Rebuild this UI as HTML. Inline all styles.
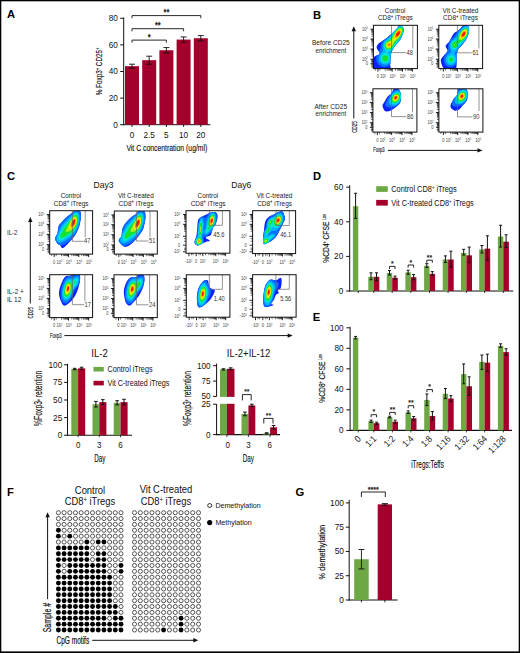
<!DOCTYPE html>
<html><head><meta charset="utf-8"><style>
html,body{margin:0;padding:0;background:#fff;width:520px;height:653px;overflow:hidden;position:relative}
text{font-family:"Liberation Sans",sans-serif}
</style></head><body>
<svg width="520" height="653" viewBox="0 0 520 653" style="position:absolute;left:0;top:0">
<g font-family='"Liberation Sans", sans-serif' fill="#111">
<rect x="0" y="0" width="520" height="1.3" fill="#000"/><rect x="0" y="0" width="1.3" height="653" fill="#000"/><rect x="518.7" y="0" width="1.3" height="653" fill="#000"/><rect x="0" y="651.4" width="520" height="1.6" fill="#000"/>
<text x="7.00" y="18.30" font-size="11.20" text-anchor="start" font-weight="bold" fill="#000" >A</text>
<text x="313.00" y="18.70" font-size="11.20" text-anchor="start" font-weight="bold" fill="#000" >B</text>
<text x="7.00" y="180.00" font-size="11.20" text-anchor="start" font-weight="bold" fill="#000" >C</text>
<text x="313.00" y="179.80" font-size="11.20" text-anchor="start" font-weight="bold" fill="#000" >D</text>
<text x="312.70" y="321.30" font-size="11.20" text-anchor="start" font-weight="bold" fill="#000" >E</text>
<text x="7.00" y="495.50" font-size="11.20" text-anchor="start" font-weight="bold" fill="#000" >F</text>
<text x="295.50" y="496.00" font-size="11.20" text-anchor="start" font-weight="bold" fill="#000" >G</text>
<line x1="123.70" y1="17.50" x2="123.70" y2="125.20" stroke="#111" stroke-width="1"/>
<line x1="123.20" y1="124.70" x2="210.40" y2="124.70" stroke="#111" stroke-width="1"/>
<line x1="120.20" y1="124.70" x2="123.70" y2="124.70" stroke="#111" stroke-width="1"/>
<text x="117.90" y="127.65" font-size="9.18" text-anchor="end" textLength="4.56" lengthAdjust="spacingAndGlyphs" >0</text>
<line x1="120.20" y1="98.10" x2="123.70" y2="98.10" stroke="#111" stroke-width="1"/>
<text x="117.90" y="101.05" font-size="9.18" text-anchor="end" textLength="9.12" lengthAdjust="spacingAndGlyphs" >20</text>
<line x1="120.20" y1="71.50" x2="123.70" y2="71.50" stroke="#111" stroke-width="1"/>
<text x="117.90" y="74.45" font-size="9.18" text-anchor="end" textLength="9.12" lengthAdjust="spacingAndGlyphs" >40</text>
<line x1="120.20" y1="44.90" x2="123.70" y2="44.90" stroke="#111" stroke-width="1"/>
<text x="117.90" y="47.85" font-size="9.18" text-anchor="end" textLength="9.12" lengthAdjust="spacingAndGlyphs" >60</text>
<line x1="120.20" y1="18.30" x2="123.70" y2="18.30" stroke="#111" stroke-width="1"/>
<text x="117.90" y="21.25" font-size="9.18" text-anchor="end" textLength="9.12" lengthAdjust="spacingAndGlyphs" >80</text>
<rect x="125.00" y="66.18" width="14.00" height="58.52" fill="#a5002b"/>
<line x1="132.00" y1="64.19" x2="132.00" y2="68.17" stroke="#111" stroke-width="0.9"/>
<line x1="129.00" y1="64.19" x2="135.00" y2="64.19" stroke="#111" stroke-width="0.9"/>
<line x1="129.00" y1="68.17" x2="135.00" y2="68.17" stroke="#111" stroke-width="0.9"/>
<line x1="132.00" y1="124.70" x2="132.00" y2="126.90" stroke="#111" stroke-width="1"/>
<text x="132.00" y="138.10" font-size="9.18" text-anchor="middle" textLength="4.56" lengthAdjust="spacingAndGlyphs" >0</text>
<rect x="142.20" y="60.19" width="14.00" height="64.51" fill="#a5002b"/>
<line x1="149.20" y1="56.20" x2="149.20" y2="64.19" stroke="#111" stroke-width="0.9"/>
<line x1="146.20" y1="56.20" x2="152.20" y2="56.20" stroke="#111" stroke-width="0.9"/>
<line x1="146.20" y1="64.19" x2="152.20" y2="64.19" stroke="#111" stroke-width="0.9"/>
<line x1="149.20" y1="124.70" x2="149.20" y2="126.90" stroke="#111" stroke-width="1"/>
<text x="149.20" y="138.10" font-size="9.18" text-anchor="middle" textLength="11.40" lengthAdjust="spacingAndGlyphs" >2.5</text>
<rect x="159.40" y="50.22" width="14.00" height="74.48" fill="#a5002b"/>
<line x1="166.40" y1="47.56" x2="166.40" y2="52.88" stroke="#111" stroke-width="0.9"/>
<line x1="163.40" y1="47.56" x2="169.40" y2="47.56" stroke="#111" stroke-width="0.9"/>
<line x1="163.40" y1="52.88" x2="169.40" y2="52.88" stroke="#111" stroke-width="0.9"/>
<line x1="166.40" y1="124.70" x2="166.40" y2="126.90" stroke="#111" stroke-width="1"/>
<text x="166.40" y="138.10" font-size="9.18" text-anchor="middle" textLength="4.56" lengthAdjust="spacingAndGlyphs" >5</text>
<rect x="176.60" y="39.58" width="14.00" height="85.12" fill="#a5002b"/>
<line x1="183.60" y1="36.92" x2="183.60" y2="42.24" stroke="#111" stroke-width="0.9"/>
<line x1="180.60" y1="36.92" x2="186.60" y2="36.92" stroke="#111" stroke-width="0.9"/>
<line x1="180.60" y1="42.24" x2="186.60" y2="42.24" stroke="#111" stroke-width="0.9"/>
<line x1="183.60" y1="124.70" x2="183.60" y2="126.90" stroke="#111" stroke-width="1"/>
<text x="183.60" y="138.10" font-size="9.18" text-anchor="middle" textLength="9.12" lengthAdjust="spacingAndGlyphs" >10</text>
<rect x="193.80" y="38.25" width="14.00" height="86.45" fill="#a5002b"/>
<line x1="200.80" y1="35.59" x2="200.80" y2="40.91" stroke="#111" stroke-width="0.9"/>
<line x1="197.80" y1="35.59" x2="203.80" y2="35.59" stroke="#111" stroke-width="0.9"/>
<line x1="197.80" y1="40.91" x2="203.80" y2="40.91" stroke="#111" stroke-width="0.9"/>
<line x1="200.80" y1="124.70" x2="200.80" y2="126.90" stroke="#111" stroke-width="1"/>
<text x="200.80" y="138.10" font-size="9.18" text-anchor="middle" textLength="9.12" lengthAdjust="spacingAndGlyphs" >20</text>
<text x="166.90" y="150.90" font-size="9.52" text-anchor="middle" textLength="81.00" lengthAdjust="spacingAndGlyphs" stroke="#111" stroke-width="0.15">Vit C concentration (ug/ml)</text>
<text x="102.2" y="71.4" font-size="9.1" text-anchor="middle" transform="rotate(-90 102.2 71.4)" stroke="#111" stroke-width="0.15" textLength="47.7" lengthAdjust="spacingAndGlyphs">% Foxp3<tspan dy="-3.2" font-size="6">+</tspan><tspan dy="3.2"> CD25</tspan><tspan dy="-3.2" font-size="6">+</tspan></text>
<polyline points="132.00,18.20 132.00,15.60 200.80,15.60 200.80,18.20" fill="none" stroke="#111" stroke-width="0.9"/>
<text x="166.40" y="15.30" font-size="8.40" text-anchor="middle" textLength="5.84" lengthAdjust="spacingAndGlyphs" stroke="#111" stroke-width="0.3">**</text>
<polyline points="132.00,31.30 132.00,28.70 183.60,28.70 183.60,31.30" fill="none" stroke="#111" stroke-width="0.9"/>
<text x="157.80" y="28.40" font-size="8.40" text-anchor="middle" textLength="5.84" lengthAdjust="spacingAndGlyphs" stroke="#111" stroke-width="0.3">**</text>
<polyline points="132.00,42.70 132.00,40.10 166.40,40.10 166.40,42.70" fill="none" stroke="#111" stroke-width="0.9"/>
<text x="149.20" y="39.80" font-size="8.40" text-anchor="middle" textLength="2.92" lengthAdjust="spacingAndGlyphs" stroke="#111" stroke-width="0.3">*</text>
<line x1="349.70" y1="185.20" x2="349.70" y2="291.50" stroke="#111" stroke-width="1"/>
<line x1="349.20" y1="291.00" x2="513.30" y2="291.00" stroke="#111" stroke-width="1.1"/>
<line x1="346.20" y1="291.00" x2="349.70" y2="291.00" stroke="#111" stroke-width="1"/>
<text x="343.20" y="293.95" font-size="9.18" text-anchor="end" textLength="4.56" lengthAdjust="spacingAndGlyphs" >0</text>
<line x1="346.20" y1="256.40" x2="349.70" y2="256.40" stroke="#111" stroke-width="1"/>
<text x="343.20" y="259.35" font-size="9.18" text-anchor="end" textLength="9.12" lengthAdjust="spacingAndGlyphs" >20</text>
<line x1="346.20" y1="221.80" x2="349.70" y2="221.80" stroke="#111" stroke-width="1"/>
<text x="343.20" y="224.75" font-size="9.18" text-anchor="end" textLength="9.12" lengthAdjust="spacingAndGlyphs" >40</text>
<line x1="346.20" y1="187.20" x2="349.70" y2="187.20" stroke="#111" stroke-width="1"/>
<text x="343.20" y="190.15" font-size="9.18" text-anchor="end" textLength="9.12" lengthAdjust="spacingAndGlyphs" >60</text>
<rect x="352.90" y="206.23" width="5.40" height="84.77" fill="#6da845"/>
<line x1="355.60" y1="193.25" x2="355.60" y2="218.34" stroke="#111" stroke-width="1.0"/>
<line x1="354.10" y1="193.25" x2="357.10" y2="193.25" stroke="#111" stroke-width="1.0"/>
<line x1="354.10" y1="218.34" x2="357.10" y2="218.34" stroke="#111" stroke-width="1.0"/>
<line x1="358.30" y1="291.00" x2="358.30" y2="293.00" stroke="#111" stroke-width="0.8"/>
<rect x="368.30" y="276.81" width="5.40" height="14.19" fill="#6da845"/>
<line x1="371.00" y1="272.83" x2="371.00" y2="279.75" stroke="#111" stroke-width="1.0"/>
<line x1="369.50" y1="272.83" x2="372.50" y2="272.83" stroke="#111" stroke-width="1.0"/>
<line x1="369.50" y1="279.75" x2="372.50" y2="279.75" stroke="#111" stroke-width="1.0"/>
<rect x="373.70" y="276.81" width="5.60" height="14.19" fill="#a5002b"/>
<line x1="376.50" y1="272.83" x2="376.50" y2="280.62" stroke="#111" stroke-width="1.0"/>
<line x1="375.00" y1="272.83" x2="378.00" y2="272.83" stroke="#111" stroke-width="1.0"/>
<line x1="375.00" y1="280.62" x2="378.00" y2="280.62" stroke="#111" stroke-width="1.0"/>
<line x1="373.70" y1="291.00" x2="373.70" y2="293.00" stroke="#111" stroke-width="0.8"/>
<rect x="386.80" y="273.01" width="5.40" height="17.99" fill="#6da845"/>
<line x1="389.50" y1="270.59" x2="389.50" y2="275.08" stroke="#111" stroke-width="1.0"/>
<line x1="388.00" y1="270.59" x2="391.00" y2="270.59" stroke="#111" stroke-width="1.0"/>
<line x1="388.00" y1="275.08" x2="391.00" y2="275.08" stroke="#111" stroke-width="1.0"/>
<rect x="392.20" y="277.68" width="5.60" height="13.32" fill="#a5002b"/>
<line x1="395.00" y1="276.12" x2="395.00" y2="279.24" stroke="#111" stroke-width="1.0"/>
<line x1="393.50" y1="276.12" x2="396.50" y2="276.12" stroke="#111" stroke-width="1.0"/>
<line x1="393.50" y1="279.24" x2="396.50" y2="279.24" stroke="#111" stroke-width="1.0"/>
<line x1="392.20" y1="291.00" x2="392.20" y2="293.00" stroke="#111" stroke-width="0.8"/>
<rect x="405.40" y="272.32" width="5.40" height="18.68" fill="#6da845"/>
<line x1="408.10" y1="270.24" x2="408.10" y2="274.22" stroke="#111" stroke-width="1.0"/>
<line x1="406.60" y1="270.24" x2="409.60" y2="270.24" stroke="#111" stroke-width="1.0"/>
<line x1="406.60" y1="274.22" x2="409.60" y2="274.22" stroke="#111" stroke-width="1.0"/>
<rect x="410.80" y="277.16" width="5.60" height="13.84" fill="#a5002b"/>
<line x1="413.60" y1="274.56" x2="413.60" y2="279.75" stroke="#111" stroke-width="1.0"/>
<line x1="412.10" y1="274.56" x2="415.10" y2="274.56" stroke="#111" stroke-width="1.0"/>
<line x1="412.10" y1="279.75" x2="415.10" y2="279.75" stroke="#111" stroke-width="1.0"/>
<line x1="410.80" y1="291.00" x2="410.80" y2="293.00" stroke="#111" stroke-width="0.8"/>
<rect x="424.10" y="265.74" width="5.40" height="25.26" fill="#6da845"/>
<line x1="426.80" y1="263.67" x2="426.80" y2="267.47" stroke="#111" stroke-width="1.0"/>
<line x1="425.30" y1="263.67" x2="428.30" y2="263.67" stroke="#111" stroke-width="1.0"/>
<line x1="425.30" y1="267.47" x2="428.30" y2="267.47" stroke="#111" stroke-width="1.0"/>
<rect x="429.50" y="273.87" width="5.60" height="17.13" fill="#a5002b"/>
<line x1="432.30" y1="271.62" x2="432.30" y2="275.60" stroke="#111" stroke-width="1.0"/>
<line x1="430.80" y1="271.62" x2="433.80" y2="271.62" stroke="#111" stroke-width="1.0"/>
<line x1="430.80" y1="275.60" x2="433.80" y2="275.60" stroke="#111" stroke-width="1.0"/>
<line x1="429.50" y1="291.00" x2="429.50" y2="293.00" stroke="#111" stroke-width="0.8"/>
<rect x="442.70" y="259.51" width="5.40" height="31.49" fill="#6da845"/>
<line x1="445.40" y1="255.88" x2="445.40" y2="262.45" stroke="#111" stroke-width="1.0"/>
<line x1="443.90" y1="255.88" x2="446.90" y2="255.88" stroke="#111" stroke-width="1.0"/>
<line x1="443.90" y1="262.45" x2="446.90" y2="262.45" stroke="#111" stroke-width="1.0"/>
<rect x="448.10" y="259.51" width="5.60" height="31.49" fill="#a5002b"/>
<line x1="450.90" y1="251.21" x2="450.90" y2="267.30" stroke="#111" stroke-width="1.0"/>
<line x1="449.40" y1="251.21" x2="452.40" y2="251.21" stroke="#111" stroke-width="1.0"/>
<line x1="449.40" y1="267.30" x2="452.40" y2="267.30" stroke="#111" stroke-width="1.0"/>
<line x1="448.10" y1="291.00" x2="448.10" y2="293.00" stroke="#111" stroke-width="0.8"/>
<rect x="461.00" y="252.94" width="5.40" height="38.06" fill="#6da845"/>
<line x1="463.70" y1="249.31" x2="463.70" y2="255.02" stroke="#111" stroke-width="1.0"/>
<line x1="462.20" y1="249.31" x2="465.20" y2="249.31" stroke="#111" stroke-width="1.0"/>
<line x1="462.20" y1="255.02" x2="465.20" y2="255.02" stroke="#111" stroke-width="1.0"/>
<rect x="466.40" y="255.36" width="5.60" height="35.64" fill="#a5002b"/>
<line x1="469.20" y1="247.06" x2="469.20" y2="262.63" stroke="#111" stroke-width="1.0"/>
<line x1="467.70" y1="247.06" x2="470.70" y2="247.06" stroke="#111" stroke-width="1.0"/>
<line x1="467.70" y1="262.63" x2="470.70" y2="262.63" stroke="#111" stroke-width="1.0"/>
<line x1="466.40" y1="291.00" x2="466.40" y2="293.00" stroke="#111" stroke-width="0.8"/>
<rect x="479.20" y="249.48" width="5.40" height="41.52" fill="#6da845"/>
<line x1="481.90" y1="245.50" x2="481.90" y2="252.94" stroke="#111" stroke-width="1.0"/>
<line x1="480.40" y1="245.50" x2="483.40" y2="245.50" stroke="#111" stroke-width="1.0"/>
<line x1="480.40" y1="252.94" x2="483.40" y2="252.94" stroke="#111" stroke-width="1.0"/>
<rect x="484.60" y="248.62" width="5.60" height="42.38" fill="#a5002b"/>
<line x1="487.40" y1="235.81" x2="487.40" y2="260.73" stroke="#111" stroke-width="1.0"/>
<line x1="485.90" y1="235.81" x2="488.90" y2="235.81" stroke="#111" stroke-width="1.0"/>
<line x1="485.90" y1="260.73" x2="488.90" y2="260.73" stroke="#111" stroke-width="1.0"/>
<line x1="484.60" y1="291.00" x2="484.60" y2="293.00" stroke="#111" stroke-width="0.8"/>
<rect x="497.90" y="236.50" width="5.40" height="54.50" fill="#6da845"/>
<line x1="500.60" y1="225.26" x2="500.60" y2="247.06" stroke="#111" stroke-width="1.0"/>
<line x1="499.10" y1="225.26" x2="502.10" y2="225.26" stroke="#111" stroke-width="1.0"/>
<line x1="499.10" y1="247.06" x2="502.10" y2="247.06" stroke="#111" stroke-width="1.0"/>
<rect x="503.30" y="241.69" width="5.60" height="49.31" fill="#a5002b"/>
<line x1="506.10" y1="234.77" x2="506.10" y2="247.23" stroke="#111" stroke-width="1.0"/>
<line x1="504.60" y1="234.77" x2="507.60" y2="234.77" stroke="#111" stroke-width="1.0"/>
<line x1="504.60" y1="247.23" x2="507.60" y2="247.23" stroke="#111" stroke-width="1.0"/>
<line x1="503.30" y1="291.00" x2="503.30" y2="293.00" stroke="#111" stroke-width="0.8"/>
<polyline points="389.50,269.00 389.50,266.40 395.00,266.40 395.00,269.00" fill="none" stroke="#111" stroke-width="0.9"/>
<text x="392.20" y="266.10" font-size="7.62" text-anchor="middle" textLength="2.65" lengthAdjust="spacingAndGlyphs" stroke="#111" stroke-width="0.2">*</text>
<polyline points="408.10,267.60 408.10,265.00 413.60,265.00 413.60,267.60" fill="none" stroke="#111" stroke-width="0.9"/>
<text x="410.80" y="264.70" font-size="7.62" text-anchor="middle" textLength="2.65" lengthAdjust="spacingAndGlyphs" stroke="#111" stroke-width="0.2">*</text>
<polyline points="426.80,262.80 426.80,260.20 432.30,260.20 432.30,262.80" fill="none" stroke="#111" stroke-width="0.9"/>
<text x="429.50" y="259.90" font-size="7.62" text-anchor="middle" textLength="5.29" lengthAdjust="spacingAndGlyphs" stroke="#111" stroke-width="0.2">**</text>
<rect x="376.20" y="186.20" width="11.60" height="5.70" fill="#6da845"/>
<rect x="376.20" y="199.90" width="11.60" height="5.70" fill="#a5002b"/>
<text x="391.2" y="191.9" font-size="8.40" textLength="65.5" lengthAdjust="spacingAndGlyphs">Control CD8<tspan dy="-2.8" font-size="4.8">+</tspan><tspan dy="2.8"> iTregs</tspan></text>
<text x="391.2" y="205.7" font-size="8.40" textLength="82.5" lengthAdjust="spacingAndGlyphs">Vit C-treated CD8<tspan dy="-2.8" font-size="4.8">+</tspan><tspan dy="2.8"> iTregs</tspan></text>
<text x="328.8" y="238.4" font-size="9.8" text-anchor="middle" transform="rotate(-90 328.8 238.4)" stroke="#111" stroke-width="0.15" textLength="48.7" lengthAdjust="spacingAndGlyphs">%CD4<tspan dy="-2.8" font-size="5">+</tspan><tspan dy="2.8"> CFSE </tspan><tspan dy="-3" font-size="4.5">Low</tspan></text>
<line x1="350.10" y1="326.80" x2="350.10" y2="430.90" stroke="#111" stroke-width="1"/>
<line x1="349.60" y1="430.40" x2="512.00" y2="430.40" stroke="#111" stroke-width="1.1"/>
<line x1="346.40" y1="430.40" x2="349.90" y2="430.40" stroke="#111" stroke-width="1"/>
<text x="343.60" y="433.35" font-size="9.18" text-anchor="end" textLength="4.56" lengthAdjust="spacingAndGlyphs" >0</text>
<line x1="346.40" y1="409.88" x2="349.90" y2="409.88" stroke="#111" stroke-width="1"/>
<text x="343.60" y="412.83" font-size="9.18" text-anchor="end" textLength="9.12" lengthAdjust="spacingAndGlyphs" >20</text>
<line x1="346.40" y1="389.36" x2="349.90" y2="389.36" stroke="#111" stroke-width="1"/>
<text x="343.60" y="392.31" font-size="9.18" text-anchor="end" textLength="9.12" lengthAdjust="spacingAndGlyphs" >40</text>
<line x1="346.40" y1="368.84" x2="349.90" y2="368.84" stroke="#111" stroke-width="1"/>
<text x="343.60" y="371.79" font-size="9.18" text-anchor="end" textLength="9.12" lengthAdjust="spacingAndGlyphs" >60</text>
<line x1="346.40" y1="348.32" x2="349.90" y2="348.32" stroke="#111" stroke-width="1"/>
<text x="343.60" y="351.27" font-size="9.18" text-anchor="end" textLength="9.12" lengthAdjust="spacingAndGlyphs" >80</text>
<line x1="346.40" y1="327.80" x2="349.90" y2="327.80" stroke="#111" stroke-width="1"/>
<text x="343.60" y="330.75" font-size="9.18" text-anchor="end" textLength="13.68" lengthAdjust="spacingAndGlyphs" >100</text>
<rect x="352.90" y="337.75" width="5.40" height="92.65" fill="#6da845"/>
<line x1="355.60" y1="336.42" x2="355.60" y2="338.88" stroke="#111" stroke-width="1.0"/>
<line x1="354.10" y1="336.42" x2="357.10" y2="336.42" stroke="#111" stroke-width="1.0"/>
<line x1="354.10" y1="338.88" x2="357.10" y2="338.88" stroke="#111" stroke-width="1.0"/>
<line x1="358.30" y1="430.40" x2="358.30" y2="432.40" stroke="#111" stroke-width="0.8"/>
<rect x="368.40" y="421.17" width="5.40" height="9.23" fill="#6da845"/>
<line x1="371.10" y1="420.14" x2="371.10" y2="422.40" stroke="#111" stroke-width="1.0"/>
<line x1="369.60" y1="420.14" x2="372.60" y2="420.14" stroke="#111" stroke-width="1.0"/>
<line x1="369.60" y1="422.40" x2="372.60" y2="422.40" stroke="#111" stroke-width="1.0"/>
<rect x="373.80" y="423.22" width="5.60" height="7.18" fill="#a5002b"/>
<line x1="376.60" y1="422.19" x2="376.60" y2="424.24" stroke="#111" stroke-width="1.0"/>
<line x1="375.10" y1="422.19" x2="378.10" y2="422.19" stroke="#111" stroke-width="1.0"/>
<line x1="375.10" y1="424.24" x2="378.10" y2="424.24" stroke="#111" stroke-width="1.0"/>
<line x1="373.80" y1="430.40" x2="373.80" y2="432.40" stroke="#111" stroke-width="0.8"/>
<rect x="387.00" y="417.06" width="5.40" height="13.34" fill="#6da845"/>
<line x1="389.70" y1="416.24" x2="389.70" y2="417.88" stroke="#111" stroke-width="1.0"/>
<line x1="388.20" y1="416.24" x2="391.20" y2="416.24" stroke="#111" stroke-width="1.0"/>
<line x1="388.20" y1="417.88" x2="391.20" y2="417.88" stroke="#111" stroke-width="1.0"/>
<rect x="392.40" y="421.68" width="5.60" height="8.72" fill="#a5002b"/>
<line x1="395.20" y1="420.14" x2="395.20" y2="423.22" stroke="#111" stroke-width="1.0"/>
<line x1="393.70" y1="420.14" x2="396.70" y2="420.14" stroke="#111" stroke-width="1.0"/>
<line x1="393.70" y1="423.22" x2="396.70" y2="423.22" stroke="#111" stroke-width="1.0"/>
<line x1="392.40" y1="430.40" x2="392.40" y2="432.40" stroke="#111" stroke-width="0.8"/>
<rect x="405.50" y="412.34" width="5.40" height="18.06" fill="#6da845"/>
<line x1="408.20" y1="410.91" x2="408.20" y2="413.47" stroke="#111" stroke-width="1.0"/>
<line x1="406.70" y1="410.91" x2="409.70" y2="410.91" stroke="#111" stroke-width="1.0"/>
<line x1="406.70" y1="413.47" x2="409.70" y2="413.47" stroke="#111" stroke-width="1.0"/>
<rect x="410.90" y="418.29" width="5.60" height="12.11" fill="#a5002b"/>
<line x1="413.70" y1="416.55" x2="413.70" y2="420.14" stroke="#111" stroke-width="1.0"/>
<line x1="412.20" y1="416.55" x2="415.20" y2="416.55" stroke="#111" stroke-width="1.0"/>
<line x1="412.20" y1="420.14" x2="415.20" y2="420.14" stroke="#111" stroke-width="1.0"/>
<line x1="410.90" y1="430.40" x2="410.90" y2="432.40" stroke="#111" stroke-width="0.8"/>
<rect x="424.20" y="400.03" width="5.40" height="30.37" fill="#6da845"/>
<line x1="426.90" y1="393.98" x2="426.90" y2="405.57" stroke="#111" stroke-width="1.0"/>
<line x1="425.40" y1="393.98" x2="428.40" y2="393.98" stroke="#111" stroke-width="1.0"/>
<line x1="425.40" y1="405.57" x2="428.40" y2="405.57" stroke="#111" stroke-width="1.0"/>
<rect x="429.60" y="415.93" width="5.60" height="14.47" fill="#a5002b"/>
<line x1="432.40" y1="411.62" x2="432.40" y2="419.93" stroke="#111" stroke-width="1.0"/>
<line x1="430.90" y1="411.62" x2="433.90" y2="411.62" stroke="#111" stroke-width="1.0"/>
<line x1="430.90" y1="419.93" x2="433.90" y2="419.93" stroke="#111" stroke-width="1.0"/>
<line x1="429.60" y1="430.40" x2="429.60" y2="432.40" stroke="#111" stroke-width="0.8"/>
<rect x="442.70" y="393.77" width="5.40" height="36.63" fill="#6da845"/>
<line x1="445.40" y1="388.54" x2="445.40" y2="398.59" stroke="#111" stroke-width="1.0"/>
<line x1="443.90" y1="388.54" x2="446.90" y2="388.54" stroke="#111" stroke-width="1.0"/>
<line x1="443.90" y1="398.59" x2="446.90" y2="398.59" stroke="#111" stroke-width="1.0"/>
<rect x="448.10" y="398.59" width="5.60" height="31.81" fill="#a5002b"/>
<line x1="450.90" y1="395.72" x2="450.90" y2="401.67" stroke="#111" stroke-width="1.0"/>
<line x1="449.40" y1="395.72" x2="452.40" y2="395.72" stroke="#111" stroke-width="1.0"/>
<line x1="449.40" y1="401.67" x2="452.40" y2="401.67" stroke="#111" stroke-width="1.0"/>
<line x1="448.10" y1="430.40" x2="448.10" y2="432.40" stroke="#111" stroke-width="0.8"/>
<rect x="461.00" y="374.18" width="5.40" height="56.22" fill="#6da845"/>
<line x1="463.70" y1="363.92" x2="463.70" y2="383.72" stroke="#111" stroke-width="1.0"/>
<line x1="462.20" y1="363.92" x2="465.20" y2="363.92" stroke="#111" stroke-width="1.0"/>
<line x1="462.20" y1="383.72" x2="465.20" y2="383.72" stroke="#111" stroke-width="1.0"/>
<rect x="466.40" y="386.28" width="5.60" height="44.12" fill="#a5002b"/>
<line x1="469.20" y1="376.84" x2="469.20" y2="395.52" stroke="#111" stroke-width="1.0"/>
<line x1="467.70" y1="376.84" x2="470.70" y2="376.84" stroke="#111" stroke-width="1.0"/>
<line x1="467.70" y1="395.52" x2="470.70" y2="395.52" stroke="#111" stroke-width="1.0"/>
<line x1="466.40" y1="430.40" x2="466.40" y2="432.40" stroke="#111" stroke-width="0.8"/>
<rect x="479.20" y="361.86" width="5.40" height="68.54" fill="#6da845"/>
<line x1="481.90" y1="354.99" x2="481.90" y2="369.35" stroke="#111" stroke-width="1.0"/>
<line x1="480.40" y1="354.99" x2="483.40" y2="354.99" stroke="#111" stroke-width="1.0"/>
<line x1="480.40" y1="369.35" x2="483.40" y2="369.35" stroke="#111" stroke-width="1.0"/>
<rect x="484.60" y="362.68" width="5.60" height="67.72" fill="#a5002b"/>
<line x1="487.40" y1="354.17" x2="487.40" y2="371.40" stroke="#111" stroke-width="1.0"/>
<line x1="485.90" y1="354.17" x2="488.90" y2="354.17" stroke="#111" stroke-width="1.0"/>
<line x1="485.90" y1="371.40" x2="488.90" y2="371.40" stroke="#111" stroke-width="1.0"/>
<line x1="484.60" y1="430.40" x2="484.60" y2="432.40" stroke="#111" stroke-width="0.8"/>
<rect x="497.90" y="345.86" width="5.40" height="84.54" fill="#6da845"/>
<line x1="500.60" y1="343.81" x2="500.60" y2="347.40" stroke="#111" stroke-width="1.0"/>
<line x1="499.10" y1="343.81" x2="502.10" y2="343.81" stroke="#111" stroke-width="1.0"/>
<line x1="499.10" y1="347.40" x2="502.10" y2="347.40" stroke="#111" stroke-width="1.0"/>
<rect x="503.30" y="352.12" width="5.60" height="78.28" fill="#a5002b"/>
<line x1="506.10" y1="348.73" x2="506.10" y2="355.50" stroke="#111" stroke-width="1.0"/>
<line x1="504.60" y1="348.73" x2="507.60" y2="348.73" stroke="#111" stroke-width="1.0"/>
<line x1="504.60" y1="355.50" x2="507.60" y2="355.50" stroke="#111" stroke-width="1.0"/>
<line x1="503.30" y1="430.40" x2="503.30" y2="432.40" stroke="#111" stroke-width="0.8"/>
<polyline points="371.10,417.30 371.10,414.70 376.60,414.70 376.60,417.30" fill="none" stroke="#111" stroke-width="0.9"/>
<text x="373.80" y="414.40" font-size="7.62" text-anchor="middle" textLength="2.65" lengthAdjust="spacingAndGlyphs" stroke="#111" stroke-width="0.2">*</text>
<polyline points="389.70,415.00 389.70,412.40 395.20,412.40 395.20,415.00" fill="none" stroke="#111" stroke-width="0.9"/>
<text x="392.40" y="412.10" font-size="7.62" text-anchor="middle" textLength="5.29" lengthAdjust="spacingAndGlyphs" stroke="#111" stroke-width="0.2">**</text>
<polyline points="408.20,408.30 408.20,405.70 413.70,405.70 413.70,408.30" fill="none" stroke="#111" stroke-width="0.9"/>
<text x="410.90" y="405.40" font-size="7.62" text-anchor="middle" textLength="5.29" lengthAdjust="spacingAndGlyphs" stroke="#111" stroke-width="0.2">**</text>
<polyline points="426.90,392.20 426.90,389.60 432.40,389.60 432.40,392.20" fill="none" stroke="#111" stroke-width="0.9"/>
<text x="429.60" y="389.30" font-size="7.62" text-anchor="middle" textLength="2.65" lengthAdjust="spacingAndGlyphs" stroke="#111" stroke-width="0.2">*</text>
<text x="361.60" y="439.40" font-size="9.3" text-anchor="end" textLength="4.62" lengthAdjust="spacingAndGlyphs" transform="rotate(-45 361.60 439.40)">0</text>
<text x="377.10" y="439.40" font-size="9.3" text-anchor="end" textLength="11.54" lengthAdjust="spacingAndGlyphs" transform="rotate(-45 377.10 439.40)">1:1</text>
<text x="395.70" y="439.40" font-size="9.3" text-anchor="end" textLength="11.54" lengthAdjust="spacingAndGlyphs" transform="rotate(-45 395.70 439.40)">1:2</text>
<text x="414.20" y="439.40" font-size="9.3" text-anchor="end" textLength="11.54" lengthAdjust="spacingAndGlyphs" transform="rotate(-45 414.20 439.40)">1:4</text>
<text x="432.90" y="439.40" font-size="9.3" text-anchor="end" textLength="11.54" lengthAdjust="spacingAndGlyphs" transform="rotate(-45 432.90 439.40)">1:8</text>
<text x="451.40" y="439.40" font-size="9.3" text-anchor="end" textLength="16.15" lengthAdjust="spacingAndGlyphs" transform="rotate(-45 451.40 439.40)">1:16</text>
<text x="469.70" y="439.40" font-size="9.3" text-anchor="end" textLength="16.15" lengthAdjust="spacingAndGlyphs" transform="rotate(-45 469.70 439.40)">1:32</text>
<text x="487.90" y="439.40" font-size="9.3" text-anchor="end" textLength="16.15" lengthAdjust="spacingAndGlyphs" transform="rotate(-45 487.90 439.40)">1:64</text>
<text x="506.60" y="439.40" font-size="9.3" text-anchor="end" textLength="20.77" lengthAdjust="spacingAndGlyphs" transform="rotate(-45 506.60 439.40)">1:128</text>
<text x="427.50" y="468.20" font-size="10.75" text-anchor="middle" textLength="32.70" lengthAdjust="spacingAndGlyphs" stroke="#111" stroke-width="0.15">iTregs:Teffs</text>
<text x="324.8" y="378.4" font-size="9.8" text-anchor="middle" transform="rotate(-90 324.8 378.4)" stroke="#111" stroke-width="0.15" textLength="48.7" lengthAdjust="spacingAndGlyphs">%CD8<tspan dy="-2.8" font-size="5">+</tspan><tspan dy="2.8"> CFSE </tspan><tspan dy="-3" font-size="4.5">Low</tspan></text>
<line x1="67.50" y1="363.80" x2="67.50" y2="435.70" stroke="#111" stroke-width="1"/>
<line x1="67.00" y1="435.20" x2="132.00" y2="435.20" stroke="#111" stroke-width="1.1"/>
<line x1="64.10" y1="435.20" x2="67.80" y2="435.20" stroke="#111" stroke-width="1"/>
<text x="62.20" y="438.15" font-size="9.18" text-anchor="end" textLength="4.56" lengthAdjust="spacingAndGlyphs" >0</text>
<line x1="64.10" y1="417.60" x2="67.80" y2="417.60" stroke="#111" stroke-width="1"/>
<text x="62.20" y="420.55" font-size="9.18" text-anchor="end" textLength="9.12" lengthAdjust="spacingAndGlyphs" >25</text>
<line x1="64.10" y1="400.00" x2="67.80" y2="400.00" stroke="#111" stroke-width="1"/>
<text x="62.20" y="402.95" font-size="9.18" text-anchor="end" textLength="9.12" lengthAdjust="spacingAndGlyphs" >50</text>
<line x1="64.10" y1="382.40" x2="67.80" y2="382.40" stroke="#111" stroke-width="1"/>
<text x="62.20" y="385.35" font-size="9.18" text-anchor="end" textLength="9.12" lengthAdjust="spacingAndGlyphs" >75</text>
<line x1="64.10" y1="364.80" x2="67.80" y2="364.80" stroke="#111" stroke-width="1"/>
<text x="62.20" y="367.75" font-size="9.18" text-anchor="end" textLength="13.68" lengthAdjust="spacingAndGlyphs" >100</text>
<rect x="71.30" y="369.02" width="6.80" height="66.18" fill="#6da845"/>
<rect x="78.10" y="368.32" width="7.10" height="66.88" fill="#a5002b"/>
<line x1="74.70" y1="368.32" x2="74.70" y2="369.73" stroke="#111" stroke-width="1.0"/>
<line x1="72.90" y1="368.32" x2="76.50" y2="368.32" stroke="#111" stroke-width="1.0"/>
<line x1="72.90" y1="369.73" x2="76.50" y2="369.73" stroke="#111" stroke-width="1.0"/>
<line x1="81.60" y1="367.26" x2="81.60" y2="369.38" stroke="#111" stroke-width="1.0"/>
<line x1="79.80" y1="367.26" x2="83.40" y2="367.26" stroke="#111" stroke-width="1.0"/>
<line x1="79.80" y1="369.38" x2="83.40" y2="369.38" stroke="#111" stroke-width="1.0"/>
<line x1="78.10" y1="435.20" x2="78.10" y2="437.20" stroke="#111" stroke-width="0.8"/>
<text x="78.10" y="448.10" font-size="8.96" text-anchor="middle" textLength="4.45" lengthAdjust="spacingAndGlyphs" >0</text>
<rect x="92.50" y="404.22" width="6.80" height="30.98" fill="#6da845"/>
<rect x="99.30" y="402.11" width="7.10" height="33.09" fill="#a5002b"/>
<line x1="95.90" y1="401.41" x2="95.90" y2="407.04" stroke="#111" stroke-width="1.0"/>
<line x1="94.10" y1="401.41" x2="97.70" y2="401.41" stroke="#111" stroke-width="1.0"/>
<line x1="94.10" y1="407.04" x2="97.70" y2="407.04" stroke="#111" stroke-width="1.0"/>
<line x1="102.80" y1="399.65" x2="102.80" y2="404.58" stroke="#111" stroke-width="1.0"/>
<line x1="101.00" y1="399.65" x2="104.60" y2="399.65" stroke="#111" stroke-width="1.0"/>
<line x1="101.00" y1="404.58" x2="104.60" y2="404.58" stroke="#111" stroke-width="1.0"/>
<line x1="99.30" y1="435.20" x2="99.30" y2="437.20" stroke="#111" stroke-width="0.8"/>
<text x="99.30" y="448.10" font-size="8.96" text-anchor="middle" textLength="4.45" lengthAdjust="spacingAndGlyphs" >3</text>
<rect x="113.70" y="402.82" width="6.80" height="32.38" fill="#6da845"/>
<rect x="120.50" y="402.11" width="7.10" height="33.09" fill="#a5002b"/>
<line x1="117.10" y1="400.70" x2="117.10" y2="404.93" stroke="#111" stroke-width="1.0"/>
<line x1="115.30" y1="400.70" x2="118.90" y2="400.70" stroke="#111" stroke-width="1.0"/>
<line x1="115.30" y1="404.93" x2="118.90" y2="404.93" stroke="#111" stroke-width="1.0"/>
<line x1="124.00" y1="399.30" x2="124.00" y2="404.93" stroke="#111" stroke-width="1.0"/>
<line x1="122.20" y1="399.30" x2="125.80" y2="399.30" stroke="#111" stroke-width="1.0"/>
<line x1="122.20" y1="404.93" x2="125.80" y2="404.93" stroke="#111" stroke-width="1.0"/>
<line x1="120.50" y1="435.20" x2="120.50" y2="437.20" stroke="#111" stroke-width="0.8"/>
<text x="120.50" y="448.10" font-size="8.96" text-anchor="middle" textLength="4.45" lengthAdjust="spacingAndGlyphs" >6</text>
<text x="99.60" y="357.00" font-size="10.75" text-anchor="middle" textLength="16.54" lengthAdjust="spacingAndGlyphs" >IL-2</text>
<text x="99.80" y="461.50" font-size="10.98" text-anchor="middle" textLength="11.20" lengthAdjust="spacingAndGlyphs" stroke="#111" stroke-width="0.15">Day</text>
<rect x="93.50" y="366.90" width="10.30" height="4.60" fill="#6da845"/>
<rect x="93.50" y="380.80" width="10.30" height="4.60" fill="#a5002b"/>
<text x="107.50" y="372.00" font-size="8.29" text-anchor="start" textLength="45.00" lengthAdjust="spacingAndGlyphs" >Control iTregs</text>
<text x="107.50" y="385.50" font-size="8.29" text-anchor="start" textLength="61.90" lengthAdjust="spacingAndGlyphs" >Vit C-treated iTregs</text>
<text x="42.4" y="398.3" font-size="10.30" text-anchor="middle" transform="rotate(-90 42.4 398.3)" stroke="#111" stroke-width="0.15" textLength="55.4" lengthAdjust="spacingAndGlyphs">%Foxp3<tspan dy="-2.8" font-size="5">+</tspan><tspan dy="2.8"> retention</tspan></text>
<line x1="216.60" y1="363.50" x2="216.60" y2="396.40" stroke="#111" stroke-width="1"/>
<line x1="216.60" y1="404.20" x2="216.60" y2="435.10" stroke="#111" stroke-width="1"/>
<line x1="216.10" y1="434.60" x2="280.00" y2="434.60" stroke="#111" stroke-width="1.1"/>
<line x1="213.10" y1="365.70" x2="216.60" y2="365.70" stroke="#111" stroke-width="1"/>
<text x="210.60" y="368.65" font-size="9.18" text-anchor="end" textLength="13.68" lengthAdjust="spacingAndGlyphs" >100</text>
<line x1="213.10" y1="381.05" x2="216.60" y2="381.05" stroke="#111" stroke-width="1"/>
<text x="210.60" y="384.00" font-size="9.18" text-anchor="end" textLength="9.12" lengthAdjust="spacingAndGlyphs" >75</text>
<line x1="213.10" y1="396.40" x2="216.60" y2="396.40" stroke="#111" stroke-width="1"/>
<text x="210.60" y="399.35" font-size="9.18" text-anchor="end" textLength="9.12" lengthAdjust="spacingAndGlyphs" >50</text>
<line x1="213.10" y1="404.20" x2="216.60" y2="404.20" stroke="#111" stroke-width="1"/>
<text x="210.60" y="407.15" font-size="9.18" text-anchor="end" textLength="9.12" lengthAdjust="spacingAndGlyphs" >25</text>
<line x1="213.10" y1="434.60" x2="216.60" y2="434.60" stroke="#111" stroke-width="1"/>
<text x="210.60" y="437.55" font-size="9.18" text-anchor="end" textLength="4.56" lengthAdjust="spacingAndGlyphs" >0</text>
<rect x="220.00" y="369.38" width="6.90" height="27.52" fill="#6da845"/>
<rect x="226.90" y="368.77" width="7.60" height="28.13" fill="#a5002b"/>
<rect x="220.00" y="403.80" width="6.90" height="30.80" fill="#6da845"/>
<rect x="226.90" y="403.80" width="7.60" height="30.80" fill="#a5002b"/>
<line x1="223.45" y1="368.77" x2="223.45" y2="370.00" stroke="#111" stroke-width="1.0"/>
<line x1="221.65" y1="368.77" x2="225.25" y2="368.77" stroke="#111" stroke-width="1.0"/>
<line x1="221.65" y1="370.00" x2="225.25" y2="370.00" stroke="#111" stroke-width="1.0"/>
<line x1="230.70" y1="367.85" x2="230.70" y2="369.69" stroke="#111" stroke-width="1.0"/>
<line x1="228.90" y1="367.85" x2="232.50" y2="367.85" stroke="#111" stroke-width="1.0"/>
<line x1="228.90" y1="369.69" x2="232.50" y2="369.69" stroke="#111" stroke-width="1.0"/>
<line x1="226.90" y1="435.00" x2="226.90" y2="437.00" stroke="#111" stroke-width="0.8"/>
<rect x="241.50" y="413.93" width="6.90" height="20.67" fill="#6da845"/>
<rect x="248.40" y="405.42" width="6.90" height="29.18" fill="#a5002b"/>
<line x1="244.95" y1="412.10" x2="244.95" y2="415.75" stroke="#111" stroke-width="1.0"/>
<line x1="243.15" y1="412.10" x2="246.75" y2="412.10" stroke="#111" stroke-width="1.0"/>
<line x1="243.15" y1="415.75" x2="246.75" y2="415.75" stroke="#111" stroke-width="1.0"/>
<line x1="251.85" y1="404.20" x2="251.85" y2="406.63" stroke="#111" stroke-width="1.0"/>
<line x1="250.05" y1="404.20" x2="253.65" y2="404.20" stroke="#111" stroke-width="1.0"/>
<line x1="250.05" y1="406.63" x2="253.65" y2="406.63" stroke="#111" stroke-width="1.0"/>
<line x1="248.40" y1="435.00" x2="248.40" y2="437.00" stroke="#111" stroke-width="0.8"/>
<rect x="263.20" y="433.38" width="6.90" height="1.22" fill="#6da845"/>
<rect x="270.10" y="427.30" width="6.90" height="7.30" fill="#a5002b"/>
<line x1="266.65" y1="432.78" x2="266.65" y2="433.99" stroke="#111" stroke-width="1.0"/>
<line x1="264.85" y1="432.78" x2="268.45" y2="432.78" stroke="#111" stroke-width="1.0"/>
<line x1="264.85" y1="433.99" x2="268.45" y2="433.99" stroke="#111" stroke-width="1.0"/>
<line x1="273.55" y1="425.48" x2="273.55" y2="429.13" stroke="#111" stroke-width="1.0"/>
<line x1="271.75" y1="425.48" x2="275.35" y2="425.48" stroke="#111" stroke-width="1.0"/>
<line x1="271.75" y1="429.13" x2="275.35" y2="429.13" stroke="#111" stroke-width="1.0"/>
<line x1="270.10" y1="435.00" x2="270.10" y2="437.00" stroke="#111" stroke-width="0.8"/>
<text x="227.60" y="448.10" font-size="8.96" text-anchor="middle" textLength="4.45" lengthAdjust="spacingAndGlyphs" >0</text>
<text x="248.40" y="448.10" font-size="8.96" text-anchor="middle" textLength="4.45" lengthAdjust="spacingAndGlyphs" >3</text>
<text x="269.60" y="448.10" font-size="8.96" text-anchor="middle" textLength="4.45" lengthAdjust="spacingAndGlyphs" >6</text>
<polyline points="242.40,400.40 242.40,394.60 251.20,394.60 251.20,400.40" fill="none" stroke="#111" stroke-width="0.9"/>
<text x="246.80" y="394.40" font-size="7.62" text-anchor="middle" textLength="5.29" lengthAdjust="spacingAndGlyphs" stroke="#111" stroke-width="0.15">**</text>
<polyline points="263.80,423.50 263.80,418.40 273.00,418.40 273.00,423.50" fill="none" stroke="#111" stroke-width="0.9"/>
<text x="268.40" y="418.20" font-size="7.62" text-anchor="middle" textLength="5.29" lengthAdjust="spacingAndGlyphs" stroke="#111" stroke-width="0.15">**</text>
<text x="248.50" y="356.90" font-size="10.53" text-anchor="middle" textLength="43.40" lengthAdjust="spacingAndGlyphs" >IL-2+IL-12</text>
<text x="248.40" y="461.90" font-size="10.98" text-anchor="middle" textLength="11.20" lengthAdjust="spacingAndGlyphs" stroke="#111" stroke-width="0.15">Day</text>
<text x="190.6" y="398.6" font-size="10.30" text-anchor="middle" transform="rotate(-90 190.6 398.6)" stroke="#111" stroke-width="0.15" textLength="55" lengthAdjust="spacingAndGlyphs">%Foxp3<tspan dy="-2.8" font-size="5">+</tspan><tspan dy="2.8"> retention</tspan></text>
<line x1="349.20" y1="499.90" x2="349.20" y2="600.50" stroke="#111" stroke-width="1"/>
<line x1="348.70" y1="600.00" x2="397.60" y2="600.00" stroke="#111" stroke-width="1.1"/>
<line x1="345.80" y1="600.00" x2="349.20" y2="600.00" stroke="#111" stroke-width="1"/>
<text x="344.00" y="602.95" font-size="9.41" text-anchor="end" textLength="4.67" lengthAdjust="spacingAndGlyphs" >0</text>
<line x1="345.80" y1="575.73" x2="349.20" y2="575.73" stroke="#111" stroke-width="1"/>
<text x="344.00" y="578.68" font-size="9.41" text-anchor="end" textLength="9.34" lengthAdjust="spacingAndGlyphs" >25</text>
<line x1="345.80" y1="551.45" x2="349.20" y2="551.45" stroke="#111" stroke-width="1"/>
<text x="344.00" y="554.40" font-size="9.41" text-anchor="end" textLength="9.34" lengthAdjust="spacingAndGlyphs" >50</text>
<line x1="345.80" y1="527.17" x2="349.20" y2="527.17" stroke="#111" stroke-width="1"/>
<text x="344.00" y="530.12" font-size="9.41" text-anchor="end" textLength="9.34" lengthAdjust="spacingAndGlyphs" >75</text>
<line x1="345.80" y1="502.90" x2="349.20" y2="502.90" stroke="#111" stroke-width="1"/>
<text x="344.00" y="505.85" font-size="9.41" text-anchor="end" textLength="14.01" lengthAdjust="spacingAndGlyphs" >100</text>
<rect x="354.20" y="559.22" width="14.50" height="40.78" fill="#6da845"/>
<rect x="377.70" y="504.36" width="14.30" height="95.64" fill="#a5002b"/>
<line x1="361.45" y1="549.51" x2="361.45" y2="568.93" stroke="#111" stroke-width="0.9"/>
<line x1="358.45" y1="549.51" x2="364.45" y2="549.51" stroke="#111" stroke-width="0.9"/>
<line x1="358.45" y1="568.93" x2="364.45" y2="568.93" stroke="#111" stroke-width="0.9"/>
<line x1="384.85" y1="503.58" x2="384.85" y2="505.13" stroke="#111" stroke-width="0.9"/>
<line x1="381.85" y1="503.58" x2="387.85" y2="503.58" stroke="#111" stroke-width="0.9"/>
<line x1="381.85" y1="505.13" x2="387.85" y2="505.13" stroke="#111" stroke-width="0.9"/>
<line x1="361.45" y1="600.00" x2="361.45" y2="602.30" stroke="#111" stroke-width="0.9"/>
<line x1="384.85" y1="600.00" x2="384.85" y2="602.30" stroke="#111" stroke-width="0.9"/>
<polyline points="361.40,497.00 361.40,492.00 385.30,492.00 385.30,497.00" fill="none" stroke="#111" stroke-width="0.9"/>
<text x="373.30" y="492.20" font-size="7.84" text-anchor="middle" textLength="10.90" lengthAdjust="spacingAndGlyphs" stroke="#111" stroke-width="0.3">****</text>
<text x="324.80" y="552.10" font-size="9.40" text-anchor="middle" textLength="54.70" lengthAdjust="spacingAndGlyphs" transform="rotate(-90 324.8 552.1)" stroke="#111" stroke-width="0.15">% demethylation</text>
<circle cx="58.40" cy="512.70" r="2.05" fill="none" stroke="#222" stroke-width="0.75"/>
<circle cx="64.09" cy="512.70" r="2.05" fill="none" stroke="#222" stroke-width="0.75"/>
<circle cx="69.78" cy="512.70" r="2.05" fill="none" stroke="#222" stroke-width="0.75"/>
<circle cx="75.47" cy="512.70" r="2.05" fill="none" stroke="#222" stroke-width="0.75"/>
<circle cx="81.16" cy="512.70" r="2.05" fill="none" stroke="#222" stroke-width="0.75"/>
<circle cx="86.85" cy="512.70" r="2.05" fill="none" stroke="#222" stroke-width="0.75"/>
<circle cx="92.54" cy="512.70" r="2.05" fill="none" stroke="#222" stroke-width="0.75"/>
<circle cx="98.23" cy="512.70" r="2.05" fill="none" stroke="#222" stroke-width="0.75"/>
<circle cx="103.92" cy="512.70" r="2.05" fill="none" stroke="#222" stroke-width="0.75"/>
<circle cx="109.61" cy="512.70" r="2.05" fill="none" stroke="#222" stroke-width="0.75"/>
<circle cx="115.30" cy="512.70" r="2.05" fill="none" stroke="#222" stroke-width="0.75"/>
<circle cx="120.99" cy="512.70" r="2.05" fill="none" stroke="#222" stroke-width="0.75"/>
<circle cx="58.40" cy="518.57" r="2.05" fill="none" stroke="#222" stroke-width="0.75"/>
<circle cx="64.09" cy="518.57" r="2.05" fill="none" stroke="#222" stroke-width="0.75"/>
<circle cx="69.78" cy="518.57" r="2.05" fill="none" stroke="#222" stroke-width="0.75"/>
<circle cx="75.47" cy="518.57" r="2.05" fill="none" stroke="#222" stroke-width="0.75"/>
<circle cx="81.16" cy="518.57" r="2.05" fill="none" stroke="#222" stroke-width="0.75"/>
<circle cx="86.85" cy="518.57" r="2.05" fill="none" stroke="#222" stroke-width="0.75"/>
<circle cx="92.54" cy="518.57" r="2.05" fill="none" stroke="#222" stroke-width="0.75"/>
<circle cx="98.23" cy="518.57" r="2.05" fill="none" stroke="#222" stroke-width="0.75"/>
<circle cx="103.92" cy="518.57" r="2.05" fill="none" stroke="#222" stroke-width="0.75"/>
<circle cx="109.61" cy="518.57" r="2.05" fill="none" stroke="#222" stroke-width="0.75"/>
<circle cx="115.30" cy="518.57" r="2.05" fill="none" stroke="#222" stroke-width="0.75"/>
<circle cx="120.99" cy="518.57" r="2.05" fill="none" stroke="#222" stroke-width="0.75"/>
<circle cx="58.40" cy="524.43" r="2.05" fill="none" stroke="#222" stroke-width="0.75"/>
<circle cx="64.09" cy="524.43" r="2.05" fill="none" stroke="#222" stroke-width="0.75"/>
<circle cx="69.78" cy="524.43" r="2.05" fill="none" stroke="#222" stroke-width="0.75"/>
<circle cx="75.47" cy="524.43" r="2.05" fill="none" stroke="#222" stroke-width="0.75"/>
<circle cx="81.16" cy="524.43" r="2.05" fill="none" stroke="#222" stroke-width="0.75"/>
<circle cx="86.85" cy="524.43" r="2.05" fill="none" stroke="#222" stroke-width="0.75"/>
<circle cx="92.54" cy="524.43" r="2.05" fill="none" stroke="#222" stroke-width="0.75"/>
<circle cx="98.23" cy="524.43" r="2.05" fill="none" stroke="#222" stroke-width="0.75"/>
<circle cx="103.92" cy="524.43" r="2.05" fill="none" stroke="#222" stroke-width="0.75"/>
<circle cx="109.61" cy="524.43" r="2.05" fill="none" stroke="#222" stroke-width="0.75"/>
<circle cx="115.30" cy="524.43" r="2.05" fill="none" stroke="#222" stroke-width="0.75"/>
<circle cx="120.99" cy="524.43" r="2.05" fill="none" stroke="#222" stroke-width="0.75"/>
<circle cx="58.40" cy="530.30" r="2.45" fill="#000"/>
<circle cx="64.09" cy="530.30" r="2.05" fill="none" stroke="#222" stroke-width="0.75"/>
<circle cx="69.78" cy="530.30" r="2.05" fill="none" stroke="#222" stroke-width="0.75"/>
<circle cx="75.47" cy="530.30" r="2.05" fill="none" stroke="#222" stroke-width="0.75"/>
<circle cx="81.16" cy="530.30" r="2.05" fill="none" stroke="#222" stroke-width="0.75"/>
<circle cx="86.85" cy="530.30" r="2.05" fill="none" stroke="#222" stroke-width="0.75"/>
<circle cx="92.54" cy="530.30" r="2.05" fill="none" stroke="#222" stroke-width="0.75"/>
<circle cx="98.23" cy="530.30" r="2.05" fill="none" stroke="#222" stroke-width="0.75"/>
<circle cx="103.92" cy="530.30" r="2.05" fill="none" stroke="#222" stroke-width="0.75"/>
<circle cx="109.61" cy="530.30" r="2.05" fill="none" stroke="#222" stroke-width="0.75"/>
<circle cx="115.30" cy="530.30" r="2.05" fill="none" stroke="#222" stroke-width="0.75"/>
<circle cx="120.99" cy="530.30" r="2.05" fill="none" stroke="#222" stroke-width="0.75"/>
<circle cx="58.40" cy="536.16" r="2.45" fill="#000"/>
<circle cx="64.09" cy="536.16" r="2.05" fill="none" stroke="#222" stroke-width="0.75"/>
<circle cx="69.78" cy="536.16" r="2.45" fill="#000"/>
<circle cx="75.47" cy="536.16" r="2.05" fill="none" stroke="#222" stroke-width="0.75"/>
<circle cx="81.16" cy="536.16" r="2.05" fill="none" stroke="#222" stroke-width="0.75"/>
<circle cx="86.85" cy="536.16" r="2.05" fill="none" stroke="#222" stroke-width="0.75"/>
<circle cx="92.54" cy="536.16" r="2.05" fill="none" stroke="#222" stroke-width="0.75"/>
<circle cx="98.23" cy="536.16" r="2.05" fill="none" stroke="#222" stroke-width="0.75"/>
<circle cx="103.92" cy="536.16" r="2.05" fill="none" stroke="#222" stroke-width="0.75"/>
<circle cx="109.61" cy="536.16" r="2.05" fill="none" stroke="#222" stroke-width="0.75"/>
<circle cx="115.30" cy="536.16" r="2.05" fill="none" stroke="#222" stroke-width="0.75"/>
<circle cx="120.99" cy="536.16" r="2.05" fill="none" stroke="#222" stroke-width="0.75"/>
<circle cx="58.40" cy="542.03" r="2.05" fill="none" stroke="#222" stroke-width="0.75"/>
<circle cx="64.09" cy="542.03" r="2.05" fill="none" stroke="#222" stroke-width="0.75"/>
<circle cx="69.78" cy="542.03" r="2.05" fill="none" stroke="#222" stroke-width="0.75"/>
<circle cx="75.47" cy="542.03" r="2.05" fill="none" stroke="#222" stroke-width="0.75"/>
<circle cx="81.16" cy="542.03" r="2.05" fill="none" stroke="#222" stroke-width="0.75"/>
<circle cx="86.85" cy="542.03" r="2.45" fill="#000"/>
<circle cx="92.54" cy="542.03" r="2.05" fill="none" stroke="#222" stroke-width="0.75"/>
<circle cx="98.23" cy="542.03" r="2.45" fill="#000"/>
<circle cx="103.92" cy="542.03" r="2.45" fill="#000"/>
<circle cx="109.61" cy="542.03" r="2.05" fill="none" stroke="#222" stroke-width="0.75"/>
<circle cx="115.30" cy="542.03" r="2.05" fill="none" stroke="#222" stroke-width="0.75"/>
<circle cx="120.99" cy="542.03" r="2.05" fill="none" stroke="#222" stroke-width="0.75"/>
<circle cx="58.40" cy="547.89" r="2.45" fill="#000"/>
<circle cx="64.09" cy="547.89" r="2.45" fill="#000"/>
<circle cx="69.78" cy="547.89" r="2.45" fill="#000"/>
<circle cx="75.47" cy="547.89" r="2.45" fill="#000"/>
<circle cx="81.16" cy="547.89" r="2.45" fill="#000"/>
<circle cx="86.85" cy="547.89" r="2.45" fill="#000"/>
<circle cx="92.54" cy="547.89" r="2.05" fill="none" stroke="#222" stroke-width="0.75"/>
<circle cx="98.23" cy="547.89" r="2.05" fill="none" stroke="#222" stroke-width="0.75"/>
<circle cx="103.92" cy="547.89" r="2.05" fill="none" stroke="#222" stroke-width="0.75"/>
<circle cx="109.61" cy="547.89" r="2.05" fill="none" stroke="#222" stroke-width="0.75"/>
<circle cx="115.30" cy="547.89" r="2.05" fill="none" stroke="#222" stroke-width="0.75"/>
<circle cx="120.99" cy="547.89" r="2.05" fill="none" stroke="#222" stroke-width="0.75"/>
<circle cx="58.40" cy="553.75" r="2.45" fill="#000"/>
<circle cx="64.09" cy="553.75" r="2.45" fill="#000"/>
<circle cx="69.78" cy="553.75" r="2.45" fill="#000"/>
<circle cx="75.47" cy="553.75" r="2.45" fill="#000"/>
<circle cx="81.16" cy="553.75" r="2.45" fill="#000"/>
<circle cx="86.85" cy="553.75" r="2.45" fill="#000"/>
<circle cx="92.54" cy="553.75" r="2.05" fill="none" stroke="#222" stroke-width="0.75"/>
<circle cx="98.23" cy="553.75" r="2.45" fill="#000"/>
<circle cx="103.92" cy="553.75" r="2.45" fill="#000"/>
<circle cx="109.61" cy="553.75" r="2.05" fill="none" stroke="#222" stroke-width="0.75"/>
<circle cx="115.30" cy="553.75" r="2.05" fill="none" stroke="#222" stroke-width="0.75"/>
<circle cx="120.99" cy="553.75" r="2.05" fill="none" stroke="#222" stroke-width="0.75"/>
<circle cx="58.40" cy="559.62" r="2.45" fill="#000"/>
<circle cx="64.09" cy="559.62" r="2.45" fill="#000"/>
<circle cx="69.78" cy="559.62" r="2.45" fill="#000"/>
<circle cx="75.47" cy="559.62" r="2.45" fill="#000"/>
<circle cx="81.16" cy="559.62" r="2.45" fill="#000"/>
<circle cx="86.85" cy="559.62" r="2.45" fill="#000"/>
<circle cx="92.54" cy="559.62" r="2.05" fill="none" stroke="#222" stroke-width="0.75"/>
<circle cx="98.23" cy="559.62" r="2.45" fill="#000"/>
<circle cx="103.92" cy="559.62" r="2.45" fill="#000"/>
<circle cx="109.61" cy="559.62" r="2.05" fill="none" stroke="#222" stroke-width="0.75"/>
<circle cx="115.30" cy="559.62" r="2.05" fill="none" stroke="#222" stroke-width="0.75"/>
<circle cx="120.99" cy="559.62" r="2.05" fill="none" stroke="#222" stroke-width="0.75"/>
<circle cx="58.40" cy="565.49" r="2.45" fill="#000"/>
<circle cx="64.09" cy="565.49" r="2.05" fill="none" stroke="#222" stroke-width="0.75"/>
<circle cx="69.78" cy="565.49" r="2.45" fill="#000"/>
<circle cx="75.47" cy="565.49" r="2.45" fill="#000"/>
<circle cx="81.16" cy="565.49" r="2.45" fill="#000"/>
<circle cx="86.85" cy="565.49" r="2.45" fill="#000"/>
<circle cx="92.54" cy="565.49" r="2.45" fill="#000"/>
<circle cx="98.23" cy="565.49" r="2.45" fill="#000"/>
<circle cx="103.92" cy="565.49" r="2.45" fill="#000"/>
<circle cx="109.61" cy="565.49" r="2.05" fill="none" stroke="#222" stroke-width="0.75"/>
<circle cx="115.30" cy="565.49" r="2.05" fill="none" stroke="#222" stroke-width="0.75"/>
<circle cx="120.99" cy="565.49" r="2.45" fill="#000"/>
<circle cx="58.40" cy="571.35" r="2.45" fill="#000"/>
<circle cx="64.09" cy="571.35" r="2.05" fill="none" stroke="#222" stroke-width="0.75"/>
<circle cx="69.78" cy="571.35" r="2.45" fill="#000"/>
<circle cx="75.47" cy="571.35" r="2.45" fill="#000"/>
<circle cx="81.16" cy="571.35" r="2.45" fill="#000"/>
<circle cx="86.85" cy="571.35" r="2.45" fill="#000"/>
<circle cx="92.54" cy="571.35" r="2.45" fill="#000"/>
<circle cx="98.23" cy="571.35" r="2.45" fill="#000"/>
<circle cx="103.92" cy="571.35" r="2.45" fill="#000"/>
<circle cx="109.61" cy="571.35" r="2.05" fill="none" stroke="#222" stroke-width="0.75"/>
<circle cx="115.30" cy="571.35" r="2.05" fill="none" stroke="#222" stroke-width="0.75"/>
<circle cx="120.99" cy="571.35" r="2.45" fill="#000"/>
<circle cx="58.40" cy="577.22" r="2.45" fill="#000"/>
<circle cx="64.09" cy="577.22" r="2.45" fill="#000"/>
<circle cx="69.78" cy="577.22" r="2.45" fill="#000"/>
<circle cx="75.47" cy="577.22" r="2.45" fill="#000"/>
<circle cx="81.16" cy="577.22" r="2.45" fill="#000"/>
<circle cx="86.85" cy="577.22" r="2.45" fill="#000"/>
<circle cx="92.54" cy="577.22" r="2.45" fill="#000"/>
<circle cx="98.23" cy="577.22" r="2.45" fill="#000"/>
<circle cx="103.92" cy="577.22" r="2.45" fill="#000"/>
<circle cx="109.61" cy="577.22" r="2.45" fill="#000"/>
<circle cx="115.30" cy="577.22" r="2.05" fill="none" stroke="#222" stroke-width="0.75"/>
<circle cx="120.99" cy="577.22" r="2.05" fill="none" stroke="#222" stroke-width="0.75"/>
<circle cx="58.40" cy="583.08" r="2.45" fill="#000"/>
<circle cx="64.09" cy="583.08" r="2.45" fill="#000"/>
<circle cx="69.78" cy="583.08" r="2.45" fill="#000"/>
<circle cx="75.47" cy="583.08" r="2.45" fill="#000"/>
<circle cx="81.16" cy="583.08" r="2.45" fill="#000"/>
<circle cx="86.85" cy="583.08" r="2.45" fill="#000"/>
<circle cx="92.54" cy="583.08" r="2.45" fill="#000"/>
<circle cx="98.23" cy="583.08" r="2.45" fill="#000"/>
<circle cx="103.92" cy="583.08" r="2.45" fill="#000"/>
<circle cx="109.61" cy="583.08" r="2.45" fill="#000"/>
<circle cx="115.30" cy="583.08" r="2.05" fill="none" stroke="#222" stroke-width="0.75"/>
<circle cx="120.99" cy="583.08" r="2.05" fill="none" stroke="#222" stroke-width="0.75"/>
<circle cx="58.40" cy="588.95" r="2.45" fill="#000"/>
<circle cx="64.09" cy="588.95" r="2.45" fill="#000"/>
<circle cx="69.78" cy="588.95" r="2.45" fill="#000"/>
<circle cx="75.47" cy="588.95" r="2.45" fill="#000"/>
<circle cx="81.16" cy="588.95" r="2.45" fill="#000"/>
<circle cx="86.85" cy="588.95" r="2.45" fill="#000"/>
<circle cx="92.54" cy="588.95" r="2.45" fill="#000"/>
<circle cx="98.23" cy="588.95" r="2.45" fill="#000"/>
<circle cx="103.92" cy="588.95" r="2.45" fill="#000"/>
<circle cx="109.61" cy="588.95" r="2.45" fill="#000"/>
<circle cx="115.30" cy="588.95" r="2.05" fill="none" stroke="#222" stroke-width="0.75"/>
<circle cx="120.99" cy="588.95" r="2.05" fill="none" stroke="#222" stroke-width="0.75"/>
<circle cx="58.40" cy="594.81" r="2.45" fill="#000"/>
<circle cx="64.09" cy="594.81" r="2.45" fill="#000"/>
<circle cx="69.78" cy="594.81" r="2.45" fill="#000"/>
<circle cx="75.47" cy="594.81" r="2.45" fill="#000"/>
<circle cx="81.16" cy="594.81" r="2.45" fill="#000"/>
<circle cx="86.85" cy="594.81" r="2.45" fill="#000"/>
<circle cx="92.54" cy="594.81" r="2.45" fill="#000"/>
<circle cx="98.23" cy="594.81" r="2.45" fill="#000"/>
<circle cx="103.92" cy="594.81" r="2.45" fill="#000"/>
<circle cx="109.61" cy="594.81" r="2.45" fill="#000"/>
<circle cx="115.30" cy="594.81" r="2.05" fill="none" stroke="#222" stroke-width="0.75"/>
<circle cx="120.99" cy="594.81" r="2.05" fill="none" stroke="#222" stroke-width="0.75"/>
<circle cx="58.40" cy="600.68" r="2.45" fill="#000"/>
<circle cx="64.09" cy="600.68" r="2.45" fill="#000"/>
<circle cx="69.78" cy="600.68" r="2.45" fill="#000"/>
<circle cx="75.47" cy="600.68" r="2.45" fill="#000"/>
<circle cx="81.16" cy="600.68" r="2.45" fill="#000"/>
<circle cx="86.85" cy="600.68" r="2.45" fill="#000"/>
<circle cx="92.54" cy="600.68" r="2.45" fill="#000"/>
<circle cx="98.23" cy="600.68" r="2.45" fill="#000"/>
<circle cx="103.92" cy="600.68" r="2.45" fill="#000"/>
<circle cx="109.61" cy="600.68" r="2.45" fill="#000"/>
<circle cx="115.30" cy="600.68" r="2.05" fill="none" stroke="#222" stroke-width="0.75"/>
<circle cx="120.99" cy="600.68" r="2.05" fill="none" stroke="#222" stroke-width="0.75"/>
<circle cx="58.40" cy="606.54" r="2.45" fill="#000"/>
<circle cx="64.09" cy="606.54" r="2.45" fill="#000"/>
<circle cx="69.78" cy="606.54" r="2.45" fill="#000"/>
<circle cx="75.47" cy="606.54" r="2.45" fill="#000"/>
<circle cx="81.16" cy="606.54" r="2.45" fill="#000"/>
<circle cx="86.85" cy="606.54" r="2.45" fill="#000"/>
<circle cx="92.54" cy="606.54" r="2.45" fill="#000"/>
<circle cx="98.23" cy="606.54" r="2.45" fill="#000"/>
<circle cx="103.92" cy="606.54" r="2.45" fill="#000"/>
<circle cx="109.61" cy="606.54" r="2.45" fill="#000"/>
<circle cx="115.30" cy="606.54" r="2.45" fill="#000"/>
<circle cx="120.99" cy="606.54" r="2.05" fill="none" stroke="#222" stroke-width="0.75"/>
<circle cx="58.40" cy="612.41" r="2.45" fill="#000"/>
<circle cx="64.09" cy="612.41" r="2.45" fill="#000"/>
<circle cx="69.78" cy="612.41" r="2.45" fill="#000"/>
<circle cx="75.47" cy="612.41" r="2.45" fill="#000"/>
<circle cx="81.16" cy="612.41" r="2.45" fill="#000"/>
<circle cx="86.85" cy="612.41" r="2.45" fill="#000"/>
<circle cx="92.54" cy="612.41" r="2.45" fill="#000"/>
<circle cx="98.23" cy="612.41" r="2.45" fill="#000"/>
<circle cx="103.92" cy="612.41" r="2.45" fill="#000"/>
<circle cx="109.61" cy="612.41" r="2.45" fill="#000"/>
<circle cx="115.30" cy="612.41" r="2.45" fill="#000"/>
<circle cx="120.99" cy="612.41" r="2.05" fill="none" stroke="#222" stroke-width="0.75"/>
<circle cx="58.40" cy="618.27" r="2.45" fill="#000"/>
<circle cx="64.09" cy="618.27" r="2.45" fill="#000"/>
<circle cx="69.78" cy="618.27" r="2.45" fill="#000"/>
<circle cx="75.47" cy="618.27" r="2.45" fill="#000"/>
<circle cx="81.16" cy="618.27" r="2.45" fill="#000"/>
<circle cx="86.85" cy="618.27" r="2.45" fill="#000"/>
<circle cx="92.54" cy="618.27" r="2.45" fill="#000"/>
<circle cx="98.23" cy="618.27" r="2.45" fill="#000"/>
<circle cx="103.92" cy="618.27" r="2.45" fill="#000"/>
<circle cx="109.61" cy="618.27" r="2.05" fill="none" stroke="#222" stroke-width="0.75"/>
<circle cx="115.30" cy="618.27" r="2.45" fill="#000"/>
<circle cx="120.99" cy="618.27" r="2.45" fill="#000"/>
<circle cx="58.40" cy="624.13" r="2.45" fill="#000"/>
<circle cx="64.09" cy="624.13" r="2.45" fill="#000"/>
<circle cx="69.78" cy="624.13" r="2.45" fill="#000"/>
<circle cx="75.47" cy="624.13" r="2.45" fill="#000"/>
<circle cx="81.16" cy="624.13" r="2.45" fill="#000"/>
<circle cx="86.85" cy="624.13" r="2.45" fill="#000"/>
<circle cx="92.54" cy="624.13" r="2.45" fill="#000"/>
<circle cx="98.23" cy="624.13" r="2.45" fill="#000"/>
<circle cx="103.92" cy="624.13" r="2.45" fill="#000"/>
<circle cx="109.61" cy="624.13" r="2.45" fill="#000"/>
<circle cx="115.30" cy="624.13" r="2.45" fill="#000"/>
<circle cx="120.99" cy="624.13" r="2.45" fill="#000"/>
<circle cx="58.40" cy="630.00" r="2.45" fill="#000"/>
<circle cx="64.09" cy="630.00" r="2.45" fill="#000"/>
<circle cx="69.78" cy="630.00" r="2.45" fill="#000"/>
<circle cx="75.47" cy="630.00" r="2.45" fill="#000"/>
<circle cx="81.16" cy="630.00" r="2.45" fill="#000"/>
<circle cx="86.85" cy="630.00" r="2.45" fill="#000"/>
<circle cx="92.54" cy="630.00" r="2.45" fill="#000"/>
<circle cx="98.23" cy="630.00" r="2.45" fill="#000"/>
<circle cx="103.92" cy="630.00" r="2.45" fill="#000"/>
<circle cx="109.61" cy="630.00" r="2.45" fill="#000"/>
<circle cx="115.30" cy="630.00" r="2.45" fill="#000"/>
<circle cx="120.99" cy="630.00" r="2.45" fill="#000"/>
<circle cx="134.50" cy="512.70" r="2.05" fill="none" stroke="#222" stroke-width="0.75"/>
<circle cx="140.32" cy="512.70" r="2.05" fill="none" stroke="#222" stroke-width="0.75"/>
<circle cx="146.14" cy="512.70" r="2.05" fill="none" stroke="#222" stroke-width="0.75"/>
<circle cx="151.96" cy="512.70" r="2.05" fill="none" stroke="#222" stroke-width="0.75"/>
<circle cx="157.78" cy="512.70" r="2.05" fill="none" stroke="#222" stroke-width="0.75"/>
<circle cx="163.60" cy="512.70" r="2.05" fill="none" stroke="#222" stroke-width="0.75"/>
<circle cx="169.42" cy="512.70" r="2.05" fill="none" stroke="#222" stroke-width="0.75"/>
<circle cx="175.24" cy="512.70" r="2.05" fill="none" stroke="#222" stroke-width="0.75"/>
<circle cx="181.06" cy="512.70" r="2.05" fill="none" stroke="#222" stroke-width="0.75"/>
<circle cx="186.88" cy="512.70" r="2.05" fill="none" stroke="#222" stroke-width="0.75"/>
<circle cx="192.70" cy="512.70" r="2.05" fill="none" stroke="#222" stroke-width="0.75"/>
<circle cx="198.52" cy="512.70" r="2.05" fill="none" stroke="#222" stroke-width="0.75"/>
<circle cx="134.50" cy="518.57" r="2.05" fill="none" stroke="#222" stroke-width="0.75"/>
<circle cx="140.32" cy="518.57" r="2.05" fill="none" stroke="#222" stroke-width="0.75"/>
<circle cx="146.14" cy="518.57" r="2.05" fill="none" stroke="#222" stroke-width="0.75"/>
<circle cx="151.96" cy="518.57" r="2.05" fill="none" stroke="#222" stroke-width="0.75"/>
<circle cx="157.78" cy="518.57" r="2.05" fill="none" stroke="#222" stroke-width="0.75"/>
<circle cx="163.60" cy="518.57" r="2.05" fill="none" stroke="#222" stroke-width="0.75"/>
<circle cx="169.42" cy="518.57" r="2.05" fill="none" stroke="#222" stroke-width="0.75"/>
<circle cx="175.24" cy="518.57" r="2.05" fill="none" stroke="#222" stroke-width="0.75"/>
<circle cx="181.06" cy="518.57" r="2.05" fill="none" stroke="#222" stroke-width="0.75"/>
<circle cx="186.88" cy="518.57" r="2.05" fill="none" stroke="#222" stroke-width="0.75"/>
<circle cx="192.70" cy="518.57" r="2.05" fill="none" stroke="#222" stroke-width="0.75"/>
<circle cx="198.52" cy="518.57" r="2.05" fill="none" stroke="#222" stroke-width="0.75"/>
<circle cx="134.50" cy="524.43" r="2.05" fill="none" stroke="#222" stroke-width="0.75"/>
<circle cx="140.32" cy="524.43" r="2.05" fill="none" stroke="#222" stroke-width="0.75"/>
<circle cx="146.14" cy="524.43" r="2.05" fill="none" stroke="#222" stroke-width="0.75"/>
<circle cx="151.96" cy="524.43" r="2.05" fill="none" stroke="#222" stroke-width="0.75"/>
<circle cx="157.78" cy="524.43" r="2.05" fill="none" stroke="#222" stroke-width="0.75"/>
<circle cx="163.60" cy="524.43" r="2.05" fill="none" stroke="#222" stroke-width="0.75"/>
<circle cx="169.42" cy="524.43" r="2.05" fill="none" stroke="#222" stroke-width="0.75"/>
<circle cx="175.24" cy="524.43" r="2.05" fill="none" stroke="#222" stroke-width="0.75"/>
<circle cx="181.06" cy="524.43" r="2.05" fill="none" stroke="#222" stroke-width="0.75"/>
<circle cx="186.88" cy="524.43" r="2.05" fill="none" stroke="#222" stroke-width="0.75"/>
<circle cx="192.70" cy="524.43" r="2.05" fill="none" stroke="#222" stroke-width="0.75"/>
<circle cx="198.52" cy="524.43" r="2.05" fill="none" stroke="#222" stroke-width="0.75"/>
<circle cx="134.50" cy="530.30" r="2.05" fill="none" stroke="#222" stroke-width="0.75"/>
<circle cx="140.32" cy="530.30" r="2.05" fill="none" stroke="#222" stroke-width="0.75"/>
<circle cx="146.14" cy="530.30" r="2.05" fill="none" stroke="#222" stroke-width="0.75"/>
<circle cx="151.96" cy="530.30" r="2.05" fill="none" stroke="#222" stroke-width="0.75"/>
<circle cx="157.78" cy="530.30" r="2.05" fill="none" stroke="#222" stroke-width="0.75"/>
<circle cx="163.60" cy="530.30" r="2.05" fill="none" stroke="#222" stroke-width="0.75"/>
<circle cx="169.42" cy="530.30" r="2.05" fill="none" stroke="#222" stroke-width="0.75"/>
<circle cx="175.24" cy="530.30" r="2.05" fill="none" stroke="#222" stroke-width="0.75"/>
<circle cx="181.06" cy="530.30" r="2.05" fill="none" stroke="#222" stroke-width="0.75"/>
<circle cx="186.88" cy="530.30" r="2.05" fill="none" stroke="#222" stroke-width="0.75"/>
<circle cx="192.70" cy="530.30" r="2.05" fill="none" stroke="#222" stroke-width="0.75"/>
<circle cx="198.52" cy="530.30" r="2.05" fill="none" stroke="#222" stroke-width="0.75"/>
<circle cx="134.50" cy="536.16" r="2.05" fill="none" stroke="#222" stroke-width="0.75"/>
<circle cx="140.32" cy="536.16" r="2.05" fill="none" stroke="#222" stroke-width="0.75"/>
<circle cx="146.14" cy="536.16" r="2.05" fill="none" stroke="#222" stroke-width="0.75"/>
<circle cx="151.96" cy="536.16" r="2.05" fill="none" stroke="#222" stroke-width="0.75"/>
<circle cx="157.78" cy="536.16" r="2.05" fill="none" stroke="#222" stroke-width="0.75"/>
<circle cx="163.60" cy="536.16" r="2.05" fill="none" stroke="#222" stroke-width="0.75"/>
<circle cx="169.42" cy="536.16" r="2.05" fill="none" stroke="#222" stroke-width="0.75"/>
<circle cx="175.24" cy="536.16" r="2.05" fill="none" stroke="#222" stroke-width="0.75"/>
<circle cx="181.06" cy="536.16" r="2.05" fill="none" stroke="#222" stroke-width="0.75"/>
<circle cx="186.88" cy="536.16" r="2.05" fill="none" stroke="#222" stroke-width="0.75"/>
<circle cx="192.70" cy="536.16" r="2.05" fill="none" stroke="#222" stroke-width="0.75"/>
<circle cx="198.52" cy="536.16" r="2.05" fill="none" stroke="#222" stroke-width="0.75"/>
<circle cx="134.50" cy="542.03" r="2.05" fill="none" stroke="#222" stroke-width="0.75"/>
<circle cx="140.32" cy="542.03" r="2.05" fill="none" stroke="#222" stroke-width="0.75"/>
<circle cx="146.14" cy="542.03" r="2.05" fill="none" stroke="#222" stroke-width="0.75"/>
<circle cx="151.96" cy="542.03" r="2.05" fill="none" stroke="#222" stroke-width="0.75"/>
<circle cx="157.78" cy="542.03" r="2.05" fill="none" stroke="#222" stroke-width="0.75"/>
<circle cx="163.60" cy="542.03" r="2.05" fill="none" stroke="#222" stroke-width="0.75"/>
<circle cx="169.42" cy="542.03" r="2.05" fill="none" stroke="#222" stroke-width="0.75"/>
<circle cx="175.24" cy="542.03" r="2.05" fill="none" stroke="#222" stroke-width="0.75"/>
<circle cx="181.06" cy="542.03" r="2.05" fill="none" stroke="#222" stroke-width="0.75"/>
<circle cx="186.88" cy="542.03" r="2.05" fill="none" stroke="#222" stroke-width="0.75"/>
<circle cx="192.70" cy="542.03" r="2.05" fill="none" stroke="#222" stroke-width="0.75"/>
<circle cx="198.52" cy="542.03" r="2.05" fill="none" stroke="#222" stroke-width="0.75"/>
<circle cx="134.50" cy="547.89" r="2.05" fill="none" stroke="#222" stroke-width="0.75"/>
<circle cx="140.32" cy="547.89" r="2.05" fill="none" stroke="#222" stroke-width="0.75"/>
<circle cx="146.14" cy="547.89" r="2.05" fill="none" stroke="#222" stroke-width="0.75"/>
<circle cx="151.96" cy="547.89" r="2.05" fill="none" stroke="#222" stroke-width="0.75"/>
<circle cx="157.78" cy="547.89" r="2.05" fill="none" stroke="#222" stroke-width="0.75"/>
<circle cx="163.60" cy="547.89" r="2.05" fill="none" stroke="#222" stroke-width="0.75"/>
<circle cx="169.42" cy="547.89" r="2.05" fill="none" stroke="#222" stroke-width="0.75"/>
<circle cx="175.24" cy="547.89" r="2.05" fill="none" stroke="#222" stroke-width="0.75"/>
<circle cx="181.06" cy="547.89" r="2.05" fill="none" stroke="#222" stroke-width="0.75"/>
<circle cx="186.88" cy="547.89" r="2.05" fill="none" stroke="#222" stroke-width="0.75"/>
<circle cx="192.70" cy="547.89" r="2.05" fill="none" stroke="#222" stroke-width="0.75"/>
<circle cx="198.52" cy="547.89" r="2.05" fill="none" stroke="#222" stroke-width="0.75"/>
<circle cx="134.50" cy="553.75" r="2.05" fill="none" stroke="#222" stroke-width="0.75"/>
<circle cx="140.32" cy="553.75" r="2.05" fill="none" stroke="#222" stroke-width="0.75"/>
<circle cx="146.14" cy="553.75" r="2.05" fill="none" stroke="#222" stroke-width="0.75"/>
<circle cx="151.96" cy="553.75" r="2.05" fill="none" stroke="#222" stroke-width="0.75"/>
<circle cx="157.78" cy="553.75" r="2.05" fill="none" stroke="#222" stroke-width="0.75"/>
<circle cx="163.60" cy="553.75" r="2.05" fill="none" stroke="#222" stroke-width="0.75"/>
<circle cx="169.42" cy="553.75" r="2.05" fill="none" stroke="#222" stroke-width="0.75"/>
<circle cx="175.24" cy="553.75" r="2.05" fill="none" stroke="#222" stroke-width="0.75"/>
<circle cx="181.06" cy="553.75" r="2.05" fill="none" stroke="#222" stroke-width="0.75"/>
<circle cx="186.88" cy="553.75" r="2.05" fill="none" stroke="#222" stroke-width="0.75"/>
<circle cx="192.70" cy="553.75" r="2.05" fill="none" stroke="#222" stroke-width="0.75"/>
<circle cx="198.52" cy="553.75" r="2.05" fill="none" stroke="#222" stroke-width="0.75"/>
<circle cx="134.50" cy="559.62" r="2.05" fill="none" stroke="#222" stroke-width="0.75"/>
<circle cx="140.32" cy="559.62" r="2.05" fill="none" stroke="#222" stroke-width="0.75"/>
<circle cx="146.14" cy="559.62" r="2.05" fill="none" stroke="#222" stroke-width="0.75"/>
<circle cx="151.96" cy="559.62" r="2.05" fill="none" stroke="#222" stroke-width="0.75"/>
<circle cx="157.78" cy="559.62" r="2.05" fill="none" stroke="#222" stroke-width="0.75"/>
<circle cx="163.60" cy="559.62" r="2.05" fill="none" stroke="#222" stroke-width="0.75"/>
<circle cx="169.42" cy="559.62" r="2.05" fill="none" stroke="#222" stroke-width="0.75"/>
<circle cx="175.24" cy="559.62" r="2.05" fill="none" stroke="#222" stroke-width="0.75"/>
<circle cx="181.06" cy="559.62" r="2.05" fill="none" stroke="#222" stroke-width="0.75"/>
<circle cx="186.88" cy="559.62" r="2.05" fill="none" stroke="#222" stroke-width="0.75"/>
<circle cx="192.70" cy="559.62" r="2.05" fill="none" stroke="#222" stroke-width="0.75"/>
<circle cx="198.52" cy="559.62" r="2.05" fill="none" stroke="#222" stroke-width="0.75"/>
<circle cx="134.50" cy="565.49" r="2.05" fill="none" stroke="#222" stroke-width="0.75"/>
<circle cx="140.32" cy="565.49" r="2.05" fill="none" stroke="#222" stroke-width="0.75"/>
<circle cx="146.14" cy="565.49" r="2.05" fill="none" stroke="#222" stroke-width="0.75"/>
<circle cx="151.96" cy="565.49" r="2.05" fill="none" stroke="#222" stroke-width="0.75"/>
<circle cx="157.78" cy="565.49" r="2.05" fill="none" stroke="#222" stroke-width="0.75"/>
<circle cx="163.60" cy="565.49" r="2.05" fill="none" stroke="#222" stroke-width="0.75"/>
<circle cx="169.42" cy="565.49" r="2.05" fill="none" stroke="#222" stroke-width="0.75"/>
<circle cx="175.24" cy="565.49" r="2.05" fill="none" stroke="#222" stroke-width="0.75"/>
<circle cx="181.06" cy="565.49" r="2.05" fill="none" stroke="#222" stroke-width="0.75"/>
<circle cx="186.88" cy="565.49" r="2.05" fill="none" stroke="#222" stroke-width="0.75"/>
<circle cx="192.70" cy="565.49" r="2.05" fill="none" stroke="#222" stroke-width="0.75"/>
<circle cx="198.52" cy="565.49" r="2.05" fill="none" stroke="#222" stroke-width="0.75"/>
<circle cx="134.50" cy="571.35" r="2.05" fill="none" stroke="#222" stroke-width="0.75"/>
<circle cx="140.32" cy="571.35" r="2.05" fill="none" stroke="#222" stroke-width="0.75"/>
<circle cx="146.14" cy="571.35" r="2.05" fill="none" stroke="#222" stroke-width="0.75"/>
<circle cx="151.96" cy="571.35" r="2.05" fill="none" stroke="#222" stroke-width="0.75"/>
<circle cx="157.78" cy="571.35" r="2.05" fill="none" stroke="#222" stroke-width="0.75"/>
<circle cx="163.60" cy="571.35" r="2.05" fill="none" stroke="#222" stroke-width="0.75"/>
<circle cx="169.42" cy="571.35" r="2.05" fill="none" stroke="#222" stroke-width="0.75"/>
<circle cx="175.24" cy="571.35" r="2.05" fill="none" stroke="#222" stroke-width="0.75"/>
<circle cx="181.06" cy="571.35" r="2.05" fill="none" stroke="#222" stroke-width="0.75"/>
<circle cx="186.88" cy="571.35" r="2.05" fill="none" stroke="#222" stroke-width="0.75"/>
<circle cx="192.70" cy="571.35" r="2.05" fill="none" stroke="#222" stroke-width="0.75"/>
<circle cx="198.52" cy="571.35" r="2.05" fill="none" stroke="#222" stroke-width="0.75"/>
<circle cx="134.50" cy="577.22" r="2.05" fill="none" stroke="#222" stroke-width="0.75"/>
<circle cx="140.32" cy="577.22" r="2.05" fill="none" stroke="#222" stroke-width="0.75"/>
<circle cx="146.14" cy="577.22" r="2.05" fill="none" stroke="#222" stroke-width="0.75"/>
<circle cx="151.96" cy="577.22" r="2.05" fill="none" stroke="#222" stroke-width="0.75"/>
<circle cx="157.78" cy="577.22" r="2.05" fill="none" stroke="#222" stroke-width="0.75"/>
<circle cx="163.60" cy="577.22" r="2.05" fill="none" stroke="#222" stroke-width="0.75"/>
<circle cx="169.42" cy="577.22" r="2.05" fill="none" stroke="#222" stroke-width="0.75"/>
<circle cx="175.24" cy="577.22" r="2.05" fill="none" stroke="#222" stroke-width="0.75"/>
<circle cx="181.06" cy="577.22" r="2.05" fill="none" stroke="#222" stroke-width="0.75"/>
<circle cx="186.88" cy="577.22" r="2.05" fill="none" stroke="#222" stroke-width="0.75"/>
<circle cx="192.70" cy="577.22" r="2.05" fill="none" stroke="#222" stroke-width="0.75"/>
<circle cx="198.52" cy="577.22" r="2.05" fill="none" stroke="#222" stroke-width="0.75"/>
<circle cx="134.50" cy="583.08" r="2.05" fill="none" stroke="#222" stroke-width="0.75"/>
<circle cx="140.32" cy="583.08" r="2.05" fill="none" stroke="#222" stroke-width="0.75"/>
<circle cx="146.14" cy="583.08" r="2.05" fill="none" stroke="#222" stroke-width="0.75"/>
<circle cx="151.96" cy="583.08" r="2.05" fill="none" stroke="#222" stroke-width="0.75"/>
<circle cx="157.78" cy="583.08" r="2.05" fill="none" stroke="#222" stroke-width="0.75"/>
<circle cx="163.60" cy="583.08" r="2.05" fill="none" stroke="#222" stroke-width="0.75"/>
<circle cx="169.42" cy="583.08" r="2.05" fill="none" stroke="#222" stroke-width="0.75"/>
<circle cx="175.24" cy="583.08" r="2.05" fill="none" stroke="#222" stroke-width="0.75"/>
<circle cx="181.06" cy="583.08" r="2.05" fill="none" stroke="#222" stroke-width="0.75"/>
<circle cx="186.88" cy="583.08" r="2.05" fill="none" stroke="#222" stroke-width="0.75"/>
<circle cx="192.70" cy="583.08" r="2.05" fill="none" stroke="#222" stroke-width="0.75"/>
<circle cx="198.52" cy="583.08" r="2.05" fill="none" stroke="#222" stroke-width="0.75"/>
<circle cx="134.50" cy="588.95" r="2.05" fill="none" stroke="#222" stroke-width="0.75"/>
<circle cx="140.32" cy="588.95" r="2.05" fill="none" stroke="#222" stroke-width="0.75"/>
<circle cx="146.14" cy="588.95" r="2.05" fill="none" stroke="#222" stroke-width="0.75"/>
<circle cx="151.96" cy="588.95" r="2.05" fill="none" stroke="#222" stroke-width="0.75"/>
<circle cx="157.78" cy="588.95" r="2.05" fill="none" stroke="#222" stroke-width="0.75"/>
<circle cx="163.60" cy="588.95" r="2.05" fill="none" stroke="#222" stroke-width="0.75"/>
<circle cx="169.42" cy="588.95" r="2.05" fill="none" stroke="#222" stroke-width="0.75"/>
<circle cx="175.24" cy="588.95" r="2.05" fill="none" stroke="#222" stroke-width="0.75"/>
<circle cx="181.06" cy="588.95" r="2.05" fill="none" stroke="#222" stroke-width="0.75"/>
<circle cx="186.88" cy="588.95" r="2.05" fill="none" stroke="#222" stroke-width="0.75"/>
<circle cx="192.70" cy="588.95" r="2.05" fill="none" stroke="#222" stroke-width="0.75"/>
<circle cx="198.52" cy="588.95" r="2.05" fill="none" stroke="#222" stroke-width="0.75"/>
<circle cx="134.50" cy="594.81" r="2.05" fill="none" stroke="#222" stroke-width="0.75"/>
<circle cx="140.32" cy="594.81" r="2.05" fill="none" stroke="#222" stroke-width="0.75"/>
<circle cx="146.14" cy="594.81" r="2.05" fill="none" stroke="#222" stroke-width="0.75"/>
<circle cx="151.96" cy="594.81" r="2.05" fill="none" stroke="#222" stroke-width="0.75"/>
<circle cx="157.78" cy="594.81" r="2.05" fill="none" stroke="#222" stroke-width="0.75"/>
<circle cx="163.60" cy="594.81" r="2.05" fill="none" stroke="#222" stroke-width="0.75"/>
<circle cx="169.42" cy="594.81" r="2.05" fill="none" stroke="#222" stroke-width="0.75"/>
<circle cx="175.24" cy="594.81" r="2.05" fill="none" stroke="#222" stroke-width="0.75"/>
<circle cx="181.06" cy="594.81" r="2.05" fill="none" stroke="#222" stroke-width="0.75"/>
<circle cx="186.88" cy="594.81" r="2.05" fill="none" stroke="#222" stroke-width="0.75"/>
<circle cx="192.70" cy="594.81" r="2.05" fill="none" stroke="#222" stroke-width="0.75"/>
<circle cx="198.52" cy="594.81" r="2.05" fill="none" stroke="#222" stroke-width="0.75"/>
<circle cx="134.50" cy="600.68" r="2.05" fill="none" stroke="#222" stroke-width="0.75"/>
<circle cx="140.32" cy="600.68" r="2.05" fill="none" stroke="#222" stroke-width="0.75"/>
<circle cx="146.14" cy="600.68" r="2.05" fill="none" stroke="#222" stroke-width="0.75"/>
<circle cx="151.96" cy="600.68" r="2.05" fill="none" stroke="#222" stroke-width="0.75"/>
<circle cx="157.78" cy="600.68" r="2.05" fill="none" stroke="#222" stroke-width="0.75"/>
<circle cx="163.60" cy="600.68" r="2.05" fill="none" stroke="#222" stroke-width="0.75"/>
<circle cx="169.42" cy="600.68" r="2.05" fill="none" stroke="#222" stroke-width="0.75"/>
<circle cx="175.24" cy="600.68" r="2.05" fill="none" stroke="#222" stroke-width="0.75"/>
<circle cx="181.06" cy="600.68" r="2.05" fill="none" stroke="#222" stroke-width="0.75"/>
<circle cx="186.88" cy="600.68" r="2.05" fill="none" stroke="#222" stroke-width="0.75"/>
<circle cx="192.70" cy="600.68" r="2.05" fill="none" stroke="#222" stroke-width="0.75"/>
<circle cx="198.52" cy="600.68" r="2.05" fill="none" stroke="#222" stroke-width="0.75"/>
<circle cx="134.50" cy="606.54" r="2.05" fill="none" stroke="#222" stroke-width="0.75"/>
<circle cx="140.32" cy="606.54" r="2.05" fill="none" stroke="#222" stroke-width="0.75"/>
<circle cx="146.14" cy="606.54" r="2.05" fill="none" stroke="#222" stroke-width="0.75"/>
<circle cx="151.96" cy="606.54" r="2.05" fill="none" stroke="#222" stroke-width="0.75"/>
<circle cx="157.78" cy="606.54" r="2.05" fill="none" stroke="#222" stroke-width="0.75"/>
<circle cx="163.60" cy="606.54" r="2.05" fill="none" stroke="#222" stroke-width="0.75"/>
<circle cx="169.42" cy="606.54" r="2.05" fill="none" stroke="#222" stroke-width="0.75"/>
<circle cx="175.24" cy="606.54" r="2.05" fill="none" stroke="#222" stroke-width="0.75"/>
<circle cx="181.06" cy="606.54" r="2.05" fill="none" stroke="#222" stroke-width="0.75"/>
<circle cx="186.88" cy="606.54" r="2.05" fill="none" stroke="#222" stroke-width="0.75"/>
<circle cx="192.70" cy="606.54" r="2.05" fill="none" stroke="#222" stroke-width="0.75"/>
<circle cx="198.52" cy="606.54" r="2.05" fill="none" stroke="#222" stroke-width="0.75"/>
<circle cx="134.50" cy="612.41" r="2.05" fill="none" stroke="#222" stroke-width="0.75"/>
<circle cx="140.32" cy="612.41" r="2.05" fill="none" stroke="#222" stroke-width="0.75"/>
<circle cx="146.14" cy="612.41" r="2.05" fill="none" stroke="#222" stroke-width="0.75"/>
<circle cx="151.96" cy="612.41" r="2.05" fill="none" stroke="#222" stroke-width="0.75"/>
<circle cx="157.78" cy="612.41" r="2.05" fill="none" stroke="#222" stroke-width="0.75"/>
<circle cx="163.60" cy="612.41" r="2.05" fill="none" stroke="#222" stroke-width="0.75"/>
<circle cx="169.42" cy="612.41" r="2.05" fill="none" stroke="#222" stroke-width="0.75"/>
<circle cx="175.24" cy="612.41" r="2.05" fill="none" stroke="#222" stroke-width="0.75"/>
<circle cx="181.06" cy="612.41" r="2.05" fill="none" stroke="#222" stroke-width="0.75"/>
<circle cx="186.88" cy="612.41" r="2.05" fill="none" stroke="#222" stroke-width="0.75"/>
<circle cx="192.70" cy="612.41" r="2.05" fill="none" stroke="#222" stroke-width="0.75"/>
<circle cx="198.52" cy="612.41" r="2.05" fill="none" stroke="#222" stroke-width="0.75"/>
<circle cx="134.50" cy="618.27" r="2.05" fill="none" stroke="#222" stroke-width="0.75"/>
<circle cx="140.32" cy="618.27" r="2.05" fill="none" stroke="#222" stroke-width="0.75"/>
<circle cx="146.14" cy="618.27" r="2.05" fill="none" stroke="#222" stroke-width="0.75"/>
<circle cx="151.96" cy="618.27" r="2.05" fill="none" stroke="#222" stroke-width="0.75"/>
<circle cx="157.78" cy="618.27" r="2.05" fill="none" stroke="#222" stroke-width="0.75"/>
<circle cx="163.60" cy="618.27" r="2.05" fill="none" stroke="#222" stroke-width="0.75"/>
<circle cx="169.42" cy="618.27" r="2.05" fill="none" stroke="#222" stroke-width="0.75"/>
<circle cx="175.24" cy="618.27" r="2.05" fill="none" stroke="#222" stroke-width="0.75"/>
<circle cx="181.06" cy="618.27" r="2.45" fill="#000"/>
<circle cx="186.88" cy="618.27" r="2.05" fill="none" stroke="#222" stroke-width="0.75"/>
<circle cx="192.70" cy="618.27" r="2.05" fill="none" stroke="#222" stroke-width="0.75"/>
<circle cx="198.52" cy="618.27" r="2.05" fill="none" stroke="#222" stroke-width="0.75"/>
<circle cx="134.50" cy="624.13" r="2.05" fill="none" stroke="#222" stroke-width="0.75"/>
<circle cx="140.32" cy="624.13" r="2.05" fill="none" stroke="#222" stroke-width="0.75"/>
<circle cx="146.14" cy="624.13" r="2.05" fill="none" stroke="#222" stroke-width="0.75"/>
<circle cx="151.96" cy="624.13" r="2.05" fill="none" stroke="#222" stroke-width="0.75"/>
<circle cx="157.78" cy="624.13" r="2.05" fill="none" stroke="#222" stroke-width="0.75"/>
<circle cx="163.60" cy="624.13" r="2.05" fill="none" stroke="#222" stroke-width="0.75"/>
<circle cx="169.42" cy="624.13" r="2.05" fill="none" stroke="#222" stroke-width="0.75"/>
<circle cx="175.24" cy="624.13" r="2.05" fill="none" stroke="#222" stroke-width="0.75"/>
<circle cx="181.06" cy="624.13" r="2.45" fill="#000"/>
<circle cx="186.88" cy="624.13" r="2.05" fill="none" stroke="#222" stroke-width="0.75"/>
<circle cx="192.70" cy="624.13" r="2.05" fill="none" stroke="#222" stroke-width="0.75"/>
<circle cx="198.52" cy="624.13" r="2.05" fill="none" stroke="#222" stroke-width="0.75"/>
<circle cx="134.50" cy="630.00" r="2.05" fill="none" stroke="#222" stroke-width="0.75"/>
<circle cx="140.32" cy="630.00" r="2.05" fill="none" stroke="#222" stroke-width="0.75"/>
<circle cx="146.14" cy="630.00" r="2.05" fill="none" stroke="#222" stroke-width="0.75"/>
<circle cx="151.96" cy="630.00" r="2.05" fill="none" stroke="#222" stroke-width="0.75"/>
<circle cx="157.78" cy="630.00" r="2.05" fill="none" stroke="#222" stroke-width="0.75"/>
<circle cx="163.60" cy="630.00" r="2.45" fill="#000"/>
<circle cx="169.42" cy="630.00" r="2.05" fill="none" stroke="#222" stroke-width="0.75"/>
<circle cx="175.24" cy="630.00" r="2.05" fill="none" stroke="#222" stroke-width="0.75"/>
<circle cx="181.06" cy="630.00" r="2.45" fill="#000"/>
<circle cx="186.88" cy="630.00" r="2.05" fill="none" stroke="#222" stroke-width="0.75"/>
<circle cx="192.70" cy="630.00" r="2.05" fill="none" stroke="#222" stroke-width="0.75"/>
<circle cx="198.52" cy="630.00" r="2.05" fill="none" stroke="#222" stroke-width="0.75"/>
<line x1="47.60" y1="599.20" x2="47.60" y2="516.30" stroke="#111" stroke-width="1"/>
<polygon points="45.40,517.30 47.60,512.30 49.80,517.30" fill="#111"/>
<line x1="92.20" y1="640.30" x2="194.30" y2="640.30" stroke="#111" stroke-width="1"/>
<polygon points="193.30,638.10 198.30,640.30 193.30,642.50" fill="#111"/>
<text x="50.60" y="617.60" font-size="10.75" text-anchor="middle" textLength="29.30" lengthAdjust="spacingAndGlyphs" transform="rotate(-90 50.6 617.6)" stroke="#111" stroke-width="0.2">Sample #</text>
<text x="56.50" y="643.60" font-size="10.75" text-anchor="start" textLength="32.70" lengthAdjust="spacingAndGlyphs" stroke="#111" stroke-width="0.2">CpG motifs</text>
<text x="90.00" y="493.60" font-size="10.53" text-anchor="middle" textLength="30.30" lengthAdjust="spacingAndGlyphs" >Control</text>
<text x="90" y="505.0" font-size="10.53" text-anchor="middle" textLength="50.45" lengthAdjust="spacingAndGlyphs">CD8<tspan dy="-3.2" font-size="6.6">+</tspan><tspan dy="3.2"> iTregs</tspan></text>
<text x="166.00" y="493.40" font-size="10.53" text-anchor="middle" textLength="52.59" lengthAdjust="spacingAndGlyphs" >Vit C-treated</text>
<text x="166" y="505.0" font-size="10.53" text-anchor="middle" textLength="50.45" lengthAdjust="spacingAndGlyphs">CD8<tspan dy="-3.2" font-size="6.6">+</tspan><tspan dy="3.2"> iTregs</tspan></text>
<circle cx="209.7" cy="505.5" r="2.0" fill="none" stroke="#111" stroke-width="0.85"/>
<circle cx="209.7" cy="522.6" r="2.6" fill="#000"/>
<text x="215.40" y="508.00" font-size="7.95" text-anchor="start" textLength="45.30" lengthAdjust="spacingAndGlyphs" >Demethylation</text>
<text x="215.40" y="524.60" font-size="7.95" text-anchor="start" textLength="36.30" lengthAdjust="spacingAndGlyphs" >Methylation</text>
<clipPath id="clip373_25"><rect x="373.40" y="25.30" width="44.00" height="43.30"/></clipPath>
<clipPath id="env373_25"><path d="M400.8 25.3C401.7 26.0 403.7 27.4 403.7 29.7C403.7 31.9 402.3 36.0 400.8 38.8C399.3 41.6 396.0 44.2 394.5 46.5C393.0 48.8 392.2 50.6 391.6 52.3C391.0 54.0 390.9 54.6 390.7 56.6C390.5 58.6 390.4 62.2 390.2 64.3C389.9 66.4 392.0 68.2 389.2 69.0C386.4 69.8 376.0 70.9 373.4 69.0C370.8 67.1 372.8 60.1 373.8 57.6C374.8 55.1 379.1 55.3 379.6 53.7C380.1 52.1 376.9 49.7 376.7 48.0C376.5 46.3 376.9 45.4 378.7 43.6C380.5 41.8 384.3 39.9 387.3 37.4C390.3 34.9 395.0 30.7 396.9 28.7C398.8 26.7 397.9 25.9 398.5 25.3C399.1 24.7 399.9 24.6 400.8 25.3Z"/></clipPath>
<g clip-path="url(#clip373_25)"><path d="M400.8 25.3C401.7 26.0 403.7 27.4 403.7 29.7C403.7 31.9 402.3 36.0 400.8 38.8C399.3 41.6 396.0 44.2 394.5 46.5C393.0 48.8 392.2 50.6 391.6 52.3C391.0 54.0 390.9 54.6 390.7 56.6C390.5 58.6 390.4 62.2 390.2 64.3C389.9 66.4 392.0 68.2 389.2 69.0C386.4 69.8 376.0 70.9 373.4 69.0C370.8 67.1 372.8 60.1 373.8 57.6C374.8 55.1 379.1 55.3 379.6 53.7C380.1 52.1 376.9 49.7 376.7 48.0C376.5 46.3 376.9 45.4 378.7 43.6C380.5 41.8 384.3 39.9 387.3 37.4C390.3 34.9 395.0 30.7 396.9 28.7C398.8 26.7 397.9 25.9 398.5 25.3C399.1 24.7 399.9 24.6 400.8 25.3Z" fill="#0a22ff"/>
<g clip-path="url(#env373_25)">
<path d="M405.7 25.3 398.4 25.3 395.7 27.3 392.4 30.6 389.4 34.3 383.7 39.6 382.1 42.0 381.1 44.6 380.4 48.6 377.4 54.0 376.4 57.3 376.4 60.6 376.7 61.0 376.7 62.0 378.1 64.3 380.1 66.0 383.1 67.0 385.7 67.0 388.7 66.0 391.7 63.3 393.4 59.0 393.4 53.6 393.7 52.6 400.1 43.0 405.1 32.6 405.7 30.6 405.7 29.3 406.1 29.0 406.1 26.0Z" fill="#0a70ff" fill-rule="evenodd"/>
<path d="M403.4 25.3 400.1 25.6 396.7 28.0 393.1 32.0 390.1 36.3 384.1 41.6 382.7 45.0 383.1 50.0 382.1 52.0 380.1 54.3 379.1 56.3 379.1 57.6 378.7 58.0 378.7 59.6 379.7 62.3 382.1 64.3 384.4 64.6 384.7 65.0 386.7 64.6 388.7 63.6 390.1 62.3 391.4 59.0 390.7 52.6 394.7 48.0 400.1 40.0 404.1 32.3 404.7 30.0 404.7 27.0Z" fill="#00b8ff" fill-rule="evenodd"/>
<path d="M402.7 26.6 401.7 26.3 401.4 26.6 400.4 26.6 398.1 28.0 394.7 31.3 392.1 35.0 391.1 37.0 388.4 39.6 385.7 41.3 384.1 44.0 384.1 47.6 386.4 52.0 385.7 52.6 383.4 53.6 381.1 56.3 380.7 57.3 380.7 60.0 381.4 61.3 382.7 62.6 383.4 63.0 386.4 63.0 387.4 62.6 389.1 61.0 389.7 59.0 389.7 57.6 389.4 57.3 389.4 56.3 387.1 52.3 387.7 51.6 391.1 50.0 393.7 47.3 396.4 43.0 401.1 36.6 403.1 32.6 403.7 30.3 403.7 28.0Z" fill="#00e8d8" fill-rule="evenodd"/>
<path d="M385.1 55.3 384.1 55.6 382.7 57.0 382.4 57.6 382.4 59.6 382.7 60.3 384.1 61.3 386.4 61.3 387.7 60.0 388.1 58.0 387.1 56.0ZM402.1 27.6 400.1 27.6 397.4 29.3 394.7 32.3 390.7 39.0 387.1 41.3 385.4 43.0 384.7 44.6 384.7 46.3 385.4 48.0 386.7 49.3 387.4 49.6 389.1 49.6 390.7 49.0 393.1 46.6 394.4 44.0 399.4 38.0 400.7 36.0 402.7 31.6 403.1 29.3Z" fill="#18e030" fill-rule="evenodd"/>
<path d="M401.4 28.6 399.7 28.6 398.4 29.3 396.1 31.6 394.4 34.0 391.7 39.6 390.7 40.6 386.7 42.6 385.7 44.3 385.7 46.3 386.4 47.6 387.4 48.3 389.7 48.3 392.1 46.3 394.1 42.3 399.1 37.3 400.4 35.3 402.1 31.6 402.1 29.3Z" fill="#a8f018" fill-rule="evenodd"/>
<path d="M392.4 41.6 390.7 41.6 388.1 42.6 386.4 44.6 386.7 46.6 388.1 47.6 390.1 47.3 391.4 46.0 392.1 44.6ZM400.7 29.3 399.1 29.6 396.4 32.0 394.1 36.0 393.4 38.3 393.4 40.3 394.4 40.3 396.1 39.3 399.4 36.0 401.4 32.0 401.4 30.0Z" fill="#ffe600" fill-rule="evenodd"/>
<path d="M390.4 43.3 388.7 43.3 388.1 43.6 387.4 44.6 387.4 45.6 388.7 46.6 389.7 46.3 390.7 45.0 390.7 43.6ZM400.1 30.3 399.4 30.3 397.7 31.3 395.7 34.0 394.7 36.6 395.1 38.0 396.7 37.6 398.1 36.6 399.4 35.0 400.7 32.0 400.7 31.0Z" fill="#ff8a00" fill-rule="evenodd"/>
<path d="M399.7 31.3 398.4 31.6 396.7 33.3 396.1 34.6 396.1 36.6 397.4 36.3 398.7 35.0 399.7 33.3Z" fill="#ff1400" fill-rule="evenodd"/>
</g></g>
<polyline points="391.50,25.30 391.50,52.60 406.00,52.60" fill="none" stroke="#666" stroke-width="0.7"/>
<line x1="412.80" y1="25.30" x2="412.80" y2="48.50" stroke="#666" stroke-width="0.7"/>
<text x="406.60" y="54.70" font-size="6.38" text-anchor="start" textLength="6.34" lengthAdjust="spacingAndGlyphs" fill="#333" >48</text>
<rect x="373.40" y="25.30" width="44.00" height="43.30" fill="none" stroke="#111" stroke-width="1"/>
<line x1="370.40" y1="29.20" x2="373.40" y2="29.20" stroke="#111" stroke-width="0.9"/>
<g transform="translate(367.90 30.80) scale(0.9 1)"><text x="0" y="0" font-size="4.5" text-anchor="end" fill="#444">10<tspan dy="-1.6" font-size="2.8">5</tspan></text></g>
<line x1="371.40" y1="36.19" x2="373.40" y2="36.19" stroke="#111" stroke-width="0.6"/>
<line x1="371.40" y1="34.43" x2="373.40" y2="34.43" stroke="#111" stroke-width="0.6"/>
<line x1="371.40" y1="33.18" x2="373.40" y2="33.18" stroke="#111" stroke-width="0.6"/>
<line x1="371.40" y1="32.21" x2="373.40" y2="32.21" stroke="#111" stroke-width="0.6"/>
<line x1="371.40" y1="31.42" x2="373.40" y2="31.42" stroke="#111" stroke-width="0.6"/>
<line x1="371.40" y1="30.75" x2="373.40" y2="30.75" stroke="#111" stroke-width="0.6"/>
<line x1="371.40" y1="30.17" x2="373.40" y2="30.17" stroke="#111" stroke-width="0.6"/>
<line x1="371.40" y1="29.66" x2="373.40" y2="29.66" stroke="#111" stroke-width="0.6"/>
<line x1="370.40" y1="39.00" x2="373.40" y2="39.00" stroke="#111" stroke-width="0.9"/>
<g transform="translate(367.90 40.60) scale(0.9 1)"><text x="0" y="0" font-size="4.5" text-anchor="end" fill="#444">10<tspan dy="-1.6" font-size="2.8">4</tspan></text></g>
<line x1="371.40" y1="45.99" x2="373.40" y2="45.99" stroke="#111" stroke-width="0.6"/>
<line x1="371.40" y1="44.23" x2="373.40" y2="44.23" stroke="#111" stroke-width="0.6"/>
<line x1="371.40" y1="42.98" x2="373.40" y2="42.98" stroke="#111" stroke-width="0.6"/>
<line x1="371.40" y1="42.01" x2="373.40" y2="42.01" stroke="#111" stroke-width="0.6"/>
<line x1="371.40" y1="41.22" x2="373.40" y2="41.22" stroke="#111" stroke-width="0.6"/>
<line x1="371.40" y1="40.55" x2="373.40" y2="40.55" stroke="#111" stroke-width="0.6"/>
<line x1="371.40" y1="39.97" x2="373.40" y2="39.97" stroke="#111" stroke-width="0.6"/>
<line x1="371.40" y1="39.46" x2="373.40" y2="39.46" stroke="#111" stroke-width="0.6"/>
<line x1="370.40" y1="49.00" x2="373.40" y2="49.00" stroke="#111" stroke-width="0.9"/>
<g transform="translate(367.90 50.60) scale(0.9 1)"><text x="0" y="0" font-size="4.5" text-anchor="end" fill="#444">10<tspan dy="-1.6" font-size="2.8">3</tspan></text></g>
<line x1="371.40" y1="55.99" x2="373.40" y2="55.99" stroke="#111" stroke-width="0.6"/>
<line x1="371.40" y1="54.23" x2="373.40" y2="54.23" stroke="#111" stroke-width="0.6"/>
<line x1="371.40" y1="52.98" x2="373.40" y2="52.98" stroke="#111" stroke-width="0.6"/>
<line x1="371.40" y1="52.01" x2="373.40" y2="52.01" stroke="#111" stroke-width="0.6"/>
<line x1="371.40" y1="51.22" x2="373.40" y2="51.22" stroke="#111" stroke-width="0.6"/>
<line x1="371.40" y1="50.55" x2="373.40" y2="50.55" stroke="#111" stroke-width="0.6"/>
<line x1="371.40" y1="49.97" x2="373.40" y2="49.97" stroke="#111" stroke-width="0.6"/>
<line x1="371.40" y1="49.46" x2="373.40" y2="49.46" stroke="#111" stroke-width="0.6"/>
<line x1="370.40" y1="59.20" x2="373.40" y2="59.20" stroke="#111" stroke-width="0.9"/>
<g transform="translate(367.90 60.80) scale(0.9 1)"><text x="0" y="0" font-size="4.5" text-anchor="end" fill="#444">10<tspan dy="-1.6" font-size="2.8">2</tspan></text></g>
<line x1="371.40" y1="66.19" x2="373.40" y2="66.19" stroke="#111" stroke-width="0.6"/>
<line x1="371.40" y1="64.43" x2="373.40" y2="64.43" stroke="#111" stroke-width="0.6"/>
<line x1="371.40" y1="63.18" x2="373.40" y2="63.18" stroke="#111" stroke-width="0.6"/>
<line x1="371.40" y1="62.21" x2="373.40" y2="62.21" stroke="#111" stroke-width="0.6"/>
<line x1="371.40" y1="61.42" x2="373.40" y2="61.42" stroke="#111" stroke-width="0.6"/>
<line x1="371.40" y1="60.75" x2="373.40" y2="60.75" stroke="#111" stroke-width="0.6"/>
<line x1="371.40" y1="60.17" x2="373.40" y2="60.17" stroke="#111" stroke-width="0.6"/>
<line x1="371.40" y1="59.66" x2="373.40" y2="59.66" stroke="#111" stroke-width="0.6"/>
<line x1="370.40" y1="63.80" x2="373.40" y2="63.80" stroke="#111" stroke-width="0.9"/>
<line x1="371.40" y1="61.50" x2="373.40" y2="61.50" stroke="#111" stroke-width="0.6"/>
<line x1="371.40" y1="65.80" x2="373.40" y2="65.80" stroke="#111" stroke-width="0.6"/>
<line x1="371.40" y1="67.30" x2="373.40" y2="67.30" stroke="#111" stroke-width="0.6"/>
<g transform="translate(367.90 65.40) scale(0.9 1)"><text x="0" y="0" font-size="4.5" text-anchor="end" fill="#444">0</text></g>
<line x1="392.20" y1="68.60" x2="392.20" y2="71.60" stroke="#111" stroke-width="0.9"/>
<g transform="translate(392.50 78.20) scale(0.9 1)"><text x="0" y="0" font-size="4.5" text-anchor="middle" fill="#444">10<tspan dy="-1.6" font-size="2.8">3</tspan></text></g>
<line x1="385.21" y1="68.60" x2="385.21" y2="70.60" stroke="#111" stroke-width="0.6"/>
<line x1="386.97" y1="68.60" x2="386.97" y2="70.60" stroke="#111" stroke-width="0.6"/>
<line x1="388.22" y1="68.60" x2="388.22" y2="70.60" stroke="#111" stroke-width="0.6"/>
<line x1="389.19" y1="68.60" x2="389.19" y2="70.60" stroke="#111" stroke-width="0.6"/>
<line x1="389.98" y1="68.60" x2="389.98" y2="70.60" stroke="#111" stroke-width="0.6"/>
<line x1="390.65" y1="68.60" x2="390.65" y2="70.60" stroke="#111" stroke-width="0.6"/>
<line x1="391.23" y1="68.60" x2="391.23" y2="70.60" stroke="#111" stroke-width="0.6"/>
<line x1="391.74" y1="68.60" x2="391.74" y2="70.60" stroke="#111" stroke-width="0.6"/>
<line x1="402.50" y1="68.60" x2="402.50" y2="71.60" stroke="#111" stroke-width="0.9"/>
<g transform="translate(402.80 78.20) scale(0.9 1)"><text x="0" y="0" font-size="4.5" text-anchor="middle" fill="#444">10<tspan dy="-1.6" font-size="2.8">4</tspan></text></g>
<line x1="395.51" y1="68.60" x2="395.51" y2="70.60" stroke="#111" stroke-width="0.6"/>
<line x1="397.27" y1="68.60" x2="397.27" y2="70.60" stroke="#111" stroke-width="0.6"/>
<line x1="398.52" y1="68.60" x2="398.52" y2="70.60" stroke="#111" stroke-width="0.6"/>
<line x1="399.49" y1="68.60" x2="399.49" y2="70.60" stroke="#111" stroke-width="0.6"/>
<line x1="400.28" y1="68.60" x2="400.28" y2="70.60" stroke="#111" stroke-width="0.6"/>
<line x1="400.95" y1="68.60" x2="400.95" y2="70.60" stroke="#111" stroke-width="0.6"/>
<line x1="401.53" y1="68.60" x2="401.53" y2="70.60" stroke="#111" stroke-width="0.6"/>
<line x1="402.04" y1="68.60" x2="402.04" y2="70.60" stroke="#111" stroke-width="0.6"/>
<line x1="412.40" y1="68.60" x2="412.40" y2="71.60" stroke="#111" stroke-width="0.9"/>
<g transform="translate(412.70 78.20) scale(0.9 1)"><text x="0" y="0" font-size="4.5" text-anchor="middle" fill="#444">10<tspan dy="-1.6" font-size="2.8">5</tspan></text></g>
<line x1="405.41" y1="68.60" x2="405.41" y2="70.60" stroke="#111" stroke-width="0.6"/>
<line x1="407.17" y1="68.60" x2="407.17" y2="70.60" stroke="#111" stroke-width="0.6"/>
<line x1="408.42" y1="68.60" x2="408.42" y2="70.60" stroke="#111" stroke-width="0.6"/>
<line x1="409.39" y1="68.60" x2="409.39" y2="70.60" stroke="#111" stroke-width="0.6"/>
<line x1="410.18" y1="68.60" x2="410.18" y2="70.60" stroke="#111" stroke-width="0.6"/>
<line x1="410.85" y1="68.60" x2="410.85" y2="70.60" stroke="#111" stroke-width="0.6"/>
<line x1="411.43" y1="68.60" x2="411.43" y2="70.60" stroke="#111" stroke-width="0.6"/>
<line x1="411.94" y1="68.60" x2="411.94" y2="70.60" stroke="#111" stroke-width="0.6"/>
<line x1="377.90" y1="68.60" x2="377.90" y2="71.60" stroke="#111" stroke-width="0.9"/>
<line x1="375.40" y1="68.60" x2="375.40" y2="70.60" stroke="#111" stroke-width="0.6"/>
<line x1="379.90" y1="68.60" x2="379.90" y2="70.60" stroke="#111" stroke-width="0.6"/>
<g transform="translate(381.40 78.20) scale(0.9 1)"><text x="0" y="0" font-size="4.5" text-anchor="middle" fill="#444">0 10<tspan dy="-1.6" font-size="2.8">2</tspan></text></g>
<clipPath id="clip438_25"><rect x="438.80" y="25.30" width="43.80" height="43.30"/></clipPath>
<clipPath id="env438_25"><path d="M467.7 25.3C468.6 26.2 469.2 28.7 469.1 30.7C469.0 32.7 468.2 35.2 467.2 37.4C466.2 39.6 464.4 42.1 462.9 44.1C461.4 46.1 459.2 47.8 458.1 49.4C457.1 51.0 456.9 51.5 456.6 53.7C456.4 55.9 456.8 59.9 456.6 62.4C456.4 65.0 457.2 67.9 455.2 69.0C453.2 70.1 447.0 70.4 444.6 69.0C442.2 67.6 441.0 62.7 440.8 60.5C440.6 58.3 442.6 57.3 443.7 55.7C444.8 54.1 447.2 52.4 447.5 50.8C447.8 49.2 445.3 47.6 445.6 46.0C445.9 44.4 448.0 43.3 449.4 41.2C450.8 39.1 452.4 35.2 453.8 33.5C455.2 31.8 456.3 32.1 457.6 31.1C458.9 30.1 460.4 28.3 461.4 27.3C462.4 26.3 462.8 25.6 463.8 25.3C464.9 25.0 466.8 24.4 467.7 25.3Z"/></clipPath>
<g clip-path="url(#clip438_25)"><path d="M467.7 25.3C468.6 26.2 469.2 28.7 469.1 30.7C469.0 32.7 468.2 35.2 467.2 37.4C466.2 39.6 464.4 42.1 462.9 44.1C461.4 46.1 459.2 47.8 458.1 49.4C457.1 51.0 456.9 51.5 456.6 53.7C456.4 55.9 456.8 59.9 456.6 62.4C456.4 65.0 457.2 67.9 455.2 69.0C453.2 70.1 447.0 70.4 444.6 69.0C442.2 67.6 441.0 62.7 440.8 60.5C440.6 58.3 442.6 57.3 443.7 55.7C444.8 54.1 447.2 52.4 447.5 50.8C447.8 49.2 445.3 47.6 445.6 46.0C445.9 44.4 448.0 43.3 449.4 41.2C450.8 39.1 452.4 35.2 453.8 33.5C455.2 31.8 456.3 32.1 457.6 31.1C458.9 30.1 460.4 28.3 461.4 27.3C462.4 26.3 462.8 25.6 463.8 25.3C464.9 25.0 466.8 24.4 467.7 25.3Z" fill="#0a22ff"/>
<g clip-path="url(#env438_25)">
<path d="M469.5 25.3 464.5 25.3 463.1 26.0 460.1 28.6 456.1 33.6 454.5 36.3 452.8 37.6 449.5 41.3 448.1 45.3 448.1 50.3 445.5 54.3 443.8 58.0 443.8 62.3 444.5 63.3 444.5 64.0 445.5 65.3 446.8 66.3 448.5 67.0 452.1 67.0 455.5 65.3 457.1 63.3 458.1 61.0 458.1 53.3 461.1 48.3 466.8 40.6 469.5 35.3 470.5 32.3 470.8 28.0 470.5 27.6 470.5 26.6Z" fill="#0a70ff" fill-rule="evenodd"/>
<path d="M468.1 26.3 467.1 26.0 465.1 26.3 462.1 28.3 459.5 31.3 456.1 37.0 453.8 39.3 452.1 40.3 450.8 42.0 449.8 44.3 449.8 47.6 451.1 51.0 451.1 52.0 447.1 55.6 445.8 58.3 445.8 61.3 446.1 62.3 447.8 64.3 449.1 65.0 452.5 65.0 453.8 64.3 455.5 62.6 456.5 60.0 456.5 58.3 454.8 54.0 454.8 52.6 455.1 52.0 457.5 50.0 461.5 44.6 464.5 41.6 466.8 38.3 468.5 35.0 469.5 31.6 469.5 28.3 469.1 27.3Z" fill="#00b8ff" fill-rule="evenodd"/>
<path d="M451.8 55.3 449.5 56.0 447.8 57.6 447.5 58.6 447.5 61.0 448.1 62.3 449.5 63.3 450.5 63.3 450.8 63.6 453.1 63.0 454.8 60.6 454.5 57.3 452.8 55.6ZM467.8 27.6 467.1 27.3 465.5 27.3 463.5 28.3 459.8 32.3 456.1 39.3 452.1 42.0 451.1 43.6 450.8 46.0 451.1 46.3 451.1 47.3 452.5 49.3 453.1 49.6 454.8 49.6 456.1 49.0 458.1 46.6 458.8 45.3 461.5 43.0 465.8 38.3 467.8 34.6 468.5 32.6 468.8 30.0Z" fill="#00e8d8" fill-rule="evenodd"/>
<path d="M451.5 57.3 450.1 57.6 449.1 59.0 449.1 60.6 450.8 62.0 452.1 61.6 453.1 60.6 453.1 58.6ZM466.8 28.3 465.1 28.3 462.1 30.3 460.1 33.0 458.8 35.6 457.5 40.0 456.1 41.3 453.5 42.3 452.1 44.0 452.1 46.6 452.8 47.6 453.5 48.0 455.1 48.0 456.8 46.3 457.8 44.0 459.5 42.3 461.8 41.3 463.1 40.3 465.5 37.6 467.8 33.0 467.8 29.3Z" fill="#18e030" fill-rule="evenodd"/>
<path d="M454.1 44.3 453.8 44.6 453.8 45.6 454.8 45.6 455.1 45.3 455.1 44.3ZM466.5 29.3 464.8 29.3 463.1 30.3 461.1 32.6 459.8 35.3 459.1 37.6 459.1 39.3 459.5 40.0 460.8 40.3 462.5 39.6 465.8 36.0 467.1 33.0 467.1 30.3Z" fill="#a8f018" fill-rule="evenodd"/>
<path d="M465.8 30.0 464.8 30.0 463.1 31.0 461.1 33.6 460.1 36.3 460.1 38.0 460.8 39.0 461.8 39.0 463.1 38.3 465.5 35.6 466.5 33.3 466.5 30.6Z" fill="#ffe600" fill-rule="evenodd"/>
<path d="M465.5 31.0 463.8 31.3 461.8 33.6 461.1 35.3 461.1 37.3 461.5 37.6 463.1 37.3 464.8 35.6 465.8 33.6 465.8 31.3Z" fill="#ff8a00" fill-rule="evenodd"/>
<path d="M465.1 32.0 464.1 32.0 462.8 33.0 461.8 35.3 461.8 36.0 462.5 36.6 463.8 36.0 465.1 34.0Z" fill="#ff1400" fill-rule="evenodd"/>
</g></g>
<polyline points="457.40,25.30 457.40,52.80 471.80,52.80" fill="none" stroke="#666" stroke-width="0.7"/>
<line x1="478.90" y1="25.30" x2="478.90" y2="48.50" stroke="#666" stroke-width="0.7"/>
<text x="472.40" y="54.90" font-size="6.38" text-anchor="start" textLength="6.34" lengthAdjust="spacingAndGlyphs" fill="#333" >61</text>
<rect x="438.80" y="25.30" width="43.80" height="43.30" fill="none" stroke="#111" stroke-width="1"/>
<line x1="435.80" y1="29.20" x2="438.80" y2="29.20" stroke="#111" stroke-width="0.9"/>
<g transform="translate(433.30 30.80) scale(0.9 1)"><text x="0" y="0" font-size="4.5" text-anchor="end" fill="#444">10<tspan dy="-1.6" font-size="2.8">5</tspan></text></g>
<line x1="436.80" y1="36.19" x2="438.80" y2="36.19" stroke="#111" stroke-width="0.6"/>
<line x1="436.80" y1="34.43" x2="438.80" y2="34.43" stroke="#111" stroke-width="0.6"/>
<line x1="436.80" y1="33.18" x2="438.80" y2="33.18" stroke="#111" stroke-width="0.6"/>
<line x1="436.80" y1="32.21" x2="438.80" y2="32.21" stroke="#111" stroke-width="0.6"/>
<line x1="436.80" y1="31.42" x2="438.80" y2="31.42" stroke="#111" stroke-width="0.6"/>
<line x1="436.80" y1="30.75" x2="438.80" y2="30.75" stroke="#111" stroke-width="0.6"/>
<line x1="436.80" y1="30.17" x2="438.80" y2="30.17" stroke="#111" stroke-width="0.6"/>
<line x1="436.80" y1="29.66" x2="438.80" y2="29.66" stroke="#111" stroke-width="0.6"/>
<line x1="435.80" y1="39.00" x2="438.80" y2="39.00" stroke="#111" stroke-width="0.9"/>
<g transform="translate(433.30 40.60) scale(0.9 1)"><text x="0" y="0" font-size="4.5" text-anchor="end" fill="#444">10<tspan dy="-1.6" font-size="2.8">4</tspan></text></g>
<line x1="436.80" y1="45.99" x2="438.80" y2="45.99" stroke="#111" stroke-width="0.6"/>
<line x1="436.80" y1="44.23" x2="438.80" y2="44.23" stroke="#111" stroke-width="0.6"/>
<line x1="436.80" y1="42.98" x2="438.80" y2="42.98" stroke="#111" stroke-width="0.6"/>
<line x1="436.80" y1="42.01" x2="438.80" y2="42.01" stroke="#111" stroke-width="0.6"/>
<line x1="436.80" y1="41.22" x2="438.80" y2="41.22" stroke="#111" stroke-width="0.6"/>
<line x1="436.80" y1="40.55" x2="438.80" y2="40.55" stroke="#111" stroke-width="0.6"/>
<line x1="436.80" y1="39.97" x2="438.80" y2="39.97" stroke="#111" stroke-width="0.6"/>
<line x1="436.80" y1="39.46" x2="438.80" y2="39.46" stroke="#111" stroke-width="0.6"/>
<line x1="435.80" y1="49.00" x2="438.80" y2="49.00" stroke="#111" stroke-width="0.9"/>
<g transform="translate(433.30 50.60) scale(0.9 1)"><text x="0" y="0" font-size="4.5" text-anchor="end" fill="#444">10<tspan dy="-1.6" font-size="2.8">3</tspan></text></g>
<line x1="436.80" y1="55.99" x2="438.80" y2="55.99" stroke="#111" stroke-width="0.6"/>
<line x1="436.80" y1="54.23" x2="438.80" y2="54.23" stroke="#111" stroke-width="0.6"/>
<line x1="436.80" y1="52.98" x2="438.80" y2="52.98" stroke="#111" stroke-width="0.6"/>
<line x1="436.80" y1="52.01" x2="438.80" y2="52.01" stroke="#111" stroke-width="0.6"/>
<line x1="436.80" y1="51.22" x2="438.80" y2="51.22" stroke="#111" stroke-width="0.6"/>
<line x1="436.80" y1="50.55" x2="438.80" y2="50.55" stroke="#111" stroke-width="0.6"/>
<line x1="436.80" y1="49.97" x2="438.80" y2="49.97" stroke="#111" stroke-width="0.6"/>
<line x1="436.80" y1="49.46" x2="438.80" y2="49.46" stroke="#111" stroke-width="0.6"/>
<line x1="435.80" y1="59.20" x2="438.80" y2="59.20" stroke="#111" stroke-width="0.9"/>
<g transform="translate(433.30 60.80) scale(0.9 1)"><text x="0" y="0" font-size="4.5" text-anchor="end" fill="#444">10<tspan dy="-1.6" font-size="2.8">2</tspan></text></g>
<line x1="436.80" y1="66.19" x2="438.80" y2="66.19" stroke="#111" stroke-width="0.6"/>
<line x1="436.80" y1="64.43" x2="438.80" y2="64.43" stroke="#111" stroke-width="0.6"/>
<line x1="436.80" y1="63.18" x2="438.80" y2="63.18" stroke="#111" stroke-width="0.6"/>
<line x1="436.80" y1="62.21" x2="438.80" y2="62.21" stroke="#111" stroke-width="0.6"/>
<line x1="436.80" y1="61.42" x2="438.80" y2="61.42" stroke="#111" stroke-width="0.6"/>
<line x1="436.80" y1="60.75" x2="438.80" y2="60.75" stroke="#111" stroke-width="0.6"/>
<line x1="436.80" y1="60.17" x2="438.80" y2="60.17" stroke="#111" stroke-width="0.6"/>
<line x1="436.80" y1="59.66" x2="438.80" y2="59.66" stroke="#111" stroke-width="0.6"/>
<line x1="435.80" y1="63.80" x2="438.80" y2="63.80" stroke="#111" stroke-width="0.9"/>
<line x1="436.80" y1="61.50" x2="438.80" y2="61.50" stroke="#111" stroke-width="0.6"/>
<line x1="436.80" y1="65.80" x2="438.80" y2="65.80" stroke="#111" stroke-width="0.6"/>
<line x1="436.80" y1="67.30" x2="438.80" y2="67.30" stroke="#111" stroke-width="0.6"/>
<g transform="translate(433.30 65.40) scale(0.9 1)"><text x="0" y="0" font-size="4.5" text-anchor="end" fill="#444">0</text></g>
<line x1="457.60" y1="68.60" x2="457.60" y2="71.60" stroke="#111" stroke-width="0.9"/>
<g transform="translate(457.90 78.20) scale(0.9 1)"><text x="0" y="0" font-size="4.5" text-anchor="middle" fill="#444">10<tspan dy="-1.6" font-size="2.8">3</tspan></text></g>
<line x1="450.61" y1="68.60" x2="450.61" y2="70.60" stroke="#111" stroke-width="0.6"/>
<line x1="452.37" y1="68.60" x2="452.37" y2="70.60" stroke="#111" stroke-width="0.6"/>
<line x1="453.62" y1="68.60" x2="453.62" y2="70.60" stroke="#111" stroke-width="0.6"/>
<line x1="454.59" y1="68.60" x2="454.59" y2="70.60" stroke="#111" stroke-width="0.6"/>
<line x1="455.38" y1="68.60" x2="455.38" y2="70.60" stroke="#111" stroke-width="0.6"/>
<line x1="456.05" y1="68.60" x2="456.05" y2="70.60" stroke="#111" stroke-width="0.6"/>
<line x1="456.63" y1="68.60" x2="456.63" y2="70.60" stroke="#111" stroke-width="0.6"/>
<line x1="457.14" y1="68.60" x2="457.14" y2="70.60" stroke="#111" stroke-width="0.6"/>
<line x1="467.90" y1="68.60" x2="467.90" y2="71.60" stroke="#111" stroke-width="0.9"/>
<g transform="translate(468.20 78.20) scale(0.9 1)"><text x="0" y="0" font-size="4.5" text-anchor="middle" fill="#444">10<tspan dy="-1.6" font-size="2.8">4</tspan></text></g>
<line x1="460.91" y1="68.60" x2="460.91" y2="70.60" stroke="#111" stroke-width="0.6"/>
<line x1="462.67" y1="68.60" x2="462.67" y2="70.60" stroke="#111" stroke-width="0.6"/>
<line x1="463.92" y1="68.60" x2="463.92" y2="70.60" stroke="#111" stroke-width="0.6"/>
<line x1="464.89" y1="68.60" x2="464.89" y2="70.60" stroke="#111" stroke-width="0.6"/>
<line x1="465.68" y1="68.60" x2="465.68" y2="70.60" stroke="#111" stroke-width="0.6"/>
<line x1="466.35" y1="68.60" x2="466.35" y2="70.60" stroke="#111" stroke-width="0.6"/>
<line x1="466.93" y1="68.60" x2="466.93" y2="70.60" stroke="#111" stroke-width="0.6"/>
<line x1="467.44" y1="68.60" x2="467.44" y2="70.60" stroke="#111" stroke-width="0.6"/>
<line x1="477.80" y1="68.60" x2="477.80" y2="71.60" stroke="#111" stroke-width="0.9"/>
<g transform="translate(478.10 78.20) scale(0.9 1)"><text x="0" y="0" font-size="4.5" text-anchor="middle" fill="#444">10<tspan dy="-1.6" font-size="2.8">5</tspan></text></g>
<line x1="470.81" y1="68.60" x2="470.81" y2="70.60" stroke="#111" stroke-width="0.6"/>
<line x1="472.57" y1="68.60" x2="472.57" y2="70.60" stroke="#111" stroke-width="0.6"/>
<line x1="473.82" y1="68.60" x2="473.82" y2="70.60" stroke="#111" stroke-width="0.6"/>
<line x1="474.79" y1="68.60" x2="474.79" y2="70.60" stroke="#111" stroke-width="0.6"/>
<line x1="475.58" y1="68.60" x2="475.58" y2="70.60" stroke="#111" stroke-width="0.6"/>
<line x1="476.25" y1="68.60" x2="476.25" y2="70.60" stroke="#111" stroke-width="0.6"/>
<line x1="476.83" y1="68.60" x2="476.83" y2="70.60" stroke="#111" stroke-width="0.6"/>
<line x1="477.34" y1="68.60" x2="477.34" y2="70.60" stroke="#111" stroke-width="0.6"/>
<line x1="443.30" y1="68.60" x2="443.30" y2="71.60" stroke="#111" stroke-width="0.9"/>
<line x1="440.80" y1="68.60" x2="440.80" y2="70.60" stroke="#111" stroke-width="0.6"/>
<line x1="445.30" y1="68.60" x2="445.30" y2="70.60" stroke="#111" stroke-width="0.6"/>
<g transform="translate(446.80 78.20) scale(0.9 1)"><text x="0" y="0" font-size="4.5" text-anchor="middle" fill="#444">0 10<tspan dy="-1.6" font-size="2.8">2</tspan></text></g>
<clipPath id="clip372_88"><rect x="372.90" y="88.80" width="44.00" height="43.30"/></clipPath>
<clipPath id="env372_88"><path d="M394.0 88.8C394.9 88.5 397.3 87.8 398.4 88.8C399.5 89.8 400.5 92.3 400.8 94.6C401.1 96.8 401.1 100.2 400.3 102.3C399.5 104.4 397.6 105.7 396.0 107.1C394.4 108.5 392.1 109.8 390.7 110.5C389.2 111.2 388.4 111.4 387.3 111.4C386.2 111.4 385.2 111.5 384.4 110.5C383.6 109.5 382.6 107.0 382.5 105.7C382.4 104.4 383.1 104.2 383.9 102.8C384.7 101.3 386.2 98.5 387.3 97.0C388.4 95.5 389.7 95.2 390.7 94.1C391.7 93.0 392.6 91.2 393.1 90.3C393.7 89.4 393.1 89.0 394.0 88.8Z"/></clipPath>
<g clip-path="url(#clip372_88)"><path d="M394.0 88.8C394.9 88.5 397.3 87.8 398.4 88.8C399.5 89.8 400.5 92.3 400.8 94.6C401.1 96.8 401.1 100.2 400.3 102.3C399.5 104.4 397.6 105.7 396.0 107.1C394.4 108.5 392.1 109.8 390.7 110.5C389.2 111.2 388.4 111.4 387.3 111.4C386.2 111.4 385.2 111.5 384.4 110.5C383.6 109.5 382.6 107.0 382.5 105.7C382.4 104.4 383.1 104.2 383.9 102.8C384.7 101.3 386.2 98.5 387.3 97.0C388.4 95.5 389.7 95.2 390.7 94.1C391.7 93.0 392.6 91.2 393.1 90.3C393.7 89.4 393.1 89.0 394.0 88.8Z" fill="#0a22ff"/>
<g clip-path="url(#env372_88)">
<path d="M401.2 90.1 398.6 89.1 396.2 89.5 393.6 90.8 390.9 93.5 388.9 96.5 385.6 102.8 385.2 105.5 386.2 106.8 388.2 107.5 393.2 107.5 393.6 107.1 394.6 107.1 398.6 105.1 400.9 102.8 402.6 99.8 403.2 97.8 403.2 93.5 402.2 91.1Z" fill="#0a70ff" fill-rule="evenodd"/>
<path d="M399.9 91.5 399.2 91.1 396.2 91.1 395.2 91.5 392.2 93.8 391.2 95.1 388.9 100.5 388.6 102.8 388.9 103.8 389.9 104.8 391.2 105.5 394.6 105.5 397.6 104.1 400.2 101.5 401.9 97.5 401.9 94.5 401.2 92.8Z" fill="#00b8ff" fill-rule="evenodd"/>
<path d="M399.2 92.8 398.6 92.5 395.9 92.5 393.2 94.1 392.2 95.5 390.6 99.1 390.6 102.1 391.9 103.8 394.6 104.1 396.6 103.5 398.9 101.5 400.6 98.5 400.6 97.1 400.9 96.8 400.6 94.5Z" fill="#00e8d8" fill-rule="evenodd"/>
<path d="M398.2 93.5 395.6 93.5 392.6 96.1 391.6 98.8 391.6 100.8 392.6 102.5 393.2 102.8 395.6 102.8 396.9 102.1 398.9 100.1 399.9 97.5 399.9 95.8 399.6 94.8Z" fill="#18e030" fill-rule="evenodd"/>
<path d="M397.6 94.5 395.6 94.5 393.9 95.5 392.6 98.1 392.6 100.1 393.6 101.5 394.6 101.8 395.9 101.5 398.2 99.5 398.9 97.8 398.9 96.1 398.2 94.8Z" fill="#a8f018" fill-rule="evenodd"/>
<path d="M397.2 95.1 395.2 95.1 393.6 96.8 393.2 99.5 393.9 100.5 395.6 100.8 396.9 100.1 397.9 98.8 398.2 96.5Z" fill="#ffe600" fill-rule="evenodd"/>
<path d="M396.9 95.8 395.2 95.8 393.9 97.5 393.9 99.1 394.6 99.8 395.9 99.8 396.9 99.1 397.6 97.8 397.6 96.8Z" fill="#ff8a00" fill-rule="evenodd"/>
<path d="M396.6 96.5 395.2 96.5 394.6 97.1 394.6 98.8 394.9 99.1 395.9 99.1 396.9 97.8 396.9 96.8Z" fill="#ff1400" fill-rule="evenodd"/>
</g></g>
<polyline points="391.50,88.80 391.50,116.60 406.50,116.60" fill="none" stroke="#666" stroke-width="0.7"/>
<line x1="412.50" y1="88.80" x2="412.50" y2="112.20" stroke="#666" stroke-width="0.7"/>
<text x="407.10" y="118.70" font-size="6.38" text-anchor="start" textLength="6.34" lengthAdjust="spacingAndGlyphs" fill="#333" >86</text>
<rect x="372.90" y="88.80" width="44.00" height="43.30" fill="none" stroke="#111" stroke-width="1"/>
<line x1="369.90" y1="92.70" x2="372.90" y2="92.70" stroke="#111" stroke-width="0.9"/>
<g transform="translate(367.40 94.30) scale(0.9 1)"><text x="0" y="0" font-size="4.5" text-anchor="end" fill="#444">10<tspan dy="-1.6" font-size="2.8">5</tspan></text></g>
<line x1="370.90" y1="99.69" x2="372.90" y2="99.69" stroke="#111" stroke-width="0.6"/>
<line x1="370.90" y1="97.93" x2="372.90" y2="97.93" stroke="#111" stroke-width="0.6"/>
<line x1="370.90" y1="96.68" x2="372.90" y2="96.68" stroke="#111" stroke-width="0.6"/>
<line x1="370.90" y1="95.71" x2="372.90" y2="95.71" stroke="#111" stroke-width="0.6"/>
<line x1="370.90" y1="94.92" x2="372.90" y2="94.92" stroke="#111" stroke-width="0.6"/>
<line x1="370.90" y1="94.25" x2="372.90" y2="94.25" stroke="#111" stroke-width="0.6"/>
<line x1="370.90" y1="93.67" x2="372.90" y2="93.67" stroke="#111" stroke-width="0.6"/>
<line x1="370.90" y1="93.16" x2="372.90" y2="93.16" stroke="#111" stroke-width="0.6"/>
<line x1="369.90" y1="102.50" x2="372.90" y2="102.50" stroke="#111" stroke-width="0.9"/>
<g transform="translate(367.40 104.10) scale(0.9 1)"><text x="0" y="0" font-size="4.5" text-anchor="end" fill="#444">10<tspan dy="-1.6" font-size="2.8">4</tspan></text></g>
<line x1="370.90" y1="109.49" x2="372.90" y2="109.49" stroke="#111" stroke-width="0.6"/>
<line x1="370.90" y1="107.73" x2="372.90" y2="107.73" stroke="#111" stroke-width="0.6"/>
<line x1="370.90" y1="106.48" x2="372.90" y2="106.48" stroke="#111" stroke-width="0.6"/>
<line x1="370.90" y1="105.51" x2="372.90" y2="105.51" stroke="#111" stroke-width="0.6"/>
<line x1="370.90" y1="104.72" x2="372.90" y2="104.72" stroke="#111" stroke-width="0.6"/>
<line x1="370.90" y1="104.05" x2="372.90" y2="104.05" stroke="#111" stroke-width="0.6"/>
<line x1="370.90" y1="103.47" x2="372.90" y2="103.47" stroke="#111" stroke-width="0.6"/>
<line x1="370.90" y1="102.96" x2="372.90" y2="102.96" stroke="#111" stroke-width="0.6"/>
<line x1="369.90" y1="112.50" x2="372.90" y2="112.50" stroke="#111" stroke-width="0.9"/>
<g transform="translate(367.40 114.10) scale(0.9 1)"><text x="0" y="0" font-size="4.5" text-anchor="end" fill="#444">10<tspan dy="-1.6" font-size="2.8">3</tspan></text></g>
<line x1="370.90" y1="119.49" x2="372.90" y2="119.49" stroke="#111" stroke-width="0.6"/>
<line x1="370.90" y1="117.73" x2="372.90" y2="117.73" stroke="#111" stroke-width="0.6"/>
<line x1="370.90" y1="116.48" x2="372.90" y2="116.48" stroke="#111" stroke-width="0.6"/>
<line x1="370.90" y1="115.51" x2="372.90" y2="115.51" stroke="#111" stroke-width="0.6"/>
<line x1="370.90" y1="114.72" x2="372.90" y2="114.72" stroke="#111" stroke-width="0.6"/>
<line x1="370.90" y1="114.05" x2="372.90" y2="114.05" stroke="#111" stroke-width="0.6"/>
<line x1="370.90" y1="113.47" x2="372.90" y2="113.47" stroke="#111" stroke-width="0.6"/>
<line x1="370.90" y1="112.96" x2="372.90" y2="112.96" stroke="#111" stroke-width="0.6"/>
<line x1="369.90" y1="122.70" x2="372.90" y2="122.70" stroke="#111" stroke-width="0.9"/>
<g transform="translate(367.40 124.30) scale(0.9 1)"><text x="0" y="0" font-size="4.5" text-anchor="end" fill="#444">10<tspan dy="-1.6" font-size="2.8">2</tspan></text></g>
<line x1="370.90" y1="129.69" x2="372.90" y2="129.69" stroke="#111" stroke-width="0.6"/>
<line x1="370.90" y1="127.93" x2="372.90" y2="127.93" stroke="#111" stroke-width="0.6"/>
<line x1="370.90" y1="126.68" x2="372.90" y2="126.68" stroke="#111" stroke-width="0.6"/>
<line x1="370.90" y1="125.71" x2="372.90" y2="125.71" stroke="#111" stroke-width="0.6"/>
<line x1="370.90" y1="124.92" x2="372.90" y2="124.92" stroke="#111" stroke-width="0.6"/>
<line x1="370.90" y1="124.25" x2="372.90" y2="124.25" stroke="#111" stroke-width="0.6"/>
<line x1="370.90" y1="123.67" x2="372.90" y2="123.67" stroke="#111" stroke-width="0.6"/>
<line x1="370.90" y1="123.16" x2="372.90" y2="123.16" stroke="#111" stroke-width="0.6"/>
<line x1="369.90" y1="127.30" x2="372.90" y2="127.30" stroke="#111" stroke-width="0.9"/>
<line x1="370.90" y1="125.00" x2="372.90" y2="125.00" stroke="#111" stroke-width="0.6"/>
<line x1="370.90" y1="129.30" x2="372.90" y2="129.30" stroke="#111" stroke-width="0.6"/>
<line x1="370.90" y1="130.80" x2="372.90" y2="130.80" stroke="#111" stroke-width="0.6"/>
<g transform="translate(367.40 128.90) scale(0.9 1)"><text x="0" y="0" font-size="4.5" text-anchor="end" fill="#444">0</text></g>
<line x1="391.70" y1="132.10" x2="391.70" y2="135.10" stroke="#111" stroke-width="0.9"/>
<g transform="translate(392.00 141.70) scale(0.9 1)"><text x="0" y="0" font-size="4.5" text-anchor="middle" fill="#444">10<tspan dy="-1.6" font-size="2.8">3</tspan></text></g>
<line x1="384.71" y1="132.10" x2="384.71" y2="134.10" stroke="#111" stroke-width="0.6"/>
<line x1="386.47" y1="132.10" x2="386.47" y2="134.10" stroke="#111" stroke-width="0.6"/>
<line x1="387.72" y1="132.10" x2="387.72" y2="134.10" stroke="#111" stroke-width="0.6"/>
<line x1="388.69" y1="132.10" x2="388.69" y2="134.10" stroke="#111" stroke-width="0.6"/>
<line x1="389.48" y1="132.10" x2="389.48" y2="134.10" stroke="#111" stroke-width="0.6"/>
<line x1="390.15" y1="132.10" x2="390.15" y2="134.10" stroke="#111" stroke-width="0.6"/>
<line x1="390.73" y1="132.10" x2="390.73" y2="134.10" stroke="#111" stroke-width="0.6"/>
<line x1="391.24" y1="132.10" x2="391.24" y2="134.10" stroke="#111" stroke-width="0.6"/>
<line x1="402.00" y1="132.10" x2="402.00" y2="135.10" stroke="#111" stroke-width="0.9"/>
<g transform="translate(402.30 141.70) scale(0.9 1)"><text x="0" y="0" font-size="4.5" text-anchor="middle" fill="#444">10<tspan dy="-1.6" font-size="2.8">4</tspan></text></g>
<line x1="395.01" y1="132.10" x2="395.01" y2="134.10" stroke="#111" stroke-width="0.6"/>
<line x1="396.77" y1="132.10" x2="396.77" y2="134.10" stroke="#111" stroke-width="0.6"/>
<line x1="398.02" y1="132.10" x2="398.02" y2="134.10" stroke="#111" stroke-width="0.6"/>
<line x1="398.99" y1="132.10" x2="398.99" y2="134.10" stroke="#111" stroke-width="0.6"/>
<line x1="399.78" y1="132.10" x2="399.78" y2="134.10" stroke="#111" stroke-width="0.6"/>
<line x1="400.45" y1="132.10" x2="400.45" y2="134.10" stroke="#111" stroke-width="0.6"/>
<line x1="401.03" y1="132.10" x2="401.03" y2="134.10" stroke="#111" stroke-width="0.6"/>
<line x1="401.54" y1="132.10" x2="401.54" y2="134.10" stroke="#111" stroke-width="0.6"/>
<line x1="411.90" y1="132.10" x2="411.90" y2="135.10" stroke="#111" stroke-width="0.9"/>
<g transform="translate(412.20 141.70) scale(0.9 1)"><text x="0" y="0" font-size="4.5" text-anchor="middle" fill="#444">10<tspan dy="-1.6" font-size="2.8">5</tspan></text></g>
<line x1="404.91" y1="132.10" x2="404.91" y2="134.10" stroke="#111" stroke-width="0.6"/>
<line x1="406.67" y1="132.10" x2="406.67" y2="134.10" stroke="#111" stroke-width="0.6"/>
<line x1="407.92" y1="132.10" x2="407.92" y2="134.10" stroke="#111" stroke-width="0.6"/>
<line x1="408.89" y1="132.10" x2="408.89" y2="134.10" stroke="#111" stroke-width="0.6"/>
<line x1="409.68" y1="132.10" x2="409.68" y2="134.10" stroke="#111" stroke-width="0.6"/>
<line x1="410.35" y1="132.10" x2="410.35" y2="134.10" stroke="#111" stroke-width="0.6"/>
<line x1="410.93" y1="132.10" x2="410.93" y2="134.10" stroke="#111" stroke-width="0.6"/>
<line x1="411.44" y1="132.10" x2="411.44" y2="134.10" stroke="#111" stroke-width="0.6"/>
<line x1="377.40" y1="132.10" x2="377.40" y2="135.10" stroke="#111" stroke-width="0.9"/>
<line x1="374.90" y1="132.10" x2="374.90" y2="134.10" stroke="#111" stroke-width="0.6"/>
<line x1="379.40" y1="132.10" x2="379.40" y2="134.10" stroke="#111" stroke-width="0.6"/>
<g transform="translate(380.90 141.70) scale(0.9 1)"><text x="0" y="0" font-size="4.5" text-anchor="middle" fill="#444">0 10<tspan dy="-1.6" font-size="2.8">2</tspan></text></g>
<clipPath id="clip438_88"><rect x="438.90" y="88.80" width="44.00" height="43.30"/></clipPath>
<clipPath id="env438_88"><path d="M459.1 88.8C460.4 88.5 464.4 88.0 465.8 88.8C467.2 89.6 467.5 91.8 467.7 93.7C467.9 95.6 467.6 98.5 466.8 100.4C466.0 102.3 464.2 103.7 462.9 105.2C461.6 106.7 460.5 108.6 459.1 109.5C457.7 110.4 455.8 111.0 454.3 110.5C452.9 110.0 450.6 108.4 450.4 106.6C450.2 104.8 452.2 101.2 453.3 99.4C454.4 97.6 455.9 97.1 456.7 95.6C457.5 94.1 457.7 91.4 458.1 90.3C458.5 89.2 457.8 89.0 459.1 88.8Z"/></clipPath>
<g clip-path="url(#clip438_88)"><path d="M459.1 88.8C460.4 88.5 464.4 88.0 465.8 88.8C467.2 89.6 467.5 91.8 467.7 93.7C467.9 95.6 467.6 98.5 466.8 100.4C466.0 102.3 464.2 103.7 462.9 105.2C461.6 106.7 460.5 108.6 459.1 109.5C457.7 110.4 455.8 111.0 454.3 110.5C452.9 110.0 450.6 108.4 450.4 106.6C450.2 104.8 452.2 101.2 453.3 99.4C454.4 97.6 455.9 97.1 456.7 95.6C457.5 94.1 457.7 91.4 458.1 90.3C458.5 89.2 457.8 89.0 459.1 88.8Z" fill="#0a22ff"/>
<g clip-path="url(#env438_88)">
<path d="M467.2 88.8 460.6 88.8 457.6 91.1 455.9 93.5 452.2 101.5 451.9 104.1 452.2 105.1 453.2 106.1 454.2 106.5 458.2 106.5 458.6 106.1 460.9 105.8 462.9 104.8 465.9 102.5 467.2 100.8 469.2 96.1 469.2 91.8 468.6 90.1Z" fill="#0a70ff" fill-rule="evenodd"/>
<path d="M466.6 90.5 464.6 89.5 462.9 89.5 459.9 90.8 457.9 92.8 455.9 96.5 454.9 99.8 454.9 102.1 455.6 103.5 456.6 104.1 460.6 104.1 462.9 103.1 465.6 100.8 467.2 98.1 467.9 95.8 467.9 93.1Z" fill="#00b8ff" fill-rule="evenodd"/>
<path d="M465.6 91.5 464.2 90.8 461.6 91.1 459.9 92.1 457.9 94.5 456.6 98.1 456.6 100.8 457.9 102.5 458.9 102.8 461.6 102.5 462.9 101.8 465.6 99.1 466.9 95.1 466.6 93.1Z" fill="#00e8d8" fill-rule="evenodd"/>
<path d="M464.6 92.1 462.6 91.8 459.6 93.5 458.2 95.5 457.6 97.8 457.6 99.1 458.6 101.1 459.2 101.5 461.2 101.5 463.2 100.5 464.6 99.1 465.9 96.1 465.9 94.1Z" fill="#18e030" fill-rule="evenodd"/>
<path d="M463.9 93.1 463.2 92.8 461.2 93.1 459.2 95.1 458.6 97.1 458.6 98.1 459.2 99.8 459.9 100.1 461.9 100.1 464.2 98.1 464.9 96.8 464.9 94.5Z" fill="#a8f018" fill-rule="evenodd"/>
<path d="M462.9 93.5 461.2 93.8 459.6 95.8 459.2 96.8 459.6 98.5 460.9 99.5 463.2 98.5 464.2 96.8 464.2 94.8 463.9 94.1Z" fill="#ffe600" fill-rule="evenodd"/>
<path d="M462.6 94.1 461.2 94.5 460.2 95.8 459.9 97.1 460.9 98.5 462.6 98.1 463.6 96.8 463.6 95.1 463.2 94.5Z" fill="#ff8a00" fill-rule="evenodd"/>
<path d="M462.2 94.8 461.2 95.1 460.6 96.1 460.6 97.1 461.2 97.8 461.9 97.8 462.9 96.8 462.9 95.1Z" fill="#ff1400" fill-rule="evenodd"/>
</g></g>
<polyline points="457.50,88.80 457.50,116.90 472.50,116.90" fill="none" stroke="#666" stroke-width="0.7"/>
<line x1="479.00" y1="88.80" x2="479.00" y2="111.00" stroke="#666" stroke-width="0.7"/>
<text x="473.10" y="119.00" font-size="6.38" text-anchor="start" textLength="6.34" lengthAdjust="spacingAndGlyphs" fill="#333" >90</text>
<rect x="438.90" y="88.80" width="44.00" height="43.30" fill="none" stroke="#111" stroke-width="1"/>
<line x1="435.90" y1="92.70" x2="438.90" y2="92.70" stroke="#111" stroke-width="0.9"/>
<g transform="translate(433.40 94.30) scale(0.9 1)"><text x="0" y="0" font-size="4.5" text-anchor="end" fill="#444">10<tspan dy="-1.6" font-size="2.8">5</tspan></text></g>
<line x1="436.90" y1="99.69" x2="438.90" y2="99.69" stroke="#111" stroke-width="0.6"/>
<line x1="436.90" y1="97.93" x2="438.90" y2="97.93" stroke="#111" stroke-width="0.6"/>
<line x1="436.90" y1="96.68" x2="438.90" y2="96.68" stroke="#111" stroke-width="0.6"/>
<line x1="436.90" y1="95.71" x2="438.90" y2="95.71" stroke="#111" stroke-width="0.6"/>
<line x1="436.90" y1="94.92" x2="438.90" y2="94.92" stroke="#111" stroke-width="0.6"/>
<line x1="436.90" y1="94.25" x2="438.90" y2="94.25" stroke="#111" stroke-width="0.6"/>
<line x1="436.90" y1="93.67" x2="438.90" y2="93.67" stroke="#111" stroke-width="0.6"/>
<line x1="436.90" y1="93.16" x2="438.90" y2="93.16" stroke="#111" stroke-width="0.6"/>
<line x1="435.90" y1="102.50" x2="438.90" y2="102.50" stroke="#111" stroke-width="0.9"/>
<g transform="translate(433.40 104.10) scale(0.9 1)"><text x="0" y="0" font-size="4.5" text-anchor="end" fill="#444">10<tspan dy="-1.6" font-size="2.8">4</tspan></text></g>
<line x1="436.90" y1="109.49" x2="438.90" y2="109.49" stroke="#111" stroke-width="0.6"/>
<line x1="436.90" y1="107.73" x2="438.90" y2="107.73" stroke="#111" stroke-width="0.6"/>
<line x1="436.90" y1="106.48" x2="438.90" y2="106.48" stroke="#111" stroke-width="0.6"/>
<line x1="436.90" y1="105.51" x2="438.90" y2="105.51" stroke="#111" stroke-width="0.6"/>
<line x1="436.90" y1="104.72" x2="438.90" y2="104.72" stroke="#111" stroke-width="0.6"/>
<line x1="436.90" y1="104.05" x2="438.90" y2="104.05" stroke="#111" stroke-width="0.6"/>
<line x1="436.90" y1="103.47" x2="438.90" y2="103.47" stroke="#111" stroke-width="0.6"/>
<line x1="436.90" y1="102.96" x2="438.90" y2="102.96" stroke="#111" stroke-width="0.6"/>
<line x1="435.90" y1="112.50" x2="438.90" y2="112.50" stroke="#111" stroke-width="0.9"/>
<g transform="translate(433.40 114.10) scale(0.9 1)"><text x="0" y="0" font-size="4.5" text-anchor="end" fill="#444">10<tspan dy="-1.6" font-size="2.8">3</tspan></text></g>
<line x1="436.90" y1="119.49" x2="438.90" y2="119.49" stroke="#111" stroke-width="0.6"/>
<line x1="436.90" y1="117.73" x2="438.90" y2="117.73" stroke="#111" stroke-width="0.6"/>
<line x1="436.90" y1="116.48" x2="438.90" y2="116.48" stroke="#111" stroke-width="0.6"/>
<line x1="436.90" y1="115.51" x2="438.90" y2="115.51" stroke="#111" stroke-width="0.6"/>
<line x1="436.90" y1="114.72" x2="438.90" y2="114.72" stroke="#111" stroke-width="0.6"/>
<line x1="436.90" y1="114.05" x2="438.90" y2="114.05" stroke="#111" stroke-width="0.6"/>
<line x1="436.90" y1="113.47" x2="438.90" y2="113.47" stroke="#111" stroke-width="0.6"/>
<line x1="436.90" y1="112.96" x2="438.90" y2="112.96" stroke="#111" stroke-width="0.6"/>
<line x1="435.90" y1="122.70" x2="438.90" y2="122.70" stroke="#111" stroke-width="0.9"/>
<g transform="translate(433.40 124.30) scale(0.9 1)"><text x="0" y="0" font-size="4.5" text-anchor="end" fill="#444">10<tspan dy="-1.6" font-size="2.8">2</tspan></text></g>
<line x1="436.90" y1="129.69" x2="438.90" y2="129.69" stroke="#111" stroke-width="0.6"/>
<line x1="436.90" y1="127.93" x2="438.90" y2="127.93" stroke="#111" stroke-width="0.6"/>
<line x1="436.90" y1="126.68" x2="438.90" y2="126.68" stroke="#111" stroke-width="0.6"/>
<line x1="436.90" y1="125.71" x2="438.90" y2="125.71" stroke="#111" stroke-width="0.6"/>
<line x1="436.90" y1="124.92" x2="438.90" y2="124.92" stroke="#111" stroke-width="0.6"/>
<line x1="436.90" y1="124.25" x2="438.90" y2="124.25" stroke="#111" stroke-width="0.6"/>
<line x1="436.90" y1="123.67" x2="438.90" y2="123.67" stroke="#111" stroke-width="0.6"/>
<line x1="436.90" y1="123.16" x2="438.90" y2="123.16" stroke="#111" stroke-width="0.6"/>
<line x1="435.90" y1="127.30" x2="438.90" y2="127.30" stroke="#111" stroke-width="0.9"/>
<line x1="436.90" y1="125.00" x2="438.90" y2="125.00" stroke="#111" stroke-width="0.6"/>
<line x1="436.90" y1="129.30" x2="438.90" y2="129.30" stroke="#111" stroke-width="0.6"/>
<line x1="436.90" y1="130.80" x2="438.90" y2="130.80" stroke="#111" stroke-width="0.6"/>
<g transform="translate(433.40 128.90) scale(0.9 1)"><text x="0" y="0" font-size="4.5" text-anchor="end" fill="#444">0</text></g>
<line x1="457.70" y1="132.10" x2="457.70" y2="135.10" stroke="#111" stroke-width="0.9"/>
<g transform="translate(458.00 141.70) scale(0.9 1)"><text x="0" y="0" font-size="4.5" text-anchor="middle" fill="#444">10<tspan dy="-1.6" font-size="2.8">3</tspan></text></g>
<line x1="450.71" y1="132.10" x2="450.71" y2="134.10" stroke="#111" stroke-width="0.6"/>
<line x1="452.47" y1="132.10" x2="452.47" y2="134.10" stroke="#111" stroke-width="0.6"/>
<line x1="453.72" y1="132.10" x2="453.72" y2="134.10" stroke="#111" stroke-width="0.6"/>
<line x1="454.69" y1="132.10" x2="454.69" y2="134.10" stroke="#111" stroke-width="0.6"/>
<line x1="455.48" y1="132.10" x2="455.48" y2="134.10" stroke="#111" stroke-width="0.6"/>
<line x1="456.15" y1="132.10" x2="456.15" y2="134.10" stroke="#111" stroke-width="0.6"/>
<line x1="456.73" y1="132.10" x2="456.73" y2="134.10" stroke="#111" stroke-width="0.6"/>
<line x1="457.24" y1="132.10" x2="457.24" y2="134.10" stroke="#111" stroke-width="0.6"/>
<line x1="468.00" y1="132.10" x2="468.00" y2="135.10" stroke="#111" stroke-width="0.9"/>
<g transform="translate(468.30 141.70) scale(0.9 1)"><text x="0" y="0" font-size="4.5" text-anchor="middle" fill="#444">10<tspan dy="-1.6" font-size="2.8">4</tspan></text></g>
<line x1="461.01" y1="132.10" x2="461.01" y2="134.10" stroke="#111" stroke-width="0.6"/>
<line x1="462.77" y1="132.10" x2="462.77" y2="134.10" stroke="#111" stroke-width="0.6"/>
<line x1="464.02" y1="132.10" x2="464.02" y2="134.10" stroke="#111" stroke-width="0.6"/>
<line x1="464.99" y1="132.10" x2="464.99" y2="134.10" stroke="#111" stroke-width="0.6"/>
<line x1="465.78" y1="132.10" x2="465.78" y2="134.10" stroke="#111" stroke-width="0.6"/>
<line x1="466.45" y1="132.10" x2="466.45" y2="134.10" stroke="#111" stroke-width="0.6"/>
<line x1="467.03" y1="132.10" x2="467.03" y2="134.10" stroke="#111" stroke-width="0.6"/>
<line x1="467.54" y1="132.10" x2="467.54" y2="134.10" stroke="#111" stroke-width="0.6"/>
<line x1="477.90" y1="132.10" x2="477.90" y2="135.10" stroke="#111" stroke-width="0.9"/>
<g transform="translate(478.20 141.70) scale(0.9 1)"><text x="0" y="0" font-size="4.5" text-anchor="middle" fill="#444">10<tspan dy="-1.6" font-size="2.8">5</tspan></text></g>
<line x1="470.91" y1="132.10" x2="470.91" y2="134.10" stroke="#111" stroke-width="0.6"/>
<line x1="472.67" y1="132.10" x2="472.67" y2="134.10" stroke="#111" stroke-width="0.6"/>
<line x1="473.92" y1="132.10" x2="473.92" y2="134.10" stroke="#111" stroke-width="0.6"/>
<line x1="474.89" y1="132.10" x2="474.89" y2="134.10" stroke="#111" stroke-width="0.6"/>
<line x1="475.68" y1="132.10" x2="475.68" y2="134.10" stroke="#111" stroke-width="0.6"/>
<line x1="476.35" y1="132.10" x2="476.35" y2="134.10" stroke="#111" stroke-width="0.6"/>
<line x1="476.93" y1="132.10" x2="476.93" y2="134.10" stroke="#111" stroke-width="0.6"/>
<line x1="477.44" y1="132.10" x2="477.44" y2="134.10" stroke="#111" stroke-width="0.6"/>
<line x1="443.40" y1="132.10" x2="443.40" y2="135.10" stroke="#111" stroke-width="0.9"/>
<line x1="440.90" y1="132.10" x2="440.90" y2="134.10" stroke="#111" stroke-width="0.6"/>
<line x1="445.40" y1="132.10" x2="445.40" y2="134.10" stroke="#111" stroke-width="0.6"/>
<g transform="translate(446.90 141.70) scale(0.9 1)"><text x="0" y="0" font-size="4.5" text-anchor="middle" fill="#444">0 10<tspan dy="-1.6" font-size="2.8">2</tspan></text></g>
<clipPath id="clip49_210"><rect x="49.70" y="210.70" width="42.90" height="43.40"/></clipPath>
<clipPath id="env49_210"><path d="M74.8 210.7C76.2 210.3 78.7 210.0 79.7 210.7C80.8 211.4 81.0 212.8 81.1 214.7C81.2 216.6 80.6 220.0 80.1 222.4C79.6 224.8 79.1 226.9 78.2 229.1C77.3 231.3 76.2 233.7 74.8 235.8C73.4 237.9 71.6 239.8 70.0 241.6C68.4 243.4 66.5 245.3 65.2 246.4C63.9 247.5 62.7 248.1 61.9 247.9C61.1 247.8 61.1 246.2 60.4 245.5C59.7 244.8 58.4 244.6 57.5 243.5C56.6 242.4 55.1 240.4 55.1 238.7C55.1 236.9 56.9 235.1 57.5 233.0C58.1 230.9 57.9 228.0 58.5 226.2C59.1 224.4 59.9 224.0 61.4 222.4C62.9 220.8 65.5 218.1 67.2 216.6C68.9 215.1 70.2 214.3 71.5 213.3C72.8 212.3 73.4 211.1 74.8 210.7Z"/></clipPath>
<g clip-path="url(#clip49_210)"><path d="M74.8 210.7C76.2 210.3 78.7 210.0 79.7 210.7C80.8 211.4 81.0 212.8 81.1 214.7C81.2 216.6 80.6 220.0 80.1 222.4C79.6 224.8 79.1 226.9 78.2 229.1C77.3 231.3 76.2 233.7 74.8 235.8C73.4 237.9 71.6 239.8 70.0 241.6C68.4 243.4 66.5 245.3 65.2 246.4C63.9 247.5 62.7 248.1 61.9 247.9C61.1 247.8 61.1 246.2 60.4 245.5C59.7 244.8 58.4 244.6 57.5 243.5C56.6 242.4 55.1 240.4 55.1 238.7C55.1 236.9 56.9 235.1 57.5 233.0C58.1 230.9 57.9 228.0 58.5 226.2C59.1 224.4 59.9 224.0 61.4 222.4C62.9 220.8 65.5 218.1 67.2 216.6C68.9 215.1 70.2 214.3 71.5 213.3C72.8 212.3 73.4 211.1 74.8 210.7Z" fill="#0a22ff"/>
<g clip-path="url(#env49_210)">
<path d="M79.7 210.7 74.0 210.7 73.4 211.0 68.4 215.7 66.4 217.0 62.0 221.4 60.0 224.0 55.7 232.7 53.7 239.4 53.7 241.4 54.4 243.7 56.0 245.4 58.0 246.0 59.7 246.0 60.0 245.7 61.4 245.7 65.4 244.0 69.7 241.0 75.4 235.0 78.7 229.4 80.7 223.4 80.7 221.7 81.0 221.4 81.0 214.0Z" fill="#0a70ff" fill-rule="evenodd"/>
<path d="M78.0 212.4 77.4 212.0 75.4 212.0 74.0 212.7 62.4 224.7 60.7 227.4 56.7 236.0 56.4 240.4 57.4 242.0 59.0 242.7 60.4 242.7 64.7 241.0 70.7 236.7 74.7 232.4 77.4 227.7 79.4 221.0 79.4 215.0Z" fill="#00b8ff" fill-rule="evenodd"/>
<path d="M77.4 214.0 76.7 213.7 75.0 213.7 73.4 214.7 68.4 221.0 63.7 226.0 61.0 230.4 58.4 236.4 58.4 239.0 59.4 240.0 61.0 240.4 64.4 239.0 70.4 234.7 74.4 230.7 76.4 227.4 78.4 221.0 78.4 216.0Z" fill="#00e8d8" fill-rule="evenodd"/>
<path d="M76.4 215.0 74.7 215.0 74.0 215.4 72.0 217.4 68.4 223.0 64.7 227.4 60.7 234.4 60.4 235.4 60.4 237.4 60.7 237.7 62.0 238.0 63.7 237.4 72.4 231.4 74.7 228.7 76.7 224.7 77.4 222.4 77.4 221.0 77.7 220.7 77.7 217.4 77.4 217.0 77.4 216.0Z" fill="#18e030" fill-rule="evenodd"/>
<path d="M76.0 216.4 74.4 216.4 73.0 217.4 70.7 220.7 66.0 230.0 65.7 231.7 67.7 231.7 71.0 230.7 74.0 228.0 76.0 224.4 76.7 222.4 77.0 218.7Z" fill="#a8f018" fill-rule="evenodd"/>
<path d="M75.4 217.4 74.4 217.4 73.4 218.0 70.7 222.0 69.0 227.4 69.7 229.0 71.7 229.0 72.7 228.4 75.4 224.7 76.4 221.4 76.4 218.7Z" fill="#ffe600" fill-rule="evenodd"/>
<path d="M75.0 218.7 74.0 218.7 72.4 220.4 70.7 224.4 70.7 226.7 71.0 227.4 72.7 227.0 74.0 225.7 75.4 223.0 75.7 219.7Z" fill="#ff8a00" fill-rule="evenodd"/>
<path d="M74.7 219.7 74.0 219.7 72.7 221.0 72.0 222.4 71.7 225.7 72.4 226.0 73.0 225.7 74.4 224.0 75.0 222.0 75.0 220.4Z" fill="#ff1400" fill-rule="evenodd"/>
</g></g>
<polyline points="72.40,210.70 72.40,241.30 83.50,241.30" fill="none" stroke="#666" stroke-width="0.7"/>
<line x1="85.20" y1="210.70" x2="85.20" y2="237.30" stroke="#666" stroke-width="0.7"/>
<text x="84.10" y="243.40" font-size="6.38" text-anchor="start" textLength="6.34" lengthAdjust="spacingAndGlyphs" fill="#333" >47</text>
<rect x="49.70" y="210.70" width="42.90" height="43.40" fill="none" stroke="#111" stroke-width="1"/>
<line x1="46.70" y1="214.60" x2="49.70" y2="214.60" stroke="#111" stroke-width="0.9"/>
<g transform="translate(44.20 216.20) scale(0.9 1)"><text x="0" y="0" font-size="4.5" text-anchor="end" fill="#444">10<tspan dy="-1.6" font-size="2.8">5</tspan></text></g>
<line x1="47.70" y1="221.59" x2="49.70" y2="221.59" stroke="#111" stroke-width="0.6"/>
<line x1="47.70" y1="219.83" x2="49.70" y2="219.83" stroke="#111" stroke-width="0.6"/>
<line x1="47.70" y1="218.58" x2="49.70" y2="218.58" stroke="#111" stroke-width="0.6"/>
<line x1="47.70" y1="217.61" x2="49.70" y2="217.61" stroke="#111" stroke-width="0.6"/>
<line x1="47.70" y1="216.82" x2="49.70" y2="216.82" stroke="#111" stroke-width="0.6"/>
<line x1="47.70" y1="216.15" x2="49.70" y2="216.15" stroke="#111" stroke-width="0.6"/>
<line x1="47.70" y1="215.57" x2="49.70" y2="215.57" stroke="#111" stroke-width="0.6"/>
<line x1="47.70" y1="215.06" x2="49.70" y2="215.06" stroke="#111" stroke-width="0.6"/>
<line x1="46.70" y1="224.40" x2="49.70" y2="224.40" stroke="#111" stroke-width="0.9"/>
<g transform="translate(44.20 226.00) scale(0.9 1)"><text x="0" y="0" font-size="4.5" text-anchor="end" fill="#444">10<tspan dy="-1.6" font-size="2.8">4</tspan></text></g>
<line x1="47.70" y1="231.39" x2="49.70" y2="231.39" stroke="#111" stroke-width="0.6"/>
<line x1="47.70" y1="229.63" x2="49.70" y2="229.63" stroke="#111" stroke-width="0.6"/>
<line x1="47.70" y1="228.38" x2="49.70" y2="228.38" stroke="#111" stroke-width="0.6"/>
<line x1="47.70" y1="227.41" x2="49.70" y2="227.41" stroke="#111" stroke-width="0.6"/>
<line x1="47.70" y1="226.62" x2="49.70" y2="226.62" stroke="#111" stroke-width="0.6"/>
<line x1="47.70" y1="225.95" x2="49.70" y2="225.95" stroke="#111" stroke-width="0.6"/>
<line x1="47.70" y1="225.37" x2="49.70" y2="225.37" stroke="#111" stroke-width="0.6"/>
<line x1="47.70" y1="224.86" x2="49.70" y2="224.86" stroke="#111" stroke-width="0.6"/>
<line x1="46.70" y1="234.40" x2="49.70" y2="234.40" stroke="#111" stroke-width="0.9"/>
<g transform="translate(44.20 236.00) scale(0.9 1)"><text x="0" y="0" font-size="4.5" text-anchor="end" fill="#444">10<tspan dy="-1.6" font-size="2.8">3</tspan></text></g>
<line x1="47.70" y1="241.39" x2="49.70" y2="241.39" stroke="#111" stroke-width="0.6"/>
<line x1="47.70" y1="239.63" x2="49.70" y2="239.63" stroke="#111" stroke-width="0.6"/>
<line x1="47.70" y1="238.38" x2="49.70" y2="238.38" stroke="#111" stroke-width="0.6"/>
<line x1="47.70" y1="237.41" x2="49.70" y2="237.41" stroke="#111" stroke-width="0.6"/>
<line x1="47.70" y1="236.62" x2="49.70" y2="236.62" stroke="#111" stroke-width="0.6"/>
<line x1="47.70" y1="235.95" x2="49.70" y2="235.95" stroke="#111" stroke-width="0.6"/>
<line x1="47.70" y1="235.37" x2="49.70" y2="235.37" stroke="#111" stroke-width="0.6"/>
<line x1="47.70" y1="234.86" x2="49.70" y2="234.86" stroke="#111" stroke-width="0.6"/>
<line x1="46.70" y1="244.60" x2="49.70" y2="244.60" stroke="#111" stroke-width="0.9"/>
<g transform="translate(44.20 246.20) scale(0.9 1)"><text x="0" y="0" font-size="4.5" text-anchor="end" fill="#444">10<tspan dy="-1.6" font-size="2.8">2</tspan></text></g>
<line x1="47.70" y1="251.59" x2="49.70" y2="251.59" stroke="#111" stroke-width="0.6"/>
<line x1="47.70" y1="249.83" x2="49.70" y2="249.83" stroke="#111" stroke-width="0.6"/>
<line x1="47.70" y1="248.58" x2="49.70" y2="248.58" stroke="#111" stroke-width="0.6"/>
<line x1="47.70" y1="247.61" x2="49.70" y2="247.61" stroke="#111" stroke-width="0.6"/>
<line x1="47.70" y1="246.82" x2="49.70" y2="246.82" stroke="#111" stroke-width="0.6"/>
<line x1="47.70" y1="246.15" x2="49.70" y2="246.15" stroke="#111" stroke-width="0.6"/>
<line x1="47.70" y1="245.57" x2="49.70" y2="245.57" stroke="#111" stroke-width="0.6"/>
<line x1="47.70" y1="245.06" x2="49.70" y2="245.06" stroke="#111" stroke-width="0.6"/>
<line x1="46.70" y1="249.20" x2="49.70" y2="249.20" stroke="#111" stroke-width="0.9"/>
<line x1="47.70" y1="246.90" x2="49.70" y2="246.90" stroke="#111" stroke-width="0.6"/>
<line x1="47.70" y1="251.20" x2="49.70" y2="251.20" stroke="#111" stroke-width="0.6"/>
<line x1="47.70" y1="252.70" x2="49.70" y2="252.70" stroke="#111" stroke-width="0.6"/>
<g transform="translate(44.20 250.80) scale(0.9 1)"><text x="0" y="0" font-size="4.5" text-anchor="end" fill="#444">0</text></g>
<line x1="68.50" y1="254.10" x2="68.50" y2="257.10" stroke="#111" stroke-width="0.9"/>
<g transform="translate(68.80 263.70) scale(0.9 1)"><text x="0" y="0" font-size="4.5" text-anchor="middle" fill="#444">10<tspan dy="-1.6" font-size="2.8">3</tspan></text></g>
<line x1="61.51" y1="254.10" x2="61.51" y2="256.10" stroke="#111" stroke-width="0.6"/>
<line x1="63.27" y1="254.10" x2="63.27" y2="256.10" stroke="#111" stroke-width="0.6"/>
<line x1="64.52" y1="254.10" x2="64.52" y2="256.10" stroke="#111" stroke-width="0.6"/>
<line x1="65.49" y1="254.10" x2="65.49" y2="256.10" stroke="#111" stroke-width="0.6"/>
<line x1="66.28" y1="254.10" x2="66.28" y2="256.10" stroke="#111" stroke-width="0.6"/>
<line x1="66.95" y1="254.10" x2="66.95" y2="256.10" stroke="#111" stroke-width="0.6"/>
<line x1="67.53" y1="254.10" x2="67.53" y2="256.10" stroke="#111" stroke-width="0.6"/>
<line x1="68.04" y1="254.10" x2="68.04" y2="256.10" stroke="#111" stroke-width="0.6"/>
<line x1="78.80" y1="254.10" x2="78.80" y2="257.10" stroke="#111" stroke-width="0.9"/>
<g transform="translate(79.10 263.70) scale(0.9 1)"><text x="0" y="0" font-size="4.5" text-anchor="middle" fill="#444">10<tspan dy="-1.6" font-size="2.8">4</tspan></text></g>
<line x1="71.81" y1="254.10" x2="71.81" y2="256.10" stroke="#111" stroke-width="0.6"/>
<line x1="73.57" y1="254.10" x2="73.57" y2="256.10" stroke="#111" stroke-width="0.6"/>
<line x1="74.82" y1="254.10" x2="74.82" y2="256.10" stroke="#111" stroke-width="0.6"/>
<line x1="75.79" y1="254.10" x2="75.79" y2="256.10" stroke="#111" stroke-width="0.6"/>
<line x1="76.58" y1="254.10" x2="76.58" y2="256.10" stroke="#111" stroke-width="0.6"/>
<line x1="77.25" y1="254.10" x2="77.25" y2="256.10" stroke="#111" stroke-width="0.6"/>
<line x1="77.83" y1="254.10" x2="77.83" y2="256.10" stroke="#111" stroke-width="0.6"/>
<line x1="78.34" y1="254.10" x2="78.34" y2="256.10" stroke="#111" stroke-width="0.6"/>
<line x1="88.70" y1="254.10" x2="88.70" y2="257.10" stroke="#111" stroke-width="0.9"/>
<g transform="translate(89.00 263.70) scale(0.9 1)"><text x="0" y="0" font-size="4.5" text-anchor="middle" fill="#444">10<tspan dy="-1.6" font-size="2.8">5</tspan></text></g>
<line x1="81.71" y1="254.10" x2="81.71" y2="256.10" stroke="#111" stroke-width="0.6"/>
<line x1="83.47" y1="254.10" x2="83.47" y2="256.10" stroke="#111" stroke-width="0.6"/>
<line x1="84.72" y1="254.10" x2="84.72" y2="256.10" stroke="#111" stroke-width="0.6"/>
<line x1="85.69" y1="254.10" x2="85.69" y2="256.10" stroke="#111" stroke-width="0.6"/>
<line x1="86.48" y1="254.10" x2="86.48" y2="256.10" stroke="#111" stroke-width="0.6"/>
<line x1="87.15" y1="254.10" x2="87.15" y2="256.10" stroke="#111" stroke-width="0.6"/>
<line x1="87.73" y1="254.10" x2="87.73" y2="256.10" stroke="#111" stroke-width="0.6"/>
<line x1="88.24" y1="254.10" x2="88.24" y2="256.10" stroke="#111" stroke-width="0.6"/>
<line x1="54.20" y1="254.10" x2="54.20" y2="257.10" stroke="#111" stroke-width="0.9"/>
<line x1="51.70" y1="254.10" x2="51.70" y2="256.10" stroke="#111" stroke-width="0.6"/>
<line x1="56.20" y1="254.10" x2="56.20" y2="256.10" stroke="#111" stroke-width="0.6"/>
<g transform="translate(57.70 263.70) scale(0.9 1)"><text x="0" y="0" font-size="4.5" text-anchor="middle" fill="#444">0 10<tspan dy="-1.6" font-size="2.8">2</tspan></text></g>
<clipPath id="clip114_211"><rect x="114.30" y="211.00" width="43.00" height="43.10"/></clipPath>
<clipPath id="env114_211"><path d="M138.8 211.0C140.1 210.6 143.0 210.2 144.1 211.0C145.2 211.8 145.5 213.6 145.6 215.7C145.7 217.8 145.1 220.9 144.6 223.3C144.1 225.7 143.7 228.0 142.7 230.1C141.7 232.2 140.2 233.9 138.8 235.8C137.4 237.7 135.6 240.0 134.0 241.6C132.4 243.2 130.6 244.6 129.2 245.5C127.8 246.4 126.5 246.9 125.4 246.9C124.3 246.9 123.6 246.5 122.5 245.5C121.4 244.5 118.9 242.3 118.7 240.7C118.5 239.1 120.9 237.9 121.5 235.8C122.1 233.7 121.6 230.6 122.5 228.2C123.4 225.8 125.2 223.3 126.8 221.4C128.4 219.5 130.5 217.9 132.1 216.6C133.7 215.3 135.3 214.6 136.4 213.7C137.5 212.8 137.5 211.4 138.8 211.0Z"/></clipPath>
<g clip-path="url(#clip114_211)"><path d="M138.8 211.0C140.1 210.6 143.0 210.2 144.1 211.0C145.2 211.8 145.5 213.6 145.6 215.7C145.7 217.8 145.1 220.9 144.6 223.3C144.1 225.7 143.7 228.0 142.7 230.1C141.7 232.2 140.2 233.9 138.8 235.8C137.4 237.7 135.6 240.0 134.0 241.6C132.4 243.2 130.6 244.6 129.2 245.5C127.8 246.4 126.5 246.9 125.4 246.9C124.3 246.9 123.6 246.5 122.5 245.5C121.4 244.5 118.9 242.3 118.7 240.7C118.5 239.1 120.9 237.9 121.5 235.8C122.1 233.7 121.6 230.6 122.5 228.2C123.4 225.8 125.2 223.3 126.8 221.4C128.4 219.5 130.5 217.9 132.1 216.6C133.7 215.3 135.3 214.6 136.4 213.7C137.5 212.8 137.5 211.4 138.8 211.0Z" fill="#0a22ff"/>
<g clip-path="url(#env114_211)">
<path d="M144.0 211.0 138.3 211.0 134.3 214.7 130.6 217.3 125.0 223.3 121.0 230.7 121.0 231.3 119.0 235.3 117.6 239.7 117.6 242.7 118.3 244.3 119.6 245.7 121.0 246.3 124.6 246.3 129.6 244.3 134.0 241.3 139.6 235.3 143.0 229.7 144.6 225.0 145.0 222.3 145.3 222.0 145.6 216.7 145.3 216.3 145.3 214.0Z" fill="#0a70ff" fill-rule="evenodd"/>
<path d="M141.6 212.3 140.0 212.3 137.0 214.3 127.0 224.7 125.6 226.7 120.6 237.0 120.3 241.3 121.3 242.7 123.0 243.3 124.3 243.3 126.6 242.7 129.3 241.3 134.0 238.0 138.6 233.3 141.6 228.3 143.6 222.0 143.6 219.7 144.0 219.3 143.6 215.0 143.0 213.7Z" fill="#00b8ff" fill-rule="evenodd"/>
<path d="M141.6 214.3 139.6 214.0 138.0 215.0 136.3 216.7 133.6 220.3 128.3 226.0 127.0 228.0 125.0 232.3 124.3 233.0 122.6 236.7 122.3 239.3 123.3 240.7 125.3 241.0 129.0 239.3 135.6 234.3 138.3 231.7 141.0 227.3 142.6 222.0 143.0 218.0 142.6 217.7 142.6 216.0Z" fill="#00e8d8" fill-rule="evenodd"/>
<path d="M140.6 215.3 138.6 215.7 136.0 218.3 133.3 222.7 129.6 227.0 125.0 235.3 124.6 236.3 124.6 238.0 126.0 238.7 129.0 237.3 131.3 235.3 135.6 232.7 138.6 229.7 140.3 227.0 142.0 222.0 142.0 217.3 141.6 216.3Z" fill="#18e030" fill-rule="evenodd"/>
<path d="M140.6 217.0 139.3 216.7 137.0 218.3 135.0 221.3 131.0 229.3 130.6 231.7 132.0 232.0 132.3 231.7 133.6 231.7 135.6 231.0 138.3 228.7 139.6 226.7 141.0 223.3 141.3 218.3Z" fill="#a8f018" fill-rule="evenodd"/>
<path d="M139.6 217.7 138.0 218.3 137.0 219.3 134.3 224.3 133.6 226.7 133.6 228.7 134.0 229.3 134.6 229.7 136.3 229.3 137.3 228.7 139.0 226.7 140.0 224.7 140.6 222.3 140.6 219.0Z" fill="#ffe600" fill-rule="evenodd"/>
<path d="M139.3 219.0 138.6 219.0 137.6 219.7 135.6 223.0 135.0 225.3 135.0 227.0 135.3 227.7 137.0 227.7 138.3 226.3 139.3 224.7 140.0 222.7 140.0 219.7Z" fill="#ff8a00" fill-rule="evenodd"/>
<path d="M139.0 220.3 138.3 220.3 137.0 221.7 136.3 223.0 136.3 224.0 136.0 224.3 136.3 226.3 137.6 226.0 139.0 224.0 139.3 223.0 139.3 220.7Z" fill="#ff1400" fill-rule="evenodd"/>
</g></g>
<polyline points="136.40,211.00 136.40,241.00 148.50,241.00" fill="none" stroke="#666" stroke-width="0.7"/>
<line x1="150.00" y1="211.00" x2="150.00" y2="237.30" stroke="#666" stroke-width="0.7"/>
<text x="149.10" y="243.10" font-size="6.38" text-anchor="start" textLength="6.34" lengthAdjust="spacingAndGlyphs" fill="#333" >51</text>
<rect x="114.30" y="211.00" width="43.00" height="43.10" fill="none" stroke="#111" stroke-width="1"/>
<line x1="111.30" y1="214.90" x2="114.30" y2="214.90" stroke="#111" stroke-width="0.9"/>
<g transform="translate(108.80 216.50) scale(0.9 1)"><text x="0" y="0" font-size="4.5" text-anchor="end" fill="#444">10<tspan dy="-1.6" font-size="2.8">5</tspan></text></g>
<line x1="112.30" y1="221.89" x2="114.30" y2="221.89" stroke="#111" stroke-width="0.6"/>
<line x1="112.30" y1="220.13" x2="114.30" y2="220.13" stroke="#111" stroke-width="0.6"/>
<line x1="112.30" y1="218.88" x2="114.30" y2="218.88" stroke="#111" stroke-width="0.6"/>
<line x1="112.30" y1="217.91" x2="114.30" y2="217.91" stroke="#111" stroke-width="0.6"/>
<line x1="112.30" y1="217.12" x2="114.30" y2="217.12" stroke="#111" stroke-width="0.6"/>
<line x1="112.30" y1="216.45" x2="114.30" y2="216.45" stroke="#111" stroke-width="0.6"/>
<line x1="112.30" y1="215.87" x2="114.30" y2="215.87" stroke="#111" stroke-width="0.6"/>
<line x1="112.30" y1="215.36" x2="114.30" y2="215.36" stroke="#111" stroke-width="0.6"/>
<line x1="111.30" y1="224.70" x2="114.30" y2="224.70" stroke="#111" stroke-width="0.9"/>
<g transform="translate(108.80 226.30) scale(0.9 1)"><text x="0" y="0" font-size="4.5" text-anchor="end" fill="#444">10<tspan dy="-1.6" font-size="2.8">4</tspan></text></g>
<line x1="112.30" y1="231.69" x2="114.30" y2="231.69" stroke="#111" stroke-width="0.6"/>
<line x1="112.30" y1="229.93" x2="114.30" y2="229.93" stroke="#111" stroke-width="0.6"/>
<line x1="112.30" y1="228.68" x2="114.30" y2="228.68" stroke="#111" stroke-width="0.6"/>
<line x1="112.30" y1="227.71" x2="114.30" y2="227.71" stroke="#111" stroke-width="0.6"/>
<line x1="112.30" y1="226.92" x2="114.30" y2="226.92" stroke="#111" stroke-width="0.6"/>
<line x1="112.30" y1="226.25" x2="114.30" y2="226.25" stroke="#111" stroke-width="0.6"/>
<line x1="112.30" y1="225.67" x2="114.30" y2="225.67" stroke="#111" stroke-width="0.6"/>
<line x1="112.30" y1="225.16" x2="114.30" y2="225.16" stroke="#111" stroke-width="0.6"/>
<line x1="111.30" y1="234.70" x2="114.30" y2="234.70" stroke="#111" stroke-width="0.9"/>
<g transform="translate(108.80 236.30) scale(0.9 1)"><text x="0" y="0" font-size="4.5" text-anchor="end" fill="#444">10<tspan dy="-1.6" font-size="2.8">3</tspan></text></g>
<line x1="112.30" y1="241.69" x2="114.30" y2="241.69" stroke="#111" stroke-width="0.6"/>
<line x1="112.30" y1="239.93" x2="114.30" y2="239.93" stroke="#111" stroke-width="0.6"/>
<line x1="112.30" y1="238.68" x2="114.30" y2="238.68" stroke="#111" stroke-width="0.6"/>
<line x1="112.30" y1="237.71" x2="114.30" y2="237.71" stroke="#111" stroke-width="0.6"/>
<line x1="112.30" y1="236.92" x2="114.30" y2="236.92" stroke="#111" stroke-width="0.6"/>
<line x1="112.30" y1="236.25" x2="114.30" y2="236.25" stroke="#111" stroke-width="0.6"/>
<line x1="112.30" y1="235.67" x2="114.30" y2="235.67" stroke="#111" stroke-width="0.6"/>
<line x1="112.30" y1="235.16" x2="114.30" y2="235.16" stroke="#111" stroke-width="0.6"/>
<line x1="111.30" y1="244.90" x2="114.30" y2="244.90" stroke="#111" stroke-width="0.9"/>
<g transform="translate(108.80 246.50) scale(0.9 1)"><text x="0" y="0" font-size="4.5" text-anchor="end" fill="#444">10<tspan dy="-1.6" font-size="2.8">2</tspan></text></g>
<line x1="112.30" y1="251.89" x2="114.30" y2="251.89" stroke="#111" stroke-width="0.6"/>
<line x1="112.30" y1="250.13" x2="114.30" y2="250.13" stroke="#111" stroke-width="0.6"/>
<line x1="112.30" y1="248.88" x2="114.30" y2="248.88" stroke="#111" stroke-width="0.6"/>
<line x1="112.30" y1="247.91" x2="114.30" y2="247.91" stroke="#111" stroke-width="0.6"/>
<line x1="112.30" y1="247.12" x2="114.30" y2="247.12" stroke="#111" stroke-width="0.6"/>
<line x1="112.30" y1="246.45" x2="114.30" y2="246.45" stroke="#111" stroke-width="0.6"/>
<line x1="112.30" y1="245.87" x2="114.30" y2="245.87" stroke="#111" stroke-width="0.6"/>
<line x1="112.30" y1="245.36" x2="114.30" y2="245.36" stroke="#111" stroke-width="0.6"/>
<line x1="111.30" y1="249.50" x2="114.30" y2="249.50" stroke="#111" stroke-width="0.9"/>
<line x1="112.30" y1="247.20" x2="114.30" y2="247.20" stroke="#111" stroke-width="0.6"/>
<line x1="112.30" y1="251.50" x2="114.30" y2="251.50" stroke="#111" stroke-width="0.6"/>
<line x1="112.30" y1="253.00" x2="114.30" y2="253.00" stroke="#111" stroke-width="0.6"/>
<g transform="translate(108.80 251.10) scale(0.9 1)"><text x="0" y="0" font-size="4.5" text-anchor="end" fill="#444">0</text></g>
<line x1="133.10" y1="254.10" x2="133.10" y2="257.10" stroke="#111" stroke-width="0.9"/>
<g transform="translate(133.40 263.70) scale(0.9 1)"><text x="0" y="0" font-size="4.5" text-anchor="middle" fill="#444">10<tspan dy="-1.6" font-size="2.8">3</tspan></text></g>
<line x1="126.11" y1="254.10" x2="126.11" y2="256.10" stroke="#111" stroke-width="0.6"/>
<line x1="127.87" y1="254.10" x2="127.87" y2="256.10" stroke="#111" stroke-width="0.6"/>
<line x1="129.12" y1="254.10" x2="129.12" y2="256.10" stroke="#111" stroke-width="0.6"/>
<line x1="130.09" y1="254.10" x2="130.09" y2="256.10" stroke="#111" stroke-width="0.6"/>
<line x1="130.88" y1="254.10" x2="130.88" y2="256.10" stroke="#111" stroke-width="0.6"/>
<line x1="131.55" y1="254.10" x2="131.55" y2="256.10" stroke="#111" stroke-width="0.6"/>
<line x1="132.13" y1="254.10" x2="132.13" y2="256.10" stroke="#111" stroke-width="0.6"/>
<line x1="132.64" y1="254.10" x2="132.64" y2="256.10" stroke="#111" stroke-width="0.6"/>
<line x1="143.40" y1="254.10" x2="143.40" y2="257.10" stroke="#111" stroke-width="0.9"/>
<g transform="translate(143.70 263.70) scale(0.9 1)"><text x="0" y="0" font-size="4.5" text-anchor="middle" fill="#444">10<tspan dy="-1.6" font-size="2.8">4</tspan></text></g>
<line x1="136.41" y1="254.10" x2="136.41" y2="256.10" stroke="#111" stroke-width="0.6"/>
<line x1="138.17" y1="254.10" x2="138.17" y2="256.10" stroke="#111" stroke-width="0.6"/>
<line x1="139.42" y1="254.10" x2="139.42" y2="256.10" stroke="#111" stroke-width="0.6"/>
<line x1="140.39" y1="254.10" x2="140.39" y2="256.10" stroke="#111" stroke-width="0.6"/>
<line x1="141.18" y1="254.10" x2="141.18" y2="256.10" stroke="#111" stroke-width="0.6"/>
<line x1="141.85" y1="254.10" x2="141.85" y2="256.10" stroke="#111" stroke-width="0.6"/>
<line x1="142.43" y1="254.10" x2="142.43" y2="256.10" stroke="#111" stroke-width="0.6"/>
<line x1="142.94" y1="254.10" x2="142.94" y2="256.10" stroke="#111" stroke-width="0.6"/>
<line x1="153.30" y1="254.10" x2="153.30" y2="257.10" stroke="#111" stroke-width="0.9"/>
<g transform="translate(153.60 263.70) scale(0.9 1)"><text x="0" y="0" font-size="4.5" text-anchor="middle" fill="#444">10<tspan dy="-1.6" font-size="2.8">5</tspan></text></g>
<line x1="146.31" y1="254.10" x2="146.31" y2="256.10" stroke="#111" stroke-width="0.6"/>
<line x1="148.07" y1="254.10" x2="148.07" y2="256.10" stroke="#111" stroke-width="0.6"/>
<line x1="149.32" y1="254.10" x2="149.32" y2="256.10" stroke="#111" stroke-width="0.6"/>
<line x1="150.29" y1="254.10" x2="150.29" y2="256.10" stroke="#111" stroke-width="0.6"/>
<line x1="151.08" y1="254.10" x2="151.08" y2="256.10" stroke="#111" stroke-width="0.6"/>
<line x1="151.75" y1="254.10" x2="151.75" y2="256.10" stroke="#111" stroke-width="0.6"/>
<line x1="152.33" y1="254.10" x2="152.33" y2="256.10" stroke="#111" stroke-width="0.6"/>
<line x1="152.84" y1="254.10" x2="152.84" y2="256.10" stroke="#111" stroke-width="0.6"/>
<line x1="118.80" y1="254.10" x2="118.80" y2="257.10" stroke="#111" stroke-width="0.9"/>
<line x1="116.30" y1="254.10" x2="116.30" y2="256.10" stroke="#111" stroke-width="0.6"/>
<line x1="120.80" y1="254.10" x2="120.80" y2="256.10" stroke="#111" stroke-width="0.6"/>
<g transform="translate(122.30 263.70) scale(0.9 1)"><text x="0" y="0" font-size="4.5" text-anchor="middle" fill="#444">0 10<tspan dy="-1.6" font-size="2.8">2</tspan></text></g>
<clipPath id="clip186_210"><rect x="186.00" y="210.70" width="43.90" height="42.50"/></clipPath>
<clipPath id="env186_210"><path d="M209.9 212.8C211.5 212.4 214.4 211.7 215.7 212.3C217.0 212.9 217.6 214.6 217.6 216.6C217.6 218.6 216.5 222.4 215.7 224.3C214.9 226.2 213.6 226.4 212.8 228.2C212.0 230.0 211.9 233.5 210.8 234.9C209.8 236.3 207.3 236.2 206.5 236.8C205.7 237.4 205.4 237.7 206.0 238.3C206.6 239.0 209.7 240.1 209.9 240.7C210.1 241.2 208.4 241.0 207.0 241.6C205.6 242.2 202.8 243.3 201.2 244.0C199.6 244.7 198.5 245.7 197.4 245.5C196.3 245.3 194.7 244.2 194.5 242.6C194.3 241.0 195.9 238.5 196.4 235.8C196.9 233.1 197.1 228.9 197.4 226.2C197.7 223.5 197.5 221.1 198.3 219.5C199.1 217.9 200.9 217.4 202.2 216.6C203.5 215.8 204.7 215.3 206.0 214.7C207.3 214.1 208.3 213.2 209.9 212.8Z"/></clipPath>
<g clip-path="url(#clip186_210)"><path d="M209.9 212.8C211.5 212.4 214.4 211.7 215.7 212.3C217.0 212.9 217.6 214.6 217.6 216.6C217.6 218.6 216.5 222.4 215.7 224.3C214.9 226.2 213.6 226.4 212.8 228.2C212.0 230.0 211.9 233.5 210.8 234.9C209.8 236.3 207.3 236.2 206.5 236.8C205.7 237.4 205.4 237.7 206.0 238.3C206.6 239.0 209.7 240.1 209.9 240.7C210.1 241.2 208.4 241.0 207.0 241.6C205.6 242.2 202.8 243.3 201.2 244.0C199.6 244.7 198.5 245.7 197.4 245.5C196.3 245.3 194.7 244.2 194.5 242.6C194.3 241.0 195.9 238.5 196.4 235.8C196.9 233.1 197.1 228.9 197.4 226.2C197.7 223.5 197.5 221.1 198.3 219.5C199.1 217.9 200.9 217.4 202.2 216.6C203.5 215.8 204.7 215.3 206.0 214.7C207.3 214.1 208.3 213.2 209.9 212.8Z" fill="#0a22ff"/>
<g clip-path="url(#env186_210)">
<path d="M214.3 210.7 211.7 210.7 210.0 211.7 205.3 218.0 204.3 217.7 203.3 215.4 202.7 214.7 201.7 214.7 200.0 217.0 198.3 222.7 198.0 225.7 197.7 226.0 197.3 231.4 197.0 231.7 197.0 235.4 196.3 237.0 194.7 239.0 194.0 241.4 194.3 243.4 195.3 245.0 197.7 246.7 198.7 247.0 199.0 246.7 200.0 246.7 201.3 246.0 202.7 244.7 203.7 242.7 203.7 237.4 204.3 236.7 207.7 235.4 212.7 230.7 215.3 226.0 216.7 221.7 217.0 216.0 216.7 215.7 216.3 213.0 215.3 211.4Z" fill="#0a70ff" fill-rule="evenodd"/>
<path d="M202.0 217.7 200.7 218.7 199.3 222.0 199.3 223.0 198.7 224.7 198.7 226.4 198.3 226.7 198.3 229.0 198.0 229.4 198.0 234.4 197.7 234.7 197.7 236.4 196.0 238.7 195.0 241.0 195.3 243.4 196.7 245.0 198.0 245.7 199.7 245.7 201.0 245.0 202.7 242.7 202.7 239.7 202.0 238.0 202.0 236.0 203.3 232.4 203.7 222.7 203.3 222.4 203.0 219.4ZM213.7 212.7 212.0 212.7 211.3 213.0 209.3 215.0 207.7 218.0 206.3 222.4 205.7 228.0 204.0 231.7 204.0 233.0 205.0 234.4 206.3 234.4 208.0 233.4 212.0 229.0 214.7 224.7 215.3 222.7 215.3 221.4 215.7 221.0 215.7 215.7 214.7 213.4Z" fill="#00b8ff" fill-rule="evenodd"/>
<path d="M201.7 220.4 200.7 221.0 199.3 224.7 199.0 228.0 198.7 228.4 198.7 235.4 198.3 235.7 198.3 236.7 196.3 239.4 195.7 241.0 195.7 242.0 196.3 243.7 198.3 245.0 199.3 245.0 200.7 244.4 202.0 242.4 202.0 240.0 201.3 238.7 201.0 236.4 201.3 236.0 201.3 234.7 202.3 231.4 202.3 229.4 202.7 229.0 202.7 222.7ZM213.3 214.0 212.0 214.0 211.0 214.7 209.7 216.4 208.3 219.0 208.0 221.4 207.7 221.7 207.7 225.4 207.3 225.7 207.0 228.0 205.7 230.7 205.7 232.7 207.0 232.7 208.0 232.0 209.3 230.0 212.3 227.0 214.0 224.4 215.0 221.0 215.0 216.7 214.3 215.0Z" fill="#00e8d8" fill-rule="evenodd"/>
<path d="M201.3 222.7 201.0 222.7 200.3 223.7 199.7 225.7 199.7 227.0 199.3 227.4 199.3 230.0 199.0 230.4 199.3 236.7 197.0 239.4 196.3 240.7 196.3 242.4 196.7 243.0 198.3 244.4 199.3 244.4 200.7 243.7 201.3 242.7 201.3 239.7 200.0 236.7 201.3 233.0 201.7 229.7 202.0 229.4 202.0 224.0ZM213.0 215.0 212.0 215.0 211.0 215.7 209.0 219.0 208.7 221.7 208.3 222.0 208.7 227.0 207.0 230.7 212.7 225.4 213.7 223.7 214.3 221.7 214.7 218.4 214.3 218.0 214.3 216.7Z" fill="#18e030" fill-rule="evenodd"/>
<path d="M199.3 238.4 198.7 238.7 197.0 240.7 197.0 242.4 197.3 243.0 198.3 243.7 200.0 243.4 201.0 241.7 200.3 239.0ZM201.0 226.0 200.7 226.0 200.0 228.0 200.0 232.4 200.3 232.4 200.7 231.7 201.0 229.0 201.3 228.7ZM212.7 216.0 211.7 216.4 210.3 217.7 209.3 220.0 209.0 223.4 209.3 223.7 209.3 225.0 209.7 225.7 210.3 226.0 211.3 225.7 212.3 224.7 213.3 223.0 214.0 220.7 214.0 218.0 213.7 217.0Z" fill="#a8f018" fill-rule="evenodd"/>
<path d="M198.7 239.4 197.7 240.4 197.3 242.0 197.7 242.7 198.3 243.0 199.7 243.0 200.3 242.4 200.3 240.4 199.7 239.4ZM212.7 217.0 211.7 217.0 210.0 219.4 209.7 223.7 210.3 224.7 211.3 224.7 212.7 223.4 213.3 221.7 213.7 218.7Z" fill="#ffe600" fill-rule="evenodd"/>
<path d="M199.0 240.0 198.3 240.4 198.0 241.0 198.0 242.0 198.3 242.4 199.3 242.4 200.0 241.4 199.7 240.4ZM212.7 218.0 211.7 218.0 210.3 220.0 210.3 223.4 210.7 223.7 212.0 223.4 213.0 221.4 213.0 218.4Z" fill="#ff8a00" fill-rule="evenodd"/>
<path d="M212.3 218.7 211.7 218.7 210.7 220.4 210.7 222.4 211.0 222.7 211.7 222.7 212.7 221.0 212.7 219.4Z" fill="#ff1400" fill-rule="evenodd"/>
</g></g>
<polyline points="209.40,210.70 209.40,225.30 222.40,225.30 222.40,210.70" fill="none" stroke="#666" stroke-width="0.7"/>
<text x="213.30" y="237.00" font-size="6.38" text-anchor="start" textLength="11.09" lengthAdjust="spacingAndGlyphs" fill="#333" >45.6</text>
<rect x="186.00" y="210.70" width="43.90" height="42.50" fill="none" stroke="#111" stroke-width="1"/>
<line x1="183.00" y1="214.50" x2="186.00" y2="214.50" stroke="#111" stroke-width="0.9"/>
<g transform="translate(180.20 216.10) scale(0.9 1)"><text x="0" y="0" font-size="4.5" text-anchor="end" fill="#444">10<tspan dy="-1.6" font-size="2.8">4</tspan></text></g>
<line x1="183.00" y1="224.30" x2="186.00" y2="224.30" stroke="#111" stroke-width="0.9"/>
<g transform="translate(180.20 225.90) scale(0.9 1)"><text x="0" y="0" font-size="4.5" text-anchor="end" fill="#444">10<tspan dy="-1.6" font-size="2.8">3</tspan></text></g>
<line x1="183.00" y1="236.30" x2="186.00" y2="236.30" stroke="#111" stroke-width="0.9"/>
<g transform="translate(180.20 237.90) scale(0.9 1)"><text x="0" y="0" font-size="4.5" text-anchor="end" fill="#444">10<tspan dy="-1.6" font-size="2.8">2</tspan></text></g>
<line x1="183.00" y1="251.80" x2="186.00" y2="251.80" stroke="#111" stroke-width="0.9"/>
<g transform="translate(180.20 253.40) scale(0.9 1)"><text x="0" y="0" font-size="4.5" text-anchor="end" fill="#444">-10<tspan dy="-1.6" font-size="2.8">2</tspan></text></g>
<line x1="184.00" y1="221.49" x2="186.00" y2="221.49" stroke="#111" stroke-width="0.6"/>
<line x1="184.00" y1="219.73" x2="186.00" y2="219.73" stroke="#111" stroke-width="0.6"/>
<line x1="184.00" y1="218.48" x2="186.00" y2="218.48" stroke="#111" stroke-width="0.6"/>
<line x1="184.00" y1="217.51" x2="186.00" y2="217.51" stroke="#111" stroke-width="0.6"/>
<line x1="184.00" y1="216.72" x2="186.00" y2="216.72" stroke="#111" stroke-width="0.6"/>
<line x1="184.00" y1="216.05" x2="186.00" y2="216.05" stroke="#111" stroke-width="0.6"/>
<line x1="184.00" y1="215.47" x2="186.00" y2="215.47" stroke="#111" stroke-width="0.6"/>
<line x1="184.00" y1="214.96" x2="186.00" y2="214.96" stroke="#111" stroke-width="0.6"/>
<line x1="184.00" y1="231.29" x2="186.00" y2="231.29" stroke="#111" stroke-width="0.6"/>
<line x1="184.00" y1="229.53" x2="186.00" y2="229.53" stroke="#111" stroke-width="0.6"/>
<line x1="184.00" y1="228.28" x2="186.00" y2="228.28" stroke="#111" stroke-width="0.6"/>
<line x1="184.00" y1="227.31" x2="186.00" y2="227.31" stroke="#111" stroke-width="0.6"/>
<line x1="184.00" y1="226.52" x2="186.00" y2="226.52" stroke="#111" stroke-width="0.6"/>
<line x1="184.00" y1="225.85" x2="186.00" y2="225.85" stroke="#111" stroke-width="0.6"/>
<line x1="184.00" y1="225.27" x2="186.00" y2="225.27" stroke="#111" stroke-width="0.6"/>
<line x1="184.00" y1="224.76" x2="186.00" y2="224.76" stroke="#111" stroke-width="0.6"/>
<line x1="184.00" y1="238.70" x2="186.00" y2="238.70" stroke="#111" stroke-width="0.6"/>
<line x1="184.00" y1="241.20" x2="186.00" y2="241.20" stroke="#111" stroke-width="0.6"/>
<line x1="184.00" y1="248.20" x2="186.00" y2="248.20" stroke="#111" stroke-width="0.6"/>
<line x1="184.00" y1="249.70" x2="186.00" y2="249.70" stroke="#111" stroke-width="0.6"/>
<line x1="183.00" y1="245.20" x2="186.00" y2="245.20" stroke="#111" stroke-width="0.9"/>
<g transform="translate(180.20 246.80) scale(0.9 1)"><text x="0" y="0" font-size="4.5" text-anchor="end" fill="#444">0</text></g>
<line x1="188.90" y1="253.20" x2="188.90" y2="256.20" stroke="#111" stroke-width="0.9"/>
<g transform="translate(188.90 263.10) scale(0.9 1)"><text x="0" y="0" font-size="4.5" text-anchor="middle" fill="#444">-10<tspan dy="-1.6" font-size="2.8">2</tspan></text></g>
<line x1="202.80" y1="253.20" x2="202.80" y2="256.20" stroke="#111" stroke-width="0.9"/>
<g transform="translate(202.80 263.10) scale(0.9 1)"><text x="0" y="0" font-size="4.5" text-anchor="middle" fill="#444">10<tspan dy="-1.6" font-size="2.8">2</tspan></text></g>
<line x1="215.80" y1="253.20" x2="215.80" y2="256.20" stroke="#111" stroke-width="0.9"/>
<g transform="translate(215.80 263.10) scale(0.9 1)"><text x="0" y="0" font-size="4.5" text-anchor="middle" fill="#444">10<tspan dy="-1.6" font-size="2.8">3</tspan></text></g>
<line x1="225.40" y1="253.20" x2="225.40" y2="256.20" stroke="#111" stroke-width="0.9"/>
<g transform="translate(225.40 263.10) scale(0.9 1)"><text x="0" y="0" font-size="4.5" text-anchor="middle" fill="#444">10<tspan dy="-1.6" font-size="2.8">4</tspan></text></g>
<line x1="208.81" y1="253.20" x2="208.81" y2="255.20" stroke="#111" stroke-width="0.6"/>
<line x1="210.57" y1="253.20" x2="210.57" y2="255.20" stroke="#111" stroke-width="0.6"/>
<line x1="211.82" y1="253.20" x2="211.82" y2="255.20" stroke="#111" stroke-width="0.6"/>
<line x1="212.79" y1="253.20" x2="212.79" y2="255.20" stroke="#111" stroke-width="0.6"/>
<line x1="213.58" y1="253.20" x2="213.58" y2="255.20" stroke="#111" stroke-width="0.6"/>
<line x1="214.25" y1="253.20" x2="214.25" y2="255.20" stroke="#111" stroke-width="0.6"/>
<line x1="214.83" y1="253.20" x2="214.83" y2="255.20" stroke="#111" stroke-width="0.6"/>
<line x1="215.34" y1="253.20" x2="215.34" y2="255.20" stroke="#111" stroke-width="0.6"/>
<line x1="218.41" y1="253.20" x2="218.41" y2="255.20" stroke="#111" stroke-width="0.6"/>
<line x1="220.17" y1="253.20" x2="220.17" y2="255.20" stroke="#111" stroke-width="0.6"/>
<line x1="221.42" y1="253.20" x2="221.42" y2="255.20" stroke="#111" stroke-width="0.6"/>
<line x1="222.39" y1="253.20" x2="222.39" y2="255.20" stroke="#111" stroke-width="0.6"/>
<line x1="223.18" y1="253.20" x2="223.18" y2="255.20" stroke="#111" stroke-width="0.6"/>
<line x1="223.85" y1="253.20" x2="223.85" y2="255.20" stroke="#111" stroke-width="0.6"/>
<line x1="224.43" y1="253.20" x2="224.43" y2="255.20" stroke="#111" stroke-width="0.6"/>
<line x1="224.94" y1="253.20" x2="224.94" y2="255.20" stroke="#111" stroke-width="0.6"/>
<line x1="191.50" y1="253.20" x2="191.50" y2="255.20" stroke="#111" stroke-width="0.6"/>
<line x1="193.00" y1="253.20" x2="193.00" y2="255.20" stroke="#111" stroke-width="0.6"/>
<line x1="199.00" y1="253.20" x2="199.00" y2="255.20" stroke="#111" stroke-width="0.6"/>
<line x1="200.50" y1="253.20" x2="200.50" y2="255.20" stroke="#111" stroke-width="0.6"/>
<line x1="205.50" y1="253.20" x2="205.50" y2="255.20" stroke="#111" stroke-width="0.6"/>
<line x1="196.20" y1="253.20" x2="196.20" y2="256.20" stroke="#111" stroke-width="0.9"/>
<g transform="translate(196.20 263.10) scale(0.9 1)"><text x="0" y="0" font-size="4.5" text-anchor="middle" fill="#444">0</text></g>
<clipPath id="clip252_210"><rect x="252.60" y="210.70" width="43.00" height="42.90"/></clipPath>
<clipPath id="env252_210"><path d="M276.8 212.8C278.3 212.2 280.9 211.0 282.1 211.3C283.3 211.6 283.6 213.4 284.1 214.7C284.6 216.0 285.2 217.6 285.0 219.0C284.8 220.4 283.8 221.8 283.1 223.3C282.4 224.8 281.8 226.1 280.7 228.2C279.6 230.3 278.1 233.9 276.8 235.8C275.5 237.7 274.6 238.5 273.0 239.7C271.4 240.9 268.7 242.4 267.2 243.1C265.7 243.8 264.6 244.6 263.9 244.0C263.2 243.4 262.9 241.9 262.9 239.7C262.9 237.5 263.5 234.1 263.9 231.0C264.3 227.9 264.4 223.8 265.3 221.4C266.2 219.0 267.9 217.7 269.2 216.6C270.5 215.5 271.7 215.3 273.0 214.7C274.3 214.1 275.3 213.4 276.8 212.8Z"/></clipPath>
<g clip-path="url(#clip252_210)"><path d="M276.8 212.8C278.3 212.2 280.9 211.0 282.1 211.3C283.3 211.6 283.6 213.4 284.1 214.7C284.6 216.0 285.2 217.6 285.0 219.0C284.8 220.4 283.8 221.8 283.1 223.3C282.4 224.8 281.8 226.1 280.7 228.2C279.6 230.3 278.1 233.9 276.8 235.8C275.5 237.7 274.6 238.5 273.0 239.7C271.4 240.9 268.7 242.4 267.2 243.1C265.7 243.8 264.6 244.6 263.9 244.0C263.2 243.4 262.9 241.9 262.9 239.7C262.9 237.5 263.5 234.1 263.9 231.0C264.3 227.9 264.4 223.8 265.3 221.4C266.2 219.0 267.9 217.7 269.2 216.6C270.5 215.5 271.7 215.3 273.0 214.7C274.3 214.1 275.3 213.4 276.8 212.8Z" fill="#0a22ff"/>
<g clip-path="url(#env252_210)">
<path d="M282.6 211.4 280.9 210.7 279.3 210.7 276.3 212.0 273.3 214.7 271.6 215.7 268.3 219.0 267.3 220.7 265.9 224.4 265.6 228.0 263.6 232.0 262.9 235.4 261.3 239.7 261.6 243.0 263.3 245.0 264.9 245.7 266.9 245.7 268.9 244.7 270.3 243.0 271.3 240.7 273.6 239.0 275.9 236.7 277.9 232.7 281.6 228.0 283.6 224.0 284.6 220.7 284.6 219.0 284.9 218.7 284.6 214.7 283.6 212.4Z" fill="#0a70ff" fill-rule="evenodd"/>
<path d="M281.6 213.7 280.3 213.0 277.9 213.4 275.9 214.7 274.3 216.4 270.9 217.7 268.6 220.0 267.3 222.7 266.9 227.4 264.6 232.0 264.3 234.4 263.9 234.7 263.9 236.7 262.6 239.0 262.6 240.0 262.3 240.4 262.6 242.4 263.9 244.0 264.6 244.4 267.3 244.4 268.3 243.7 269.3 242.4 269.9 240.4 274.3 236.7 274.9 235.4 274.9 234.4 274.3 233.7 272.3 233.7 268.6 235.4 268.3 234.7 269.6 232.7 271.9 230.7 275.3 230.7 276.6 230.0 279.9 227.0 282.3 223.0 282.9 221.0 282.9 219.4 283.3 219.0 282.9 215.7Z" fill="#00b8ff" fill-rule="evenodd"/>
<path d="M273.3 235.7 272.9 235.4 271.3 235.4 268.3 237.4 264.6 238.0 263.3 239.7 263.3 242.0 263.6 242.7 264.9 243.7 266.6 243.7 268.3 242.4 269.3 239.7 271.6 238.0 273.3 236.4ZM280.6 214.7 278.9 214.4 277.3 215.0 273.9 218.4 270.9 218.7 268.9 220.7 267.9 222.7 267.9 227.0 265.3 232.0 265.3 233.4 264.9 233.7 265.6 235.0 266.6 234.7 268.9 232.4 270.9 228.7 272.3 227.0 273.6 227.0 274.6 227.7 276.3 227.7 278.3 226.7 279.9 225.0 281.6 222.0 282.3 219.7 282.3 217.4 281.6 215.7Z" fill="#00e8d8" fill-rule="evenodd"/>
<path d="M268.3 238.7 265.3 238.7 264.6 239.0 263.9 240.0 263.9 241.7 264.3 242.4 265.3 243.0 266.6 243.0 267.9 241.7ZM271.9 219.7 270.3 220.0 268.6 222.4 268.6 224.4 269.6 226.0 266.6 230.4 265.9 232.4 266.3 233.4 266.9 233.4 268.3 232.0 269.9 228.7 269.9 225.7 272.6 221.7 272.6 220.4ZM279.6 215.4 278.6 215.4 277.3 216.0 275.6 217.7 273.9 221.0 273.9 223.7 274.3 224.7 275.9 226.0 276.9 226.0 278.3 225.4 279.9 223.7 280.9 222.0 281.6 219.7 281.6 218.0 281.3 217.7 281.3 216.7Z" fill="#18e030" fill-rule="evenodd"/>
<path d="M265.3 239.7 264.6 240.7 264.6 241.4 265.3 242.0 266.6 242.0 267.3 241.0 267.3 240.0 266.9 239.7ZM270.9 221.0 269.6 222.0 269.6 223.0 270.3 223.0 270.9 222.4ZM279.6 216.4 277.6 216.7 276.3 218.0 275.3 220.0 275.3 221.0 274.9 221.4 275.3 223.7 276.6 224.7 278.6 224.0 280.3 222.0 280.9 220.0 280.9 218.0 280.3 216.7Z" fill="#a8f018" fill-rule="evenodd"/>
<path d="M279.3 217.0 277.6 217.4 275.9 219.7 275.6 222.0 276.6 223.7 277.9 223.7 278.9 223.0 280.3 220.7 280.3 218.0 279.9 217.4Z" fill="#ffe600" fill-rule="evenodd"/>
<path d="M278.9 217.7 277.9 218.0 276.6 219.7 276.3 221.7 276.9 222.7 278.3 222.7 279.6 221.0 279.9 219.0Z" fill="#ff8a00" fill-rule="evenodd"/>
<path d="M278.9 218.7 277.9 218.7 276.9 220.0 277.3 222.0 278.6 221.7 279.3 220.4 279.3 219.0Z" fill="#ff1400" fill-rule="evenodd"/>
</g></g>
<polyline points="276.10,210.70 276.10,225.50 289.30,225.50 289.30,210.70" fill="none" stroke="#666" stroke-width="0.7"/>
<text x="280.20" y="237.00" font-size="6.38" text-anchor="start" textLength="11.09" lengthAdjust="spacingAndGlyphs" fill="#333" >46.1</text>
<rect x="252.60" y="210.70" width="43.00" height="42.90" fill="none" stroke="#111" stroke-width="1"/>
<line x1="249.60" y1="214.50" x2="252.60" y2="214.50" stroke="#111" stroke-width="0.9"/>
<g transform="translate(246.80 216.10) scale(0.9 1)"><text x="0" y="0" font-size="4.5" text-anchor="end" fill="#444">10<tspan dy="-1.6" font-size="2.8">4</tspan></text></g>
<line x1="249.60" y1="224.30" x2="252.60" y2="224.30" stroke="#111" stroke-width="0.9"/>
<g transform="translate(246.80 225.90) scale(0.9 1)"><text x="0" y="0" font-size="4.5" text-anchor="end" fill="#444">10<tspan dy="-1.6" font-size="2.8">3</tspan></text></g>
<line x1="249.60" y1="236.30" x2="252.60" y2="236.30" stroke="#111" stroke-width="0.9"/>
<g transform="translate(246.80 237.90) scale(0.9 1)"><text x="0" y="0" font-size="4.5" text-anchor="end" fill="#444">10<tspan dy="-1.6" font-size="2.8">2</tspan></text></g>
<line x1="249.60" y1="251.80" x2="252.60" y2="251.80" stroke="#111" stroke-width="0.9"/>
<g transform="translate(246.80 253.40) scale(0.9 1)"><text x="0" y="0" font-size="4.5" text-anchor="end" fill="#444">-10<tspan dy="-1.6" font-size="2.8">2</tspan></text></g>
<line x1="250.60" y1="221.49" x2="252.60" y2="221.49" stroke="#111" stroke-width="0.6"/>
<line x1="250.60" y1="219.73" x2="252.60" y2="219.73" stroke="#111" stroke-width="0.6"/>
<line x1="250.60" y1="218.48" x2="252.60" y2="218.48" stroke="#111" stroke-width="0.6"/>
<line x1="250.60" y1="217.51" x2="252.60" y2="217.51" stroke="#111" stroke-width="0.6"/>
<line x1="250.60" y1="216.72" x2="252.60" y2="216.72" stroke="#111" stroke-width="0.6"/>
<line x1="250.60" y1="216.05" x2="252.60" y2="216.05" stroke="#111" stroke-width="0.6"/>
<line x1="250.60" y1="215.47" x2="252.60" y2="215.47" stroke="#111" stroke-width="0.6"/>
<line x1="250.60" y1="214.96" x2="252.60" y2="214.96" stroke="#111" stroke-width="0.6"/>
<line x1="250.60" y1="231.29" x2="252.60" y2="231.29" stroke="#111" stroke-width="0.6"/>
<line x1="250.60" y1="229.53" x2="252.60" y2="229.53" stroke="#111" stroke-width="0.6"/>
<line x1="250.60" y1="228.28" x2="252.60" y2="228.28" stroke="#111" stroke-width="0.6"/>
<line x1="250.60" y1="227.31" x2="252.60" y2="227.31" stroke="#111" stroke-width="0.6"/>
<line x1="250.60" y1="226.52" x2="252.60" y2="226.52" stroke="#111" stroke-width="0.6"/>
<line x1="250.60" y1="225.85" x2="252.60" y2="225.85" stroke="#111" stroke-width="0.6"/>
<line x1="250.60" y1="225.27" x2="252.60" y2="225.27" stroke="#111" stroke-width="0.6"/>
<line x1="250.60" y1="224.76" x2="252.60" y2="224.76" stroke="#111" stroke-width="0.6"/>
<line x1="250.60" y1="238.70" x2="252.60" y2="238.70" stroke="#111" stroke-width="0.6"/>
<line x1="250.60" y1="241.20" x2="252.60" y2="241.20" stroke="#111" stroke-width="0.6"/>
<line x1="250.60" y1="248.20" x2="252.60" y2="248.20" stroke="#111" stroke-width="0.6"/>
<line x1="250.60" y1="249.70" x2="252.60" y2="249.70" stroke="#111" stroke-width="0.6"/>
<line x1="249.60" y1="245.20" x2="252.60" y2="245.20" stroke="#111" stroke-width="0.9"/>
<g transform="translate(246.80 246.80) scale(0.9 1)"><text x="0" y="0" font-size="4.5" text-anchor="end" fill="#444">0</text></g>
<line x1="255.50" y1="253.60" x2="255.50" y2="256.60" stroke="#111" stroke-width="0.9"/>
<g transform="translate(255.50 263.50) scale(0.9 1)"><text x="0" y="0" font-size="4.5" text-anchor="middle" fill="#444">-10<tspan dy="-1.6" font-size="2.8">2</tspan></text></g>
<line x1="269.40" y1="253.60" x2="269.40" y2="256.60" stroke="#111" stroke-width="0.9"/>
<g transform="translate(269.40 263.50) scale(0.9 1)"><text x="0" y="0" font-size="4.5" text-anchor="middle" fill="#444">10<tspan dy="-1.6" font-size="2.8">2</tspan></text></g>
<line x1="282.40" y1="253.60" x2="282.40" y2="256.60" stroke="#111" stroke-width="0.9"/>
<g transform="translate(282.40 263.50) scale(0.9 1)"><text x="0" y="0" font-size="4.5" text-anchor="middle" fill="#444">10<tspan dy="-1.6" font-size="2.8">3</tspan></text></g>
<line x1="292.00" y1="253.60" x2="292.00" y2="256.60" stroke="#111" stroke-width="0.9"/>
<g transform="translate(292.00 263.50) scale(0.9 1)"><text x="0" y="0" font-size="4.5" text-anchor="middle" fill="#444">10<tspan dy="-1.6" font-size="2.8">4</tspan></text></g>
<line x1="275.41" y1="253.60" x2="275.41" y2="255.60" stroke="#111" stroke-width="0.6"/>
<line x1="277.17" y1="253.60" x2="277.17" y2="255.60" stroke="#111" stroke-width="0.6"/>
<line x1="278.42" y1="253.60" x2="278.42" y2="255.60" stroke="#111" stroke-width="0.6"/>
<line x1="279.39" y1="253.60" x2="279.39" y2="255.60" stroke="#111" stroke-width="0.6"/>
<line x1="280.18" y1="253.60" x2="280.18" y2="255.60" stroke="#111" stroke-width="0.6"/>
<line x1="280.85" y1="253.60" x2="280.85" y2="255.60" stroke="#111" stroke-width="0.6"/>
<line x1="281.43" y1="253.60" x2="281.43" y2="255.60" stroke="#111" stroke-width="0.6"/>
<line x1="281.94" y1="253.60" x2="281.94" y2="255.60" stroke="#111" stroke-width="0.6"/>
<line x1="285.01" y1="253.60" x2="285.01" y2="255.60" stroke="#111" stroke-width="0.6"/>
<line x1="286.77" y1="253.60" x2="286.77" y2="255.60" stroke="#111" stroke-width="0.6"/>
<line x1="288.02" y1="253.60" x2="288.02" y2="255.60" stroke="#111" stroke-width="0.6"/>
<line x1="288.99" y1="253.60" x2="288.99" y2="255.60" stroke="#111" stroke-width="0.6"/>
<line x1="289.78" y1="253.60" x2="289.78" y2="255.60" stroke="#111" stroke-width="0.6"/>
<line x1="290.45" y1="253.60" x2="290.45" y2="255.60" stroke="#111" stroke-width="0.6"/>
<line x1="291.03" y1="253.60" x2="291.03" y2="255.60" stroke="#111" stroke-width="0.6"/>
<line x1="291.54" y1="253.60" x2="291.54" y2="255.60" stroke="#111" stroke-width="0.6"/>
<line x1="258.10" y1="253.60" x2="258.10" y2="255.60" stroke="#111" stroke-width="0.6"/>
<line x1="259.60" y1="253.60" x2="259.60" y2="255.60" stroke="#111" stroke-width="0.6"/>
<line x1="265.60" y1="253.60" x2="265.60" y2="255.60" stroke="#111" stroke-width="0.6"/>
<line x1="267.10" y1="253.60" x2="267.10" y2="255.60" stroke="#111" stroke-width="0.6"/>
<line x1="272.10" y1="253.60" x2="272.10" y2="255.60" stroke="#111" stroke-width="0.6"/>
<line x1="262.80" y1="253.60" x2="262.80" y2="256.60" stroke="#111" stroke-width="0.9"/>
<g transform="translate(262.80 263.50) scale(0.9 1)"><text x="0" y="0" font-size="4.5" text-anchor="middle" fill="#444">0</text></g>
<clipPath id="clip49_274"><rect x="49.70" y="274.70" width="42.90" height="42.90"/></clipPath>
<clipPath id="env49_274"><path d="M65.2 276.8C66.6 275.5 68.4 275.9 70.0 275.5C71.6 275.1 73.2 274.8 74.8 274.7C76.4 274.6 78.9 273.4 79.7 274.7C80.5 276.0 80.2 279.6 79.7 282.5C79.2 285.4 77.9 289.5 76.8 292.2C75.7 294.9 74.4 297.0 72.9 298.9C71.5 300.8 69.6 302.6 68.1 303.7C66.6 304.8 65.1 306.2 63.8 305.6C62.5 305.0 61.2 302.0 60.4 299.8C59.6 297.6 58.8 294.9 59.0 292.2C59.2 289.5 60.4 286.1 61.4 283.5C62.4 280.9 63.8 278.1 65.2 276.8Z"/></clipPath>
<g clip-path="url(#clip49_274)"><path d="M65.2 276.8C66.6 275.5 68.4 275.9 70.0 275.5C71.6 275.1 73.2 274.8 74.8 274.7C76.4 274.6 78.9 273.4 79.7 274.7C80.5 276.0 80.2 279.6 79.7 282.5C79.2 285.4 77.9 289.5 76.8 292.2C75.7 294.9 74.4 297.0 72.9 298.9C71.5 300.8 69.6 302.6 68.1 303.7C66.6 304.8 65.1 306.2 63.8 305.6C62.5 305.0 61.2 302.0 60.4 299.8C59.6 297.6 58.8 294.9 59.0 292.2C59.2 289.5 60.4 286.1 61.4 283.5C62.4 280.9 63.8 278.1 65.2 276.8Z" fill="#0a22ff"/>
<g clip-path="url(#env49_274)">
<path d="M78.7 274.7 76.0 274.7 73.4 276.0 68.7 275.7 67.0 276.7 65.7 278.0 63.7 281.0 62.0 285.0 62.0 286.0 61.0 289.0 61.0 291.0 60.7 291.4 60.7 296.7 61.0 297.0 61.0 298.7 62.4 301.7 63.7 303.0 64.4 303.4 66.4 303.4 68.0 302.4 69.7 300.7 72.7 295.4 73.4 293.0 75.0 289.7 78.4 285.4 80.0 281.0 80.0 276.4Z" fill="#0a70ff" fill-rule="evenodd"/>
<path d="M78.0 276.7 76.0 276.7 72.7 278.7 68.7 278.4 67.4 279.0 65.0 281.7 62.7 287.4 62.4 290.7 62.0 291.0 62.0 295.4 62.4 295.7 62.4 297.0 63.4 299.4 64.4 300.4 66.4 300.7 67.7 300.0 69.7 298.0 70.7 296.4 73.4 289.7 76.7 285.7 78.4 282.7 79.0 279.0Z" fill="#00b8ff" fill-rule="evenodd"/>
<path d="M77.4 278.7 76.7 278.4 75.4 278.7 74.0 280.0 72.0 281.0 70.4 280.4 68.4 280.4 67.7 280.7 65.4 283.4 64.0 286.4 64.0 287.4 63.4 289.0 63.4 291.0 63.0 291.4 63.4 295.7 63.7 296.7 65.0 298.4 67.0 298.4 69.4 296.4 71.4 292.4 71.7 290.7 73.0 287.7 76.4 284.4 77.7 281.4 77.7 279.4Z" fill="#00e8d8" fill-rule="evenodd"/>
<path d="M69.4 281.7 67.0 282.7 65.0 286.0 64.4 288.4 64.0 293.7 64.7 295.7 65.7 296.7 67.7 296.4 69.7 294.0 72.7 285.4 72.7 284.0ZM76.0 281.0 75.4 281.0 74.4 282.0 74.0 283.7 75.7 282.7Z" fill="#18e030" fill-rule="evenodd"/>
<path d="M69.4 283.4 68.0 283.4 66.7 284.7 65.0 289.0 65.0 293.0 65.7 294.4 66.7 295.0 67.7 294.7 68.7 293.7 69.7 292.0 70.7 289.0 70.7 285.0 70.0 283.7Z" fill="#a8f018" fill-rule="evenodd"/>
<path d="M69.0 284.4 68.0 284.4 67.0 285.4 66.0 287.4 66.0 288.4 65.7 288.7 65.7 292.0 66.4 293.4 67.7 293.4 69.0 292.0 70.0 289.4 70.0 285.7Z" fill="#ffe600" fill-rule="evenodd"/>
<path d="M68.7 285.4 67.4 286.0 66.4 288.4 66.4 291.0 67.0 292.0 67.7 292.0 69.4 289.7 69.4 288.0 69.7 287.4 69.4 287.0 69.4 286.0Z" fill="#ff8a00" fill-rule="evenodd"/>
<path d="M68.4 286.4 67.7 286.7 67.0 288.0 67.0 290.7 67.4 291.0 68.7 290.0 69.0 289.0 69.0 287.0Z" fill="#ff1400" fill-rule="evenodd"/>
</g></g>
<polyline points="72.40,274.70 72.40,304.70 84.00,304.70" fill="none" stroke="#666" stroke-width="0.7"/>
<line x1="84.90" y1="274.70" x2="84.90" y2="301.30" stroke="#666" stroke-width="0.7"/>
<text x="84.60" y="306.80" font-size="6.38" text-anchor="start" textLength="6.34" lengthAdjust="spacingAndGlyphs" fill="#333" >17</text>
<rect x="49.70" y="274.70" width="42.90" height="42.90" fill="none" stroke="#111" stroke-width="1"/>
<line x1="46.70" y1="278.60" x2="49.70" y2="278.60" stroke="#111" stroke-width="0.9"/>
<g transform="translate(44.20 280.20) scale(0.9 1)"><text x="0" y="0" font-size="4.5" text-anchor="end" fill="#444">10<tspan dy="-1.6" font-size="2.8">5</tspan></text></g>
<line x1="47.70" y1="285.59" x2="49.70" y2="285.59" stroke="#111" stroke-width="0.6"/>
<line x1="47.70" y1="283.83" x2="49.70" y2="283.83" stroke="#111" stroke-width="0.6"/>
<line x1="47.70" y1="282.58" x2="49.70" y2="282.58" stroke="#111" stroke-width="0.6"/>
<line x1="47.70" y1="281.61" x2="49.70" y2="281.61" stroke="#111" stroke-width="0.6"/>
<line x1="47.70" y1="280.82" x2="49.70" y2="280.82" stroke="#111" stroke-width="0.6"/>
<line x1="47.70" y1="280.15" x2="49.70" y2="280.15" stroke="#111" stroke-width="0.6"/>
<line x1="47.70" y1="279.57" x2="49.70" y2="279.57" stroke="#111" stroke-width="0.6"/>
<line x1="47.70" y1="279.06" x2="49.70" y2="279.06" stroke="#111" stroke-width="0.6"/>
<line x1="46.70" y1="288.40" x2="49.70" y2="288.40" stroke="#111" stroke-width="0.9"/>
<g transform="translate(44.20 290.00) scale(0.9 1)"><text x="0" y="0" font-size="4.5" text-anchor="end" fill="#444">10<tspan dy="-1.6" font-size="2.8">4</tspan></text></g>
<line x1="47.70" y1="295.39" x2="49.70" y2="295.39" stroke="#111" stroke-width="0.6"/>
<line x1="47.70" y1="293.63" x2="49.70" y2="293.63" stroke="#111" stroke-width="0.6"/>
<line x1="47.70" y1="292.38" x2="49.70" y2="292.38" stroke="#111" stroke-width="0.6"/>
<line x1="47.70" y1="291.41" x2="49.70" y2="291.41" stroke="#111" stroke-width="0.6"/>
<line x1="47.70" y1="290.62" x2="49.70" y2="290.62" stroke="#111" stroke-width="0.6"/>
<line x1="47.70" y1="289.95" x2="49.70" y2="289.95" stroke="#111" stroke-width="0.6"/>
<line x1="47.70" y1="289.37" x2="49.70" y2="289.37" stroke="#111" stroke-width="0.6"/>
<line x1="47.70" y1="288.86" x2="49.70" y2="288.86" stroke="#111" stroke-width="0.6"/>
<line x1="46.70" y1="298.40" x2="49.70" y2="298.40" stroke="#111" stroke-width="0.9"/>
<g transform="translate(44.20 300.00) scale(0.9 1)"><text x="0" y="0" font-size="4.5" text-anchor="end" fill="#444">10<tspan dy="-1.6" font-size="2.8">3</tspan></text></g>
<line x1="47.70" y1="305.39" x2="49.70" y2="305.39" stroke="#111" stroke-width="0.6"/>
<line x1="47.70" y1="303.63" x2="49.70" y2="303.63" stroke="#111" stroke-width="0.6"/>
<line x1="47.70" y1="302.38" x2="49.70" y2="302.38" stroke="#111" stroke-width="0.6"/>
<line x1="47.70" y1="301.41" x2="49.70" y2="301.41" stroke="#111" stroke-width="0.6"/>
<line x1="47.70" y1="300.62" x2="49.70" y2="300.62" stroke="#111" stroke-width="0.6"/>
<line x1="47.70" y1="299.95" x2="49.70" y2="299.95" stroke="#111" stroke-width="0.6"/>
<line x1="47.70" y1="299.37" x2="49.70" y2="299.37" stroke="#111" stroke-width="0.6"/>
<line x1="47.70" y1="298.86" x2="49.70" y2="298.86" stroke="#111" stroke-width="0.6"/>
<line x1="46.70" y1="308.60" x2="49.70" y2="308.60" stroke="#111" stroke-width="0.9"/>
<g transform="translate(44.20 310.20) scale(0.9 1)"><text x="0" y="0" font-size="4.5" text-anchor="end" fill="#444">10<tspan dy="-1.6" font-size="2.8">2</tspan></text></g>
<line x1="47.70" y1="315.59" x2="49.70" y2="315.59" stroke="#111" stroke-width="0.6"/>
<line x1="47.70" y1="313.83" x2="49.70" y2="313.83" stroke="#111" stroke-width="0.6"/>
<line x1="47.70" y1="312.58" x2="49.70" y2="312.58" stroke="#111" stroke-width="0.6"/>
<line x1="47.70" y1="311.61" x2="49.70" y2="311.61" stroke="#111" stroke-width="0.6"/>
<line x1="47.70" y1="310.82" x2="49.70" y2="310.82" stroke="#111" stroke-width="0.6"/>
<line x1="47.70" y1="310.15" x2="49.70" y2="310.15" stroke="#111" stroke-width="0.6"/>
<line x1="47.70" y1="309.57" x2="49.70" y2="309.57" stroke="#111" stroke-width="0.6"/>
<line x1="47.70" y1="309.06" x2="49.70" y2="309.06" stroke="#111" stroke-width="0.6"/>
<line x1="46.70" y1="313.20" x2="49.70" y2="313.20" stroke="#111" stroke-width="0.9"/>
<line x1="47.70" y1="310.90" x2="49.70" y2="310.90" stroke="#111" stroke-width="0.6"/>
<line x1="47.70" y1="315.20" x2="49.70" y2="315.20" stroke="#111" stroke-width="0.6"/>
<line x1="47.70" y1="316.70" x2="49.70" y2="316.70" stroke="#111" stroke-width="0.6"/>
<g transform="translate(44.20 314.80) scale(0.9 1)"><text x="0" y="0" font-size="4.5" text-anchor="end" fill="#444">0</text></g>
<line x1="68.50" y1="317.60" x2="68.50" y2="320.60" stroke="#111" stroke-width="0.9"/>
<g transform="translate(68.80 327.20) scale(0.9 1)"><text x="0" y="0" font-size="4.5" text-anchor="middle" fill="#444">10<tspan dy="-1.6" font-size="2.8">3</tspan></text></g>
<line x1="61.51" y1="317.60" x2="61.51" y2="319.60" stroke="#111" stroke-width="0.6"/>
<line x1="63.27" y1="317.60" x2="63.27" y2="319.60" stroke="#111" stroke-width="0.6"/>
<line x1="64.52" y1="317.60" x2="64.52" y2="319.60" stroke="#111" stroke-width="0.6"/>
<line x1="65.49" y1="317.60" x2="65.49" y2="319.60" stroke="#111" stroke-width="0.6"/>
<line x1="66.28" y1="317.60" x2="66.28" y2="319.60" stroke="#111" stroke-width="0.6"/>
<line x1="66.95" y1="317.60" x2="66.95" y2="319.60" stroke="#111" stroke-width="0.6"/>
<line x1="67.53" y1="317.60" x2="67.53" y2="319.60" stroke="#111" stroke-width="0.6"/>
<line x1="68.04" y1="317.60" x2="68.04" y2="319.60" stroke="#111" stroke-width="0.6"/>
<line x1="78.80" y1="317.60" x2="78.80" y2="320.60" stroke="#111" stroke-width="0.9"/>
<g transform="translate(79.10 327.20) scale(0.9 1)"><text x="0" y="0" font-size="4.5" text-anchor="middle" fill="#444">10<tspan dy="-1.6" font-size="2.8">4</tspan></text></g>
<line x1="71.81" y1="317.60" x2="71.81" y2="319.60" stroke="#111" stroke-width="0.6"/>
<line x1="73.57" y1="317.60" x2="73.57" y2="319.60" stroke="#111" stroke-width="0.6"/>
<line x1="74.82" y1="317.60" x2="74.82" y2="319.60" stroke="#111" stroke-width="0.6"/>
<line x1="75.79" y1="317.60" x2="75.79" y2="319.60" stroke="#111" stroke-width="0.6"/>
<line x1="76.58" y1="317.60" x2="76.58" y2="319.60" stroke="#111" stroke-width="0.6"/>
<line x1="77.25" y1="317.60" x2="77.25" y2="319.60" stroke="#111" stroke-width="0.6"/>
<line x1="77.83" y1="317.60" x2="77.83" y2="319.60" stroke="#111" stroke-width="0.6"/>
<line x1="78.34" y1="317.60" x2="78.34" y2="319.60" stroke="#111" stroke-width="0.6"/>
<line x1="88.70" y1="317.60" x2="88.70" y2="320.60" stroke="#111" stroke-width="0.9"/>
<g transform="translate(89.00 327.20) scale(0.9 1)"><text x="0" y="0" font-size="4.5" text-anchor="middle" fill="#444">10<tspan dy="-1.6" font-size="2.8">5</tspan></text></g>
<line x1="81.71" y1="317.60" x2="81.71" y2="319.60" stroke="#111" stroke-width="0.6"/>
<line x1="83.47" y1="317.60" x2="83.47" y2="319.60" stroke="#111" stroke-width="0.6"/>
<line x1="84.72" y1="317.60" x2="84.72" y2="319.60" stroke="#111" stroke-width="0.6"/>
<line x1="85.69" y1="317.60" x2="85.69" y2="319.60" stroke="#111" stroke-width="0.6"/>
<line x1="86.48" y1="317.60" x2="86.48" y2="319.60" stroke="#111" stroke-width="0.6"/>
<line x1="87.15" y1="317.60" x2="87.15" y2="319.60" stroke="#111" stroke-width="0.6"/>
<line x1="87.73" y1="317.60" x2="87.73" y2="319.60" stroke="#111" stroke-width="0.6"/>
<line x1="88.24" y1="317.60" x2="88.24" y2="319.60" stroke="#111" stroke-width="0.6"/>
<line x1="54.20" y1="317.60" x2="54.20" y2="320.60" stroke="#111" stroke-width="0.9"/>
<line x1="51.70" y1="317.60" x2="51.70" y2="319.60" stroke="#111" stroke-width="0.6"/>
<line x1="56.20" y1="317.60" x2="56.20" y2="319.60" stroke="#111" stroke-width="0.6"/>
<g transform="translate(57.70 327.20) scale(0.9 1)"><text x="0" y="0" font-size="4.5" text-anchor="middle" fill="#444">0 10<tspan dy="-1.6" font-size="2.8">2</tspan></text></g>
<clipPath id="clip114_274"><rect x="114.00" y="274.80" width="43.30" height="42.80"/></clipPath>
<clipPath id="env114_274"><path d="M130.2 277.7C131.8 276.8 134.7 277.7 136.0 277.3C137.3 276.9 136.7 275.7 137.9 275.3C139.1 274.9 142.1 274.1 143.2 274.8C144.3 275.5 144.7 277.4 144.6 279.7C144.5 281.9 143.7 285.6 142.7 288.3C141.7 291.0 140.2 293.8 138.8 296.0C137.4 298.2 135.5 300.2 134.0 301.8C132.5 303.4 131.0 305.5 129.7 305.6C128.3 305.8 126.8 304.1 125.9 302.7C125.0 301.3 124.7 299.1 124.4 297.0C124.1 294.9 123.6 292.6 123.9 290.2C124.2 287.8 125.2 284.6 126.3 282.5C127.3 280.4 128.6 278.6 130.2 277.7Z"/></clipPath>
<g clip-path="url(#clip114_274)"><path d="M130.2 277.7C131.8 276.8 134.7 277.7 136.0 277.3C137.3 276.9 136.7 275.7 137.9 275.3C139.1 274.9 142.1 274.1 143.2 274.8C144.3 275.5 144.7 277.4 144.6 279.7C144.5 281.9 143.7 285.6 142.7 288.3C141.7 291.0 140.2 293.8 138.8 296.0C137.4 298.2 135.5 300.2 134.0 301.8C132.5 303.4 131.0 305.5 129.7 305.6C128.3 305.8 126.8 304.1 125.9 302.7C125.0 301.3 124.7 299.1 124.4 297.0C124.1 294.9 123.6 292.6 123.9 290.2C124.2 287.8 125.2 284.6 126.3 282.5C127.3 280.4 128.6 278.6 130.2 277.7Z" fill="#0a22ff"/>
<g clip-path="url(#env114_274)">
<path d="M143.0 275.8 141.0 275.5 138.7 276.5 136.0 276.5 135.7 276.1 132.3 276.5 129.7 278.8 128.3 280.8 126.0 286.5 126.0 287.5 125.3 289.1 125.3 290.8 125.0 291.1 125.0 297.8 125.3 298.1 125.3 299.5 127.0 302.8 128.3 303.8 130.7 303.8 132.3 302.8 134.0 301.1 138.0 293.8 141.7 288.8 143.3 285.5 144.0 283.5 144.0 282.1 144.3 281.8 144.3 278.1 143.7 276.5Z" fill="#0a70ff" fill-rule="evenodd"/>
<path d="M142.3 278.1 140.3 277.8 137.7 279.1 133.0 278.8 131.7 279.5 129.3 282.1 127.7 285.5 127.0 287.5 126.7 290.5 126.3 290.8 126.3 296.5 127.3 299.5 128.7 300.8 130.7 301.1 132.0 300.5 133.7 298.8 137.0 292.8 140.7 288.1 142.0 285.8 143.0 282.5 143.0 279.5Z" fill="#00b8ff" fill-rule="evenodd"/>
<path d="M141.0 279.8 139.7 279.8 136.3 281.5 134.7 280.8 132.0 281.1 129.7 283.8 128.0 287.8 127.7 290.8 127.3 291.1 127.7 296.5 129.3 298.8 130.0 299.1 131.3 298.8 133.3 297.1 134.7 295.1 136.0 292.1 140.7 286.1 141.7 283.8 141.7 280.5Z" fill="#00e8d8" fill-rule="evenodd"/>
<path d="M140.3 282.1 139.7 281.8 136.7 283.5 134.3 282.5 132.3 282.5 131.3 283.1 130.3 284.5 129.3 286.5 128.3 289.8 128.3 294.5 129.0 296.1 130.0 297.1 131.3 297.1 133.3 295.5 136.7 288.8 139.7 285.5 140.3 284.1Z" fill="#18e030" fill-rule="evenodd"/>
<path d="M133.7 283.8 132.7 283.8 131.0 285.1 130.0 286.8 129.3 289.1 129.3 293.8 129.7 294.5 131.0 295.5 132.0 295.1 133.0 294.1 134.7 291.1 135.3 289.1 135.3 287.8 135.7 287.5 135.3 285.5Z" fill="#a8f018" fill-rule="evenodd"/>
<path d="M133.3 284.8 132.7 284.8 131.3 285.8 130.0 288.8 130.0 292.8 130.7 293.8 132.0 293.8 133.3 292.5 134.3 290.1 134.7 287.1 134.3 286.8 134.3 285.8Z" fill="#ffe600" fill-rule="evenodd"/>
<path d="M132.7 285.8 131.7 286.5 130.7 288.5 130.7 291.8 131.0 292.5 132.0 292.5 133.7 290.1 134.0 287.8 133.7 287.5 133.7 286.5Z" fill="#ff8a00" fill-rule="evenodd"/>
<path d="M132.7 286.8 131.7 287.5 131.0 289.5 131.0 290.5 131.7 291.5 133.0 290.5 133.3 289.5 133.3 287.8Z" fill="#ff1400" fill-rule="evenodd"/>
</g></g>
<polyline points="136.40,274.80 136.40,304.80 148.50,304.80" fill="none" stroke="#666" stroke-width="0.7"/>
<line x1="149.60" y1="274.80" x2="149.60" y2="301.60" stroke="#666" stroke-width="0.7"/>
<text x="149.10" y="306.90" font-size="6.38" text-anchor="start" textLength="6.34" lengthAdjust="spacingAndGlyphs" fill="#333" >24</text>
<rect x="114.00" y="274.80" width="43.30" height="42.80" fill="none" stroke="#111" stroke-width="1"/>
<line x1="111.00" y1="278.70" x2="114.00" y2="278.70" stroke="#111" stroke-width="0.9"/>
<g transform="translate(108.50 280.30) scale(0.9 1)"><text x="0" y="0" font-size="4.5" text-anchor="end" fill="#444">10<tspan dy="-1.6" font-size="2.8">5</tspan></text></g>
<line x1="112.00" y1="285.69" x2="114.00" y2="285.69" stroke="#111" stroke-width="0.6"/>
<line x1="112.00" y1="283.93" x2="114.00" y2="283.93" stroke="#111" stroke-width="0.6"/>
<line x1="112.00" y1="282.68" x2="114.00" y2="282.68" stroke="#111" stroke-width="0.6"/>
<line x1="112.00" y1="281.71" x2="114.00" y2="281.71" stroke="#111" stroke-width="0.6"/>
<line x1="112.00" y1="280.92" x2="114.00" y2="280.92" stroke="#111" stroke-width="0.6"/>
<line x1="112.00" y1="280.25" x2="114.00" y2="280.25" stroke="#111" stroke-width="0.6"/>
<line x1="112.00" y1="279.67" x2="114.00" y2="279.67" stroke="#111" stroke-width="0.6"/>
<line x1="112.00" y1="279.16" x2="114.00" y2="279.16" stroke="#111" stroke-width="0.6"/>
<line x1="111.00" y1="288.50" x2="114.00" y2="288.50" stroke="#111" stroke-width="0.9"/>
<g transform="translate(108.50 290.10) scale(0.9 1)"><text x="0" y="0" font-size="4.5" text-anchor="end" fill="#444">10<tspan dy="-1.6" font-size="2.8">4</tspan></text></g>
<line x1="112.00" y1="295.49" x2="114.00" y2="295.49" stroke="#111" stroke-width="0.6"/>
<line x1="112.00" y1="293.73" x2="114.00" y2="293.73" stroke="#111" stroke-width="0.6"/>
<line x1="112.00" y1="292.48" x2="114.00" y2="292.48" stroke="#111" stroke-width="0.6"/>
<line x1="112.00" y1="291.51" x2="114.00" y2="291.51" stroke="#111" stroke-width="0.6"/>
<line x1="112.00" y1="290.72" x2="114.00" y2="290.72" stroke="#111" stroke-width="0.6"/>
<line x1="112.00" y1="290.05" x2="114.00" y2="290.05" stroke="#111" stroke-width="0.6"/>
<line x1="112.00" y1="289.47" x2="114.00" y2="289.47" stroke="#111" stroke-width="0.6"/>
<line x1="112.00" y1="288.96" x2="114.00" y2="288.96" stroke="#111" stroke-width="0.6"/>
<line x1="111.00" y1="298.50" x2="114.00" y2="298.50" stroke="#111" stroke-width="0.9"/>
<g transform="translate(108.50 300.10) scale(0.9 1)"><text x="0" y="0" font-size="4.5" text-anchor="end" fill="#444">10<tspan dy="-1.6" font-size="2.8">3</tspan></text></g>
<line x1="112.00" y1="305.49" x2="114.00" y2="305.49" stroke="#111" stroke-width="0.6"/>
<line x1="112.00" y1="303.73" x2="114.00" y2="303.73" stroke="#111" stroke-width="0.6"/>
<line x1="112.00" y1="302.48" x2="114.00" y2="302.48" stroke="#111" stroke-width="0.6"/>
<line x1="112.00" y1="301.51" x2="114.00" y2="301.51" stroke="#111" stroke-width="0.6"/>
<line x1="112.00" y1="300.72" x2="114.00" y2="300.72" stroke="#111" stroke-width="0.6"/>
<line x1="112.00" y1="300.05" x2="114.00" y2="300.05" stroke="#111" stroke-width="0.6"/>
<line x1="112.00" y1="299.47" x2="114.00" y2="299.47" stroke="#111" stroke-width="0.6"/>
<line x1="112.00" y1="298.96" x2="114.00" y2="298.96" stroke="#111" stroke-width="0.6"/>
<line x1="111.00" y1="308.70" x2="114.00" y2="308.70" stroke="#111" stroke-width="0.9"/>
<g transform="translate(108.50 310.30) scale(0.9 1)"><text x="0" y="0" font-size="4.5" text-anchor="end" fill="#444">10<tspan dy="-1.6" font-size="2.8">2</tspan></text></g>
<line x1="112.00" y1="315.69" x2="114.00" y2="315.69" stroke="#111" stroke-width="0.6"/>
<line x1="112.00" y1="313.93" x2="114.00" y2="313.93" stroke="#111" stroke-width="0.6"/>
<line x1="112.00" y1="312.68" x2="114.00" y2="312.68" stroke="#111" stroke-width="0.6"/>
<line x1="112.00" y1="311.71" x2="114.00" y2="311.71" stroke="#111" stroke-width="0.6"/>
<line x1="112.00" y1="310.92" x2="114.00" y2="310.92" stroke="#111" stroke-width="0.6"/>
<line x1="112.00" y1="310.25" x2="114.00" y2="310.25" stroke="#111" stroke-width="0.6"/>
<line x1="112.00" y1="309.67" x2="114.00" y2="309.67" stroke="#111" stroke-width="0.6"/>
<line x1="112.00" y1="309.16" x2="114.00" y2="309.16" stroke="#111" stroke-width="0.6"/>
<line x1="111.00" y1="313.30" x2="114.00" y2="313.30" stroke="#111" stroke-width="0.9"/>
<line x1="112.00" y1="311.00" x2="114.00" y2="311.00" stroke="#111" stroke-width="0.6"/>
<line x1="112.00" y1="315.30" x2="114.00" y2="315.30" stroke="#111" stroke-width="0.6"/>
<line x1="112.00" y1="316.80" x2="114.00" y2="316.80" stroke="#111" stroke-width="0.6"/>
<g transform="translate(108.50 314.90) scale(0.9 1)"><text x="0" y="0" font-size="4.5" text-anchor="end" fill="#444">0</text></g>
<line x1="132.80" y1="317.60" x2="132.80" y2="320.60" stroke="#111" stroke-width="0.9"/>
<g transform="translate(133.10 327.20) scale(0.9 1)"><text x="0" y="0" font-size="4.5" text-anchor="middle" fill="#444">10<tspan dy="-1.6" font-size="2.8">3</tspan></text></g>
<line x1="125.81" y1="317.60" x2="125.81" y2="319.60" stroke="#111" stroke-width="0.6"/>
<line x1="127.57" y1="317.60" x2="127.57" y2="319.60" stroke="#111" stroke-width="0.6"/>
<line x1="128.82" y1="317.60" x2="128.82" y2="319.60" stroke="#111" stroke-width="0.6"/>
<line x1="129.79" y1="317.60" x2="129.79" y2="319.60" stroke="#111" stroke-width="0.6"/>
<line x1="130.58" y1="317.60" x2="130.58" y2="319.60" stroke="#111" stroke-width="0.6"/>
<line x1="131.25" y1="317.60" x2="131.25" y2="319.60" stroke="#111" stroke-width="0.6"/>
<line x1="131.83" y1="317.60" x2="131.83" y2="319.60" stroke="#111" stroke-width="0.6"/>
<line x1="132.34" y1="317.60" x2="132.34" y2="319.60" stroke="#111" stroke-width="0.6"/>
<line x1="143.10" y1="317.60" x2="143.10" y2="320.60" stroke="#111" stroke-width="0.9"/>
<g transform="translate(143.40 327.20) scale(0.9 1)"><text x="0" y="0" font-size="4.5" text-anchor="middle" fill="#444">10<tspan dy="-1.6" font-size="2.8">4</tspan></text></g>
<line x1="136.11" y1="317.60" x2="136.11" y2="319.60" stroke="#111" stroke-width="0.6"/>
<line x1="137.87" y1="317.60" x2="137.87" y2="319.60" stroke="#111" stroke-width="0.6"/>
<line x1="139.12" y1="317.60" x2="139.12" y2="319.60" stroke="#111" stroke-width="0.6"/>
<line x1="140.09" y1="317.60" x2="140.09" y2="319.60" stroke="#111" stroke-width="0.6"/>
<line x1="140.88" y1="317.60" x2="140.88" y2="319.60" stroke="#111" stroke-width="0.6"/>
<line x1="141.55" y1="317.60" x2="141.55" y2="319.60" stroke="#111" stroke-width="0.6"/>
<line x1="142.13" y1="317.60" x2="142.13" y2="319.60" stroke="#111" stroke-width="0.6"/>
<line x1="142.64" y1="317.60" x2="142.64" y2="319.60" stroke="#111" stroke-width="0.6"/>
<line x1="153.00" y1="317.60" x2="153.00" y2="320.60" stroke="#111" stroke-width="0.9"/>
<g transform="translate(153.30 327.20) scale(0.9 1)"><text x="0" y="0" font-size="4.5" text-anchor="middle" fill="#444">10<tspan dy="-1.6" font-size="2.8">5</tspan></text></g>
<line x1="146.01" y1="317.60" x2="146.01" y2="319.60" stroke="#111" stroke-width="0.6"/>
<line x1="147.77" y1="317.60" x2="147.77" y2="319.60" stroke="#111" stroke-width="0.6"/>
<line x1="149.02" y1="317.60" x2="149.02" y2="319.60" stroke="#111" stroke-width="0.6"/>
<line x1="149.99" y1="317.60" x2="149.99" y2="319.60" stroke="#111" stroke-width="0.6"/>
<line x1="150.78" y1="317.60" x2="150.78" y2="319.60" stroke="#111" stroke-width="0.6"/>
<line x1="151.45" y1="317.60" x2="151.45" y2="319.60" stroke="#111" stroke-width="0.6"/>
<line x1="152.03" y1="317.60" x2="152.03" y2="319.60" stroke="#111" stroke-width="0.6"/>
<line x1="152.54" y1="317.60" x2="152.54" y2="319.60" stroke="#111" stroke-width="0.6"/>
<line x1="118.50" y1="317.60" x2="118.50" y2="320.60" stroke="#111" stroke-width="0.9"/>
<line x1="116.00" y1="317.60" x2="116.00" y2="319.60" stroke="#111" stroke-width="0.6"/>
<line x1="120.50" y1="317.60" x2="120.50" y2="319.60" stroke="#111" stroke-width="0.6"/>
<g transform="translate(122.00 327.20) scale(0.9 1)"><text x="0" y="0" font-size="4.5" text-anchor="middle" fill="#444">0 10<tspan dy="-1.6" font-size="2.8">2</tspan></text></g>
<clipPath id="clip186_274"><rect x="186.30" y="274.80" width="43.60" height="42.40"/></clipPath>
<clipPath id="env186_274"><path d="M205.1 280.1C206.1 279.8 207.4 279.7 208.0 280.6C208.6 281.5 208.4 284.1 208.9 285.4C209.4 286.7 209.8 287.5 210.8 288.3C211.8 289.1 214.2 289.2 214.7 290.2C215.2 291.2 214.3 292.7 213.7 294.1C213.0 295.6 212.1 297.3 210.8 298.9C209.5 300.5 207.6 302.3 206.0 303.7C204.4 305.1 202.5 306.6 201.2 307.1C199.8 307.6 198.6 307.8 197.9 306.6C197.2 305.4 197.0 302.2 196.9 299.8C196.8 297.4 197.0 294.4 197.4 292.2C197.8 290.0 198.5 288.0 199.3 286.4C200.1 284.8 201.2 283.6 202.2 282.5C203.2 281.4 204.1 280.4 205.1 280.1Z"/></clipPath>
<g clip-path="url(#clip186_274)"><path d="M205.1 280.1C206.1 279.8 207.4 279.7 208.0 280.6C208.6 281.5 208.4 284.1 208.9 285.4C209.4 286.7 209.8 287.5 210.8 288.3C211.8 289.1 214.2 289.2 214.7 290.2C215.2 291.2 214.3 292.7 213.7 294.1C213.0 295.6 212.1 297.3 210.8 298.9C209.5 300.5 207.6 302.3 206.0 303.7C204.4 305.1 202.5 306.6 201.2 307.1C199.8 307.6 198.6 307.8 197.9 306.6C197.2 305.4 197.0 302.2 196.9 299.8C196.8 297.4 197.0 294.4 197.4 292.2C197.8 290.0 198.5 288.0 199.3 286.4C200.1 284.8 201.2 283.6 202.2 282.5C203.2 281.4 204.1 280.4 205.1 280.1Z" fill="#0a22ff"/>
<g clip-path="url(#env186_274)">
<path d="M205.3 280.1 203.3 280.1 201.0 282.1 198.6 286.5 197.0 292.5 197.0 294.5 196.6 294.8 196.6 302.1 197.0 302.5 197.0 303.8 197.6 306.1 198.6 307.8 200.0 308.8 202.0 308.8 204.6 306.5 210.0 295.8 211.0 292.5 210.6 289.5 208.6 285.5 208.6 284.8 206.6 281.1Z" fill="#0a70ff" fill-rule="evenodd"/>
<path d="M204.3 282.8 202.3 283.5 200.6 285.5 199.6 287.5 198.0 293.5 198.0 296.8 197.6 297.1 198.0 301.5 199.0 304.5 199.6 305.5 201.0 306.1 203.0 305.5 205.3 302.5 206.6 299.8 208.6 294.1 208.6 290.1 208.0 287.8 206.6 284.8 205.6 283.5Z" fill="#00b8ff" fill-rule="evenodd"/>
<path d="M204.3 285.1 202.6 285.5 201.3 286.8 200.0 289.5 199.3 291.5 199.3 292.8 199.0 293.1 199.0 295.1 198.6 295.5 199.0 300.5 199.6 302.5 201.0 303.8 202.6 303.5 204.3 301.8 205.6 299.5 207.3 294.5 207.3 290.5 207.0 290.1 207.0 289.1 205.6 286.1Z" fill="#00e8d8" fill-rule="evenodd"/>
<path d="M204.0 286.8 202.6 287.1 201.6 288.1 200.3 290.8 200.3 291.8 199.6 293.5 199.6 299.1 201.0 301.8 202.6 301.8 204.0 300.5 206.0 296.1 206.3 290.8 205.6 288.5 205.0 287.5Z" fill="#18e030" fill-rule="evenodd"/>
<path d="M204.0 288.5 203.0 288.5 201.6 289.8 200.3 293.8 200.3 297.8 201.0 299.5 202.0 300.1 204.0 298.5 205.3 294.8 205.3 290.8 204.6 289.1Z" fill="#a8f018" fill-rule="evenodd"/>
<path d="M203.3 289.5 202.0 290.5 201.0 293.1 201.0 297.5 201.6 298.5 202.6 298.5 203.6 297.5 204.6 295.1 204.6 291.1 204.3 290.1Z" fill="#ffe600" fill-rule="evenodd"/>
<path d="M203.6 290.8 202.6 290.8 201.6 292.5 201.3 295.8 202.0 297.1 202.6 297.1 204.0 295.1 204.3 292.8Z" fill="#ff8a00" fill-rule="evenodd"/>
<path d="M203.3 291.8 202.6 291.8 202.0 292.8 202.0 295.8 202.3 296.1 203.0 295.8 203.6 294.5 203.6 292.1Z" fill="#ff1400" fill-rule="evenodd"/>
</g></g>
<polyline points="209.40,274.80 209.40,289.30 222.40,289.30 222.40,274.80" fill="none" stroke="#666" stroke-width="0.7"/>
<text x="213.70" y="301.00" font-size="6.38" text-anchor="start" textLength="11.09" lengthAdjust="spacingAndGlyphs" fill="#333" >1.40</text>
<rect x="186.30" y="274.80" width="43.60" height="42.40" fill="none" stroke="#111" stroke-width="1"/>
<line x1="183.30" y1="278.60" x2="186.30" y2="278.60" stroke="#111" stroke-width="0.9"/>
<g transform="translate(180.50 280.20) scale(0.9 1)"><text x="0" y="0" font-size="4.5" text-anchor="end" fill="#444">10<tspan dy="-1.6" font-size="2.8">4</tspan></text></g>
<line x1="183.30" y1="288.40" x2="186.30" y2="288.40" stroke="#111" stroke-width="0.9"/>
<g transform="translate(180.50 290.00) scale(0.9 1)"><text x="0" y="0" font-size="4.5" text-anchor="end" fill="#444">10<tspan dy="-1.6" font-size="2.8">3</tspan></text></g>
<line x1="183.30" y1="300.40" x2="186.30" y2="300.40" stroke="#111" stroke-width="0.9"/>
<g transform="translate(180.50 302.00) scale(0.9 1)"><text x="0" y="0" font-size="4.5" text-anchor="end" fill="#444">10<tspan dy="-1.6" font-size="2.8">2</tspan></text></g>
<line x1="183.30" y1="315.90" x2="186.30" y2="315.90" stroke="#111" stroke-width="0.9"/>
<g transform="translate(180.50 317.50) scale(0.9 1)"><text x="0" y="0" font-size="4.5" text-anchor="end" fill="#444">-10<tspan dy="-1.6" font-size="2.8">2</tspan></text></g>
<line x1="184.30" y1="285.59" x2="186.30" y2="285.59" stroke="#111" stroke-width="0.6"/>
<line x1="184.30" y1="283.83" x2="186.30" y2="283.83" stroke="#111" stroke-width="0.6"/>
<line x1="184.30" y1="282.58" x2="186.30" y2="282.58" stroke="#111" stroke-width="0.6"/>
<line x1="184.30" y1="281.61" x2="186.30" y2="281.61" stroke="#111" stroke-width="0.6"/>
<line x1="184.30" y1="280.82" x2="186.30" y2="280.82" stroke="#111" stroke-width="0.6"/>
<line x1="184.30" y1="280.15" x2="186.30" y2="280.15" stroke="#111" stroke-width="0.6"/>
<line x1="184.30" y1="279.57" x2="186.30" y2="279.57" stroke="#111" stroke-width="0.6"/>
<line x1="184.30" y1="279.06" x2="186.30" y2="279.06" stroke="#111" stroke-width="0.6"/>
<line x1="184.30" y1="295.39" x2="186.30" y2="295.39" stroke="#111" stroke-width="0.6"/>
<line x1="184.30" y1="293.63" x2="186.30" y2="293.63" stroke="#111" stroke-width="0.6"/>
<line x1="184.30" y1="292.38" x2="186.30" y2="292.38" stroke="#111" stroke-width="0.6"/>
<line x1="184.30" y1="291.41" x2="186.30" y2="291.41" stroke="#111" stroke-width="0.6"/>
<line x1="184.30" y1="290.62" x2="186.30" y2="290.62" stroke="#111" stroke-width="0.6"/>
<line x1="184.30" y1="289.95" x2="186.30" y2="289.95" stroke="#111" stroke-width="0.6"/>
<line x1="184.30" y1="289.37" x2="186.30" y2="289.37" stroke="#111" stroke-width="0.6"/>
<line x1="184.30" y1="288.86" x2="186.30" y2="288.86" stroke="#111" stroke-width="0.6"/>
<line x1="184.30" y1="302.80" x2="186.30" y2="302.80" stroke="#111" stroke-width="0.6"/>
<line x1="184.30" y1="305.30" x2="186.30" y2="305.30" stroke="#111" stroke-width="0.6"/>
<line x1="184.30" y1="312.30" x2="186.30" y2="312.30" stroke="#111" stroke-width="0.6"/>
<line x1="184.30" y1="313.80" x2="186.30" y2="313.80" stroke="#111" stroke-width="0.6"/>
<line x1="183.30" y1="309.30" x2="186.30" y2="309.30" stroke="#111" stroke-width="0.9"/>
<g transform="translate(180.50 310.90) scale(0.9 1)"><text x="0" y="0" font-size="4.5" text-anchor="end" fill="#444">0</text></g>
<line x1="189.20" y1="317.20" x2="189.20" y2="320.20" stroke="#111" stroke-width="0.9"/>
<g transform="translate(189.20 327.10) scale(0.9 1)"><text x="0" y="0" font-size="4.5" text-anchor="middle" fill="#444">-10<tspan dy="-1.6" font-size="2.8">2</tspan></text></g>
<line x1="203.10" y1="317.20" x2="203.10" y2="320.20" stroke="#111" stroke-width="0.9"/>
<g transform="translate(203.10 327.10) scale(0.9 1)"><text x="0" y="0" font-size="4.5" text-anchor="middle" fill="#444">10<tspan dy="-1.6" font-size="2.8">2</tspan></text></g>
<line x1="216.10" y1="317.20" x2="216.10" y2="320.20" stroke="#111" stroke-width="0.9"/>
<g transform="translate(216.10 327.10) scale(0.9 1)"><text x="0" y="0" font-size="4.5" text-anchor="middle" fill="#444">10<tspan dy="-1.6" font-size="2.8">3</tspan></text></g>
<line x1="225.70" y1="317.20" x2="225.70" y2="320.20" stroke="#111" stroke-width="0.9"/>
<g transform="translate(225.70 327.10) scale(0.9 1)"><text x="0" y="0" font-size="4.5" text-anchor="middle" fill="#444">10<tspan dy="-1.6" font-size="2.8">4</tspan></text></g>
<line x1="209.11" y1="317.20" x2="209.11" y2="319.20" stroke="#111" stroke-width="0.6"/>
<line x1="210.87" y1="317.20" x2="210.87" y2="319.20" stroke="#111" stroke-width="0.6"/>
<line x1="212.12" y1="317.20" x2="212.12" y2="319.20" stroke="#111" stroke-width="0.6"/>
<line x1="213.09" y1="317.20" x2="213.09" y2="319.20" stroke="#111" stroke-width="0.6"/>
<line x1="213.88" y1="317.20" x2="213.88" y2="319.20" stroke="#111" stroke-width="0.6"/>
<line x1="214.55" y1="317.20" x2="214.55" y2="319.20" stroke="#111" stroke-width="0.6"/>
<line x1="215.13" y1="317.20" x2="215.13" y2="319.20" stroke="#111" stroke-width="0.6"/>
<line x1="215.64" y1="317.20" x2="215.64" y2="319.20" stroke="#111" stroke-width="0.6"/>
<line x1="218.71" y1="317.20" x2="218.71" y2="319.20" stroke="#111" stroke-width="0.6"/>
<line x1="220.47" y1="317.20" x2="220.47" y2="319.20" stroke="#111" stroke-width="0.6"/>
<line x1="221.72" y1="317.20" x2="221.72" y2="319.20" stroke="#111" stroke-width="0.6"/>
<line x1="222.69" y1="317.20" x2="222.69" y2="319.20" stroke="#111" stroke-width="0.6"/>
<line x1="223.48" y1="317.20" x2="223.48" y2="319.20" stroke="#111" stroke-width="0.6"/>
<line x1="224.15" y1="317.20" x2="224.15" y2="319.20" stroke="#111" stroke-width="0.6"/>
<line x1="224.73" y1="317.20" x2="224.73" y2="319.20" stroke="#111" stroke-width="0.6"/>
<line x1="225.24" y1="317.20" x2="225.24" y2="319.20" stroke="#111" stroke-width="0.6"/>
<line x1="191.80" y1="317.20" x2="191.80" y2="319.20" stroke="#111" stroke-width="0.6"/>
<line x1="193.30" y1="317.20" x2="193.30" y2="319.20" stroke="#111" stroke-width="0.6"/>
<line x1="199.30" y1="317.20" x2="199.30" y2="319.20" stroke="#111" stroke-width="0.6"/>
<line x1="200.80" y1="317.20" x2="200.80" y2="319.20" stroke="#111" stroke-width="0.6"/>
<line x1="205.80" y1="317.20" x2="205.80" y2="319.20" stroke="#111" stroke-width="0.6"/>
<line x1="196.50" y1="317.20" x2="196.50" y2="320.20" stroke="#111" stroke-width="0.9"/>
<g transform="translate(196.50 327.10) scale(0.9 1)"><text x="0" y="0" font-size="4.5" text-anchor="middle" fill="#444">0</text></g>
<clipPath id="clip252_274"><rect x="252.60" y="274.70" width="43.50" height="42.50"/></clipPath>
<clipPath id="env252_274"><path d="M270.1 279.7C271.2 279.3 272.9 280.0 274.0 280.1C275.1 280.2 275.7 280.5 276.8 280.1C277.9 279.7 279.9 277.4 280.7 277.7C281.5 277.9 281.7 279.8 281.7 281.6C281.7 283.4 281.3 286.9 280.7 288.3C280.1 289.7 278.1 289.4 277.8 290.2C277.5 291.0 279.1 292.3 278.8 293.1C278.5 293.9 276.7 293.9 275.9 295.0C275.1 296.1 274.8 298.4 274.0 299.8C273.2 301.2 271.2 302.9 271.1 303.7C271.0 304.5 273.5 304.3 273.5 304.7C273.5 305.1 272.5 305.7 271.1 306.1C269.7 306.5 266.6 307.5 265.3 307.1C264.0 306.7 263.7 305.6 263.4 303.7C263.1 301.8 263.2 298.7 263.4 296.0C263.6 293.3 264.2 289.6 264.8 287.3C265.4 285.1 266.3 283.8 267.2 282.5C268.1 281.2 269.0 280.1 270.1 279.7Z"/></clipPath>
<g clip-path="url(#clip252_274)"><path d="M270.1 279.7C271.2 279.3 272.9 280.0 274.0 280.1C275.1 280.2 275.7 280.5 276.8 280.1C277.9 279.7 279.9 277.4 280.7 277.7C281.5 277.9 281.7 279.8 281.7 281.6C281.7 283.4 281.3 286.9 280.7 288.3C280.1 289.7 278.1 289.4 277.8 290.2C277.5 291.0 279.1 292.3 278.8 293.1C278.5 293.9 276.7 293.9 275.9 295.0C275.1 296.1 274.8 298.4 274.0 299.8C273.2 301.2 271.2 302.9 271.1 303.7C271.0 304.5 273.5 304.3 273.5 304.7C273.5 305.1 272.5 305.7 271.1 306.1C269.7 306.5 266.6 307.5 265.3 307.1C264.0 306.7 263.7 305.6 263.4 303.7C263.1 301.8 263.2 298.7 263.4 296.0C263.6 293.3 264.2 289.6 264.8 287.3C265.4 285.1 266.3 283.8 267.2 282.5C268.1 281.2 269.0 280.1 270.1 279.7Z" fill="#0a22ff"/>
<g clip-path="url(#env252_274)">
<path d="M270.6 277.7 268.6 278.4 265.9 281.7 263.9 286.7 263.3 290.7 262.9 291.0 262.9 293.0 262.6 293.4 262.6 301.4 262.9 301.7 262.9 303.0 263.6 305.4 264.6 307.0 265.9 308.0 267.9 308.0 268.9 307.4 271.6 303.7 273.6 298.4 274.9 292.7 276.6 289.0 277.6 287.7 278.6 284.7 278.6 283.4 277.6 282.0 276.6 282.0 274.9 281.4 271.6 278.0Z" fill="#0a70ff" fill-rule="evenodd"/>
<path d="M270.6 280.7 268.9 281.0 266.6 283.7 264.6 288.7 264.6 290.0 263.9 292.0 263.9 294.7 263.6 295.0 263.9 300.7 264.9 303.7 266.3 305.0 267.9 305.0 268.6 304.7 270.6 302.4 272.6 297.4 273.6 292.7 275.3 287.7 275.3 286.0 274.6 284.7 273.3 283.0Z" fill="#00b8ff" fill-rule="evenodd"/>
<path d="M270.6 283.0 269.3 283.0 267.9 284.0 265.9 287.7 265.3 291.0 264.9 291.4 264.6 297.7 264.9 298.0 265.3 300.7 266.6 302.7 268.3 302.7 269.9 301.0 271.3 298.4 272.9 292.4 272.9 291.0 273.3 290.7 273.3 286.7 272.3 284.7Z" fill="#00e8d8" fill-rule="evenodd"/>
<path d="M270.3 284.7 269.3 284.7 267.9 285.7 266.9 287.4 265.9 290.4 265.9 291.7 265.6 292.0 265.6 298.4 266.3 300.0 266.9 300.7 268.9 300.4 270.6 297.7 271.6 294.7 271.6 293.4 272.3 291.4 272.3 288.0 271.3 285.7Z" fill="#18e030" fill-rule="evenodd"/>
<path d="M269.9 286.4 268.9 286.4 267.9 287.4 266.9 289.4 266.9 290.4 266.3 292.0 266.3 296.7 267.3 298.7 268.9 298.4 270.9 294.0 270.9 292.7 271.3 292.4 271.3 288.4 270.9 287.4Z" fill="#a8f018" fill-rule="evenodd"/>
<path d="M269.6 287.4 268.3 288.0 266.9 291.4 266.6 294.4 266.9 294.7 266.9 296.4 267.9 297.4 269.3 296.4 270.6 292.7 270.6 288.7Z" fill="#ffe600" fill-rule="evenodd"/>
<path d="M269.6 288.7 268.9 288.7 268.3 289.4 267.3 292.0 267.3 294.7 267.9 295.7 268.9 295.4 269.9 293.0 269.9 291.4 270.3 291.0Z" fill="#ff8a00" fill-rule="evenodd"/>
<path d="M268.9 289.7 267.9 291.0 267.9 294.4 268.3 294.7 269.3 293.7 269.6 292.7 269.6 290.0Z" fill="#ff1400" fill-rule="evenodd"/>
</g></g>
<polyline points="275.90,274.70 275.90,289.30 289.30,289.30 289.30,274.70" fill="none" stroke="#666" stroke-width="0.7"/>
<text x="280.20" y="301.00" font-size="6.38" text-anchor="start" textLength="11.09" lengthAdjust="spacingAndGlyphs" fill="#333" >5.56</text>
<rect x="252.60" y="274.70" width="43.50" height="42.50" fill="none" stroke="#111" stroke-width="1"/>
<line x1="249.60" y1="278.50" x2="252.60" y2="278.50" stroke="#111" stroke-width="0.9"/>
<g transform="translate(246.80 280.10) scale(0.9 1)"><text x="0" y="0" font-size="4.5" text-anchor="end" fill="#444">10<tspan dy="-1.6" font-size="2.8">4</tspan></text></g>
<line x1="249.60" y1="288.30" x2="252.60" y2="288.30" stroke="#111" stroke-width="0.9"/>
<g transform="translate(246.80 289.90) scale(0.9 1)"><text x="0" y="0" font-size="4.5" text-anchor="end" fill="#444">10<tspan dy="-1.6" font-size="2.8">3</tspan></text></g>
<line x1="249.60" y1="300.30" x2="252.60" y2="300.30" stroke="#111" stroke-width="0.9"/>
<g transform="translate(246.80 301.90) scale(0.9 1)"><text x="0" y="0" font-size="4.5" text-anchor="end" fill="#444">10<tspan dy="-1.6" font-size="2.8">2</tspan></text></g>
<line x1="249.60" y1="315.80" x2="252.60" y2="315.80" stroke="#111" stroke-width="0.9"/>
<g transform="translate(246.80 317.40) scale(0.9 1)"><text x="0" y="0" font-size="4.5" text-anchor="end" fill="#444">-10<tspan dy="-1.6" font-size="2.8">2</tspan></text></g>
<line x1="250.60" y1="285.49" x2="252.60" y2="285.49" stroke="#111" stroke-width="0.6"/>
<line x1="250.60" y1="283.73" x2="252.60" y2="283.73" stroke="#111" stroke-width="0.6"/>
<line x1="250.60" y1="282.48" x2="252.60" y2="282.48" stroke="#111" stroke-width="0.6"/>
<line x1="250.60" y1="281.51" x2="252.60" y2="281.51" stroke="#111" stroke-width="0.6"/>
<line x1="250.60" y1="280.72" x2="252.60" y2="280.72" stroke="#111" stroke-width="0.6"/>
<line x1="250.60" y1="280.05" x2="252.60" y2="280.05" stroke="#111" stroke-width="0.6"/>
<line x1="250.60" y1="279.47" x2="252.60" y2="279.47" stroke="#111" stroke-width="0.6"/>
<line x1="250.60" y1="278.96" x2="252.60" y2="278.96" stroke="#111" stroke-width="0.6"/>
<line x1="250.60" y1="295.29" x2="252.60" y2="295.29" stroke="#111" stroke-width="0.6"/>
<line x1="250.60" y1="293.53" x2="252.60" y2="293.53" stroke="#111" stroke-width="0.6"/>
<line x1="250.60" y1="292.28" x2="252.60" y2="292.28" stroke="#111" stroke-width="0.6"/>
<line x1="250.60" y1="291.31" x2="252.60" y2="291.31" stroke="#111" stroke-width="0.6"/>
<line x1="250.60" y1="290.52" x2="252.60" y2="290.52" stroke="#111" stroke-width="0.6"/>
<line x1="250.60" y1="289.85" x2="252.60" y2="289.85" stroke="#111" stroke-width="0.6"/>
<line x1="250.60" y1="289.27" x2="252.60" y2="289.27" stroke="#111" stroke-width="0.6"/>
<line x1="250.60" y1="288.76" x2="252.60" y2="288.76" stroke="#111" stroke-width="0.6"/>
<line x1="250.60" y1="302.70" x2="252.60" y2="302.70" stroke="#111" stroke-width="0.6"/>
<line x1="250.60" y1="305.20" x2="252.60" y2="305.20" stroke="#111" stroke-width="0.6"/>
<line x1="250.60" y1="312.20" x2="252.60" y2="312.20" stroke="#111" stroke-width="0.6"/>
<line x1="250.60" y1="313.70" x2="252.60" y2="313.70" stroke="#111" stroke-width="0.6"/>
<line x1="249.60" y1="309.20" x2="252.60" y2="309.20" stroke="#111" stroke-width="0.9"/>
<g transform="translate(246.80 310.80) scale(0.9 1)"><text x="0" y="0" font-size="4.5" text-anchor="end" fill="#444">0</text></g>
<line x1="255.50" y1="317.20" x2="255.50" y2="320.20" stroke="#111" stroke-width="0.9"/>
<g transform="translate(255.50 327.10) scale(0.9 1)"><text x="0" y="0" font-size="4.5" text-anchor="middle" fill="#444">-10<tspan dy="-1.6" font-size="2.8">2</tspan></text></g>
<line x1="269.40" y1="317.20" x2="269.40" y2="320.20" stroke="#111" stroke-width="0.9"/>
<g transform="translate(269.40 327.10) scale(0.9 1)"><text x="0" y="0" font-size="4.5" text-anchor="middle" fill="#444">10<tspan dy="-1.6" font-size="2.8">2</tspan></text></g>
<line x1="282.40" y1="317.20" x2="282.40" y2="320.20" stroke="#111" stroke-width="0.9"/>
<g transform="translate(282.40 327.10) scale(0.9 1)"><text x="0" y="0" font-size="4.5" text-anchor="middle" fill="#444">10<tspan dy="-1.6" font-size="2.8">3</tspan></text></g>
<line x1="292.00" y1="317.20" x2="292.00" y2="320.20" stroke="#111" stroke-width="0.9"/>
<g transform="translate(292.00 327.10) scale(0.9 1)"><text x="0" y="0" font-size="4.5" text-anchor="middle" fill="#444">10<tspan dy="-1.6" font-size="2.8">4</tspan></text></g>
<line x1="275.41" y1="317.20" x2="275.41" y2="319.20" stroke="#111" stroke-width="0.6"/>
<line x1="277.17" y1="317.20" x2="277.17" y2="319.20" stroke="#111" stroke-width="0.6"/>
<line x1="278.42" y1="317.20" x2="278.42" y2="319.20" stroke="#111" stroke-width="0.6"/>
<line x1="279.39" y1="317.20" x2="279.39" y2="319.20" stroke="#111" stroke-width="0.6"/>
<line x1="280.18" y1="317.20" x2="280.18" y2="319.20" stroke="#111" stroke-width="0.6"/>
<line x1="280.85" y1="317.20" x2="280.85" y2="319.20" stroke="#111" stroke-width="0.6"/>
<line x1="281.43" y1="317.20" x2="281.43" y2="319.20" stroke="#111" stroke-width="0.6"/>
<line x1="281.94" y1="317.20" x2="281.94" y2="319.20" stroke="#111" stroke-width="0.6"/>
<line x1="285.01" y1="317.20" x2="285.01" y2="319.20" stroke="#111" stroke-width="0.6"/>
<line x1="286.77" y1="317.20" x2="286.77" y2="319.20" stroke="#111" stroke-width="0.6"/>
<line x1="288.02" y1="317.20" x2="288.02" y2="319.20" stroke="#111" stroke-width="0.6"/>
<line x1="288.99" y1="317.20" x2="288.99" y2="319.20" stroke="#111" stroke-width="0.6"/>
<line x1="289.78" y1="317.20" x2="289.78" y2="319.20" stroke="#111" stroke-width="0.6"/>
<line x1="290.45" y1="317.20" x2="290.45" y2="319.20" stroke="#111" stroke-width="0.6"/>
<line x1="291.03" y1="317.20" x2="291.03" y2="319.20" stroke="#111" stroke-width="0.6"/>
<line x1="291.54" y1="317.20" x2="291.54" y2="319.20" stroke="#111" stroke-width="0.6"/>
<line x1="258.10" y1="317.20" x2="258.10" y2="319.20" stroke="#111" stroke-width="0.6"/>
<line x1="259.60" y1="317.20" x2="259.60" y2="319.20" stroke="#111" stroke-width="0.6"/>
<line x1="265.60" y1="317.20" x2="265.60" y2="319.20" stroke="#111" stroke-width="0.6"/>
<line x1="267.10" y1="317.20" x2="267.10" y2="319.20" stroke="#111" stroke-width="0.6"/>
<line x1="272.10" y1="317.20" x2="272.10" y2="319.20" stroke="#111" stroke-width="0.6"/>
<line x1="262.80" y1="317.20" x2="262.80" y2="320.20" stroke="#111" stroke-width="0.9"/>
<g transform="translate(262.80 327.10) scale(0.9 1)"><text x="0" y="0" font-size="4.5" text-anchor="middle" fill="#444">0</text></g>
<text x="395.10" y="12.70" font-size="7.17" text-anchor="middle" textLength="20.63" lengthAdjust="spacingAndGlyphs" fill="#222" >Control</text>
<text x="395.3" y="20.2" font-size="7.17" text-anchor="middle" fill="#222" textLength="34.81" lengthAdjust="spacingAndGlyphs">CD8<tspan dy="-2.3" font-size="4.6" font-weight="bold">+</tspan><tspan dy="2.3"> iTregs</tspan></text>
<text x="460.50" y="12.70" font-size="7.17" text-anchor="middle" textLength="35.81" lengthAdjust="spacingAndGlyphs" fill="#222" >Vit C-treated</text>
<text x="460.5" y="20.2" font-size="7.17" text-anchor="middle" fill="#222" textLength="34.81" lengthAdjust="spacingAndGlyphs">CD8<tspan dy="-2.3" font-size="4.6" font-weight="bold">+</tspan><tspan dy="2.3"> iTregs</tspan></text>
<text x="330.80" y="45.10" font-size="7.39" text-anchor="middle" textLength="37.80" lengthAdjust="spacingAndGlyphs" fill="#222" >Before CD25</text>
<text x="330.90" y="52.80" font-size="7.39" text-anchor="middle" textLength="30.70" lengthAdjust="spacingAndGlyphs" fill="#222" >enrichment</text>
<text x="330.80" y="108.60" font-size="7.39" text-anchor="middle" textLength="32.64" lengthAdjust="spacingAndGlyphs" fill="#222" >After CD25</text>
<text x="330.90" y="116.30" font-size="7.39" text-anchor="middle" textLength="30.70" lengthAdjust="spacingAndGlyphs" fill="#222" >enrichment</text>
<line x1="353.80" y1="118.50" x2="353.80" y2="30.20" stroke="#111" stroke-width="1"/>
<polygon points="351.60,31.20 353.80,26.20 356.00,31.20" fill="#111"/>
<text x="356.70" y="127.00" font-size="8.06" text-anchor="middle" textLength="11.60" lengthAdjust="spacingAndGlyphs" transform="rotate(-90 356.7 127)" stroke="#111" stroke-width="0.15">CD25</text>
<text x="373.30" y="152.10" font-size="8.06" text-anchor="start" textLength="11.30" lengthAdjust="spacingAndGlyphs" stroke="#111" stroke-width="0.15">Foxp3</text>
<line x1="388.00" y1="150.40" x2="478.50" y2="150.40" stroke="#111" stroke-width="1"/>
<polygon points="477.50,148.20 482.50,150.40 477.50,152.60" fill="#111"/>
<text x="103.50" y="187.90" font-size="9.63" text-anchor="middle" textLength="20.08" lengthAdjust="spacingAndGlyphs" >Day3</text>
<text x="241.30" y="187.90" font-size="9.63" text-anchor="middle" textLength="20.08" lengthAdjust="spacingAndGlyphs" >Day6</text>
<text x="71.00" y="198.30" font-size="7.17" text-anchor="middle" textLength="20.63" lengthAdjust="spacingAndGlyphs" fill="#222" >Control</text>
<text x="71.20" y="205.7" font-size="7.17" text-anchor="middle" fill="#222" textLength="34.81" lengthAdjust="spacingAndGlyphs">CD8<tspan dy="-2.3" font-size="4.6" font-weight="bold">+</tspan><tspan dy="2.3"> iTregs</tspan></text>
<text x="135.80" y="198.30" font-size="7.17" text-anchor="middle" textLength="35.81" lengthAdjust="spacingAndGlyphs" fill="#222" >Vit C-treated</text>
<text x="136.00" y="205.7" font-size="7.17" text-anchor="middle" fill="#222" textLength="34.81" lengthAdjust="spacingAndGlyphs">CD8<tspan dy="-2.3" font-size="4.6" font-weight="bold">+</tspan><tspan dy="2.3"> iTregs</tspan></text>
<text x="207.90" y="198.30" font-size="7.17" text-anchor="middle" textLength="20.63" lengthAdjust="spacingAndGlyphs" fill="#222" >Control</text>
<text x="208.10" y="205.7" font-size="7.17" text-anchor="middle" fill="#222" textLength="34.81" lengthAdjust="spacingAndGlyphs">CD8<tspan dy="-2.3" font-size="4.6" font-weight="bold">+</tspan><tspan dy="2.3"> iTregs</tspan></text>
<text x="274.40" y="198.30" font-size="7.17" text-anchor="middle" textLength="35.81" lengthAdjust="spacingAndGlyphs" fill="#222" >Vit C-treated</text>
<text x="274.60" y="205.7" font-size="7.17" text-anchor="middle" fill="#222" textLength="34.81" lengthAdjust="spacingAndGlyphs">CD8<tspan dy="-2.3" font-size="4.6" font-weight="bold">+</tspan><tspan dy="2.3"> iTregs</tspan></text>
<text x="7.00" y="234.50" font-size="7.50" text-anchor="start" textLength="10.50" lengthAdjust="spacingAndGlyphs" fill="#222" >IL-2</text>
<text x="7.00" y="294.00" font-size="7.50" text-anchor="start" textLength="16.90" lengthAdjust="spacingAndGlyphs" fill="#222" >IL-2 +</text>
<text x="7.00" y="302.30" font-size="7.50" text-anchor="start" textLength="14.50" lengthAdjust="spacingAndGlyphs" fill="#222" >IL 12</text>
<line x1="30.30" y1="303.50" x2="30.30" y2="221.00" stroke="#111" stroke-width="1"/>
<polygon points="28.10,222.00 30.30,217.00 32.50,222.00" fill="#111"/>
<text x="32.70" y="312.75" font-size="8.06" text-anchor="middle" textLength="11.50" lengthAdjust="spacingAndGlyphs" transform="rotate(-90 32.7 312.75)" stroke="#111" stroke-width="0.15">CD25</text>
<text x="50.00" y="337.60" font-size="8.06" text-anchor="start" textLength="11.60" lengthAdjust="spacingAndGlyphs" stroke="#111" stroke-width="0.15">Foxp3</text>
<line x1="64.40" y1="335.60" x2="288.70" y2="335.60" stroke="#111" stroke-width="1"/>
<polygon points="287.70,333.40 292.70,335.60 287.70,337.80" fill="#111"/>
</g></svg>
</body></html>
